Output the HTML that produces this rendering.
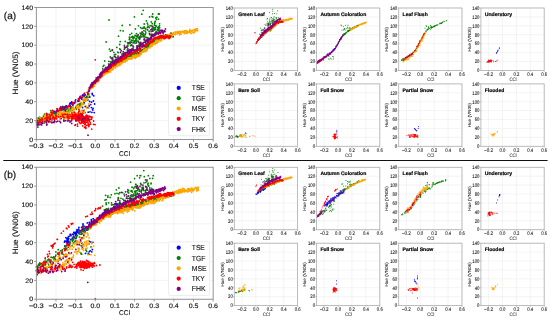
<!DOCTYPE html>
<html><head><meta charset="utf-8"><style>
html,body{margin:0;padding:0;background:#fff;width:550px;height:319px;overflow:hidden}
svg{display:block;font-family:"Liberation Sans",sans-serif;will-change:transform;text-rendering:geometricPrecision;filter:blur(0.3px)}
</style></head><body>
<svg width="550" height="319" viewBox="0 0 550 319">
<rect width="550" height="319" fill="#fff"/>
<path d="M36.35 7.45V139.45M55.99 7.45V139.45M75.64 7.45V139.45M95.28 7.45V139.45M114.93 7.45V139.45M134.57 7.45V139.45M154.22 7.45V139.45M173.86 7.45V139.45M193.51 7.45V139.45M213.15 7.45V139.45M36.35 139.45H213.15M36.35 120.59H213.15M36.35 101.74H213.15M36.35 82.88H213.15M36.35 64.02H213.15M36.35 45.16H213.15M36.35 26.31H213.15M36.35 7.45H213.15" stroke="#ebebeb" stroke-width="0.6" fill="none"/>
<path d="M55.1 112.7h0M82.7 94.9h0M69.3 105.8h0M80.5 96.5h0M90.5 87.1h0M73.2 104.5h0M71.8 107.0h0M54.9 111.3h0M62.6 108.2h0M71.7 102.0h0M78.8 99.3h0M83.6 95.9h0M67.0 106.7h0M54.7 112.0h0M63.4 107.2h0M87.8 94.0h0M60.4 108.1h0M69.8 105.1h0M88.7 91.6h0M53.0 113.6h0M75.7 99.8h0M89.4 90.7h0M61.1 110.5h0M73.6 103.2h0M87.8 93.6h0M57.3 112.3h0M72.6 104.6h0M81.5 98.1h0M78.4 101.3h0M70.4 107.2h0M60.1 108.9h0M71.3 103.6h0M66.7 109.5h0M70.8 102.8h0M66.4 106.2h0M85.0 94.7h0M82.3 95.8h0M64.4 106.9h0M74.6 102.9h0M62.9 107.6h0M69.9 103.4h0M65.9 107.0h0M77.9 101.0h0M66.6 106.0h0M70.1 105.5h0M86.9 96.3h0M92.6 109.7h0M87.8 99.9h0M89.9 97.1h0M91.5 102.2h0M92.7 109.8h0M91.9 112.3h0M82.6 107.5h0M87.7 97.1h0M88.2 112.2h0M83.2 112.9h0M89.2 105.9h0M90.0 111.8h0M92.8 110.1h0M94.2 112.6h0M84.1 102.7h0M85.4 99.3h0M90.7 104.6h0M84.2 110.4h0M85.3 106.5h0M89.6 101.4h0M84.6 94.4h0M92.2 93.4h0M93.1 108.3h0M82.9 112.8h0M89.1 96.6h0M92.4 94.7h0M94.6 104.0h0M85.9 97.8h0M84.6 95.9h0M93.4 101.0h0M93.8 95.8h0M85.0 112.6h0M88.0 107.7h0M91.4 107.6h0M97.0 81.0h0M93.0 83.3h0M101.3 73.3h0M91.9 85.4h0M92.1 83.2h0M103.4 72.5h0M100.3 76.8h0M97.1 78.9h0M100.7 75.9h0M98.2 80.1h0M95.5 80.6h0M93.1 83.0h0M96.9 79.8h0M102.1 72.5h0M93.0 84.6h0" stroke="#0000ff" stroke-width="1.80" stroke-linecap="round" fill="none"/>
<path d="M42.7 118.2h0M84.7 101.3h0M38.0 118.1h0M72.0 108.0h0M40.1 119.8h0M55.5 113.1h0M58.5 113.7h0M46.0 119.3h0M64.0 110.0h0M64.7 111.6h0M53.2 114.4h0M75.4 108.2h0M44.8 118.9h0M46.6 117.8h0M55.2 113.8h0M56.4 113.8h0M47.3 116.1h0M85.1 97.8h0M80.3 105.2h0M42.0 120.0h0M55.9 113.9h0M48.7 116.4h0M60.3 114.0h0M51.0 116.0h0M63.0 112.4h0M85.3 99.7h0M56.6 113.8h0M70.8 108.5h0M67.9 113.7h0M76.2 109.1h0M39.6 117.2h0M75.9 107.1h0M86.5 97.7h0M68.4 109.8h0M51.6 114.5h0M72.0 109.7h0M74.1 109.3h0M71.2 107.8h0M44.1 123.0h0M88.0 96.7h0M87.0 96.3h0M58.9 114.8h0M67.8 108.4h0M38.5 120.8h0M88.8 94.1h0M79.8 105.8h0M70.1 109.9h0M76.7 105.7h0M46.3 117.7h0M52.7 115.9h0M49.4 116.2h0M68.0 111.8h0M41.2 118.3h0M83.9 100.7h0M60.9 112.8h0M59.9 109.8h0M41.9 119.0h0M72.7 109.8h0M79.7 104.0h0M69.7 109.7h0M49.2 118.0h0M78.0 104.3h0M44.1 119.2h0M80.2 104.1h0M67.2 111.4h0M51.7 114.5h0M63.6 110.6h0M69.7 109.0h0M50.1 116.8h0M81.3 105.1h0M58.7 113.2h0M83.7 100.4h0M80.7 102.9h0M41.6 120.0h0M70.6 110.8h0M52.8 114.9h0M76.3 108.5h0M65.1 113.7h0M60.6 114.3h0M83.8 103.8h0M39.4 120.0h0M65.9 111.1h0M53.7 115.0h0M38.2 120.5h0M76.3 109.3h0M66.1 109.1h0M83.8 99.5h0M68.1 110.8h0M54.2 117.1h0M88.6 95.3h0M57.3 110.8h0M61.1 108.5h0M47.0 114.8h0M65.5 108.1h0M54.8 113.4h0M51.1 112.8h0M57.4 111.0h0M48.8 116.2h0M57.3 109.7h0M44.4 115.2h0M63.7 108.2h0M52.3 113.3h0M43.5 116.2h0M49.2 115.0h0M62.7 109.9h0M60.1 109.3h0M50.6 115.3h0M46.7 114.8h0M47.4 116.6h0M65.3 107.3h0M39.7 118.1h0M62.5 106.5h0M61.6 110.1h0M43.0 118.2h0M46.6 116.0h0M53.1 114.0h0M60.0 110.4h0M64.4 107.1h0M65.6 106.2h0M44.6 114.1h0M42.0 117.8h0M50.7 110.7h0M52.8 110.6h0M55.7 112.0h0M39.5 120.6h0M75.1 117.4h0M67.2 116.6h0M68.9 113.8h0M41.2 120.5h0M56.2 115.9h0M50.8 118.9h0M39.8 121.3h0M51.9 120.0h0M39.3 118.5h0M45.5 120.4h0M67.7 115.9h0M63.3 116.9h0M63.8 120.7h0M39.5 124.5h0M42.8 121.3h0M37.2 125.6h0M40.2 122.4h0M40.3 121.6h0M74.1 116.8h0M71.5 117.7h0M44.4 119.6h0M46.3 119.9h0M74.1 115.7h0M58.7 116.0h0M50.8 118.6h0M122.4 60.1h0M127.0 56.6h0M168.3 35.4h0M134.8 53.6h0M147.7 45.7h0M146.2 47.0h0M165.2 35.1h0M118.2 61.9h0M135.6 52.9h0M107.4 69.7h0M117.5 63.4h0M158.8 38.1h0M170.8 35.0h0M117.1 65.0h0M153.7 42.1h0M134.8 52.9h0M147.9 45.6h0M120.3 63.8h0M119.2 62.2h0M106.8 70.5h0M131.7 56.4h0M94.1 81.6h0M162.1 35.9h0M110.0 67.7h0M142.9 49.5h0M132.1 54.8h0M118.7 61.7h0M169.1 34.9h0M161.1 37.9h0M151.5 42.7h0M99.4 77.5h0M128.4 56.3h0M144.4 49.1h0M97.4 79.6h0M148.2 45.4h0M158.4 38.3h0M169.6 35.1h0M131.8 56.5h0M91.8 85.2h0M107.0 69.9h0M157.4 40.0h0M101.9 74.8h0M142.0 50.8h0M144.6 48.5h0M126.9 56.5h0M155.7 39.2h0M99.8 75.5h0M141.8 50.1h0M121.5 61.7h0M161.8 36.9h0M122.9 61.9h0M105.3 70.2h0M118.5 62.4h0M133.7 54.3h0M96.2 81.2h0M162.4 37.5h0M144.4 48.4h0M115.8 65.0h0M140.8 51.4h0M172.5 34.6h0M140.3 52.4h0M123.7 58.0h0M147.0 47.2h0M153.3 40.9h0M147.4 46.6h0M107.2 71.5h0M91.2 86.3h0M116.2 64.0h0M126.1 58.1h0M159.6 38.1h0M96.9 81.1h0M160.7 37.2h0M94.4 83.7h0M115.9 64.3h0M123.5 58.6h0M168.1 36.7h0M169.6 35.9h0M92.8 85.5h0M105.9 72.1h0M127.3 58.3h0M112.4 67.0h0M169.9 35.2h0M141.1 50.9h0M117.0 65.0h0M140.0 51.0h0M146.4 46.3h0M161.7 37.1h0M164.4 37.0h0M125.0 59.4h0M153.5 39.9h0M171.6 33.7h0M134.5 54.1h0M151.2 44.0h0M130.7 54.8h0M121.7 60.6h0M106.6 69.6h0M97.1 80.8h0M116.8 63.4h0M119.4 62.4h0M137.5 52.7h0M146.0 47.7h0M149.4 43.8h0M154.4 41.1h0M137.7 54.0h0M132.7 54.7h0M141.1 50.7h0M148.7 46.9h0M160.8 37.6h0M110.7 67.9h0M162.0 36.9h0M106.1 69.6h0M90.9 87.5h0M156.7 39.3h0M108.9 70.7h0M160.2 39.0h0M119.5 62.6h0M119.2 62.4h0M162.9 36.9h0M153.5 40.9h0M94.3 82.8h0M169.2 34.6h0M107.0 70.8h0M145.7 47.0h0M168.8 36.1h0M160.5 37.4h0M130.6 55.5h0M169.4 35.9h0M147.3 48.9h0M110.5 68.7h0M170.8 33.1h0M137.3 53.5h0M116.6 64.4h0M126.1 57.9h0M105.8 70.6h0M137.8 53.0h0M137.3 53.6h0M102.9 74.8h0M124.4 59.3h0M111.9 68.2h0M165.0 35.8h0M105.8 70.2h0M140.8 50.2h0M143.5 49.6h0M140.4 52.2h0M120.9 62.4h0M110.1 68.1h0M90.1 87.3h0M106.7 70.2h0M158.2 38.4h0M112.9 67.5h0M134.5 56.1h0M114.5 64.3h0M94.8 83.6h0M125.0 57.0h0M173.2 36.7h0M123.3 60.6h0M117.6 64.1h0M137.8 53.0h0M119.7 61.4h0M109.3 69.5h0M121.6 60.3h0M165.4 37.1h0M101.4 75.8h0M100.5 77.5h0M153.1 42.3h0M105.2 72.5h0M100.4 76.3h0M110.0 65.6h0M163.9 37.4h0M168.8 35.7h0M168.2 35.0h0M115.9 64.3h0M165.9 34.8h0M94.7 83.9h0M130.1 55.4h0M136.0 54.6h0M127.3 56.5h0M172.0 34.9h0M153.1 41.6h0M129.7 56.7h0M151.3 44.7h0M153.8 42.2h0M98.9 77.7h0M116.6 64.1h0M117.1 63.0h0M169.1 36.6h0M161.5 36.8h0M114.8 64.2h0M172.9 36.8h0M95.5 81.9h0M117.6 61.7h0M106.4 71.8h0M133.4 54.0h0M165.8 35.9h0M155.9 38.9h0M92.5 85.6h0M110.4 68.9h0M155.1 40.7h0M113.1 66.6h0M158.5 39.1h0M142.0 50.9h0M148.3 44.5h0M149.7 44.8h0M138.1 54.1h0M105.0 72.9h0M158.0 38.4h0M137.0 55.4h0M150.3 43.4h0M91.6 85.6h0M104.7 71.2h0M137.1 53.9h0M157.1 39.8h0M119.9 61.7h0M152.9 41.9h0M89.5 87.3h0M93.2 84.6h0M147.5 46.3h0M172.8 36.1h0M116.1 64.4h0M117.8 63.1h0M118.1 62.0h0M138.4 52.8h0M122.7 58.9h0M120.1 60.6h0M154.2 41.6h0M89.6 89.3h0M162.9 37.2h0M152.0 42.8h0M170.2 36.0h0M160.4 37.1h0M156.4 38.8h0M114.1 64.5h0M155.3 39.9h0M139.8 52.2h0M118.9 62.1h0M157.8 39.6h0M130.7 55.7h0M172.5 35.6h0M150.4 42.9h0M163.7 38.6h0M152.7 14.0h0M152.4 31.1h0M116.8 47.4h0M127.3 47.1h0M159.6 32.9h0M141.6 33.1h0M155.0 27.8h0M145.9 41.3h0M153.5 36.2h0M119.7 48.8h0M144.1 27.0h0M152.8 29.3h0M140.6 27.7h0M151.6 34.3h0M155.2 33.1h0M154.7 23.4h0M130.0 34.6h0M157.5 29.8h0M147.1 37.7h0M128.7 51.2h0M154.1 28.0h0M132.8 49.4h0M136.8 46.1h0M140.6 42.5h0M144.2 40.0h0M127.9 46.1h0M155.8 18.0h0M154.9 34.9h0M135.5 40.7h0M159.3 14.0h0M118.5 36.2h0M124.3 49.2h0M153.2 27.1h0M132.2 48.6h0M130.2 42.0h0M113.3 61.7h0M136.7 39.0h0M120.2 49.4h0M149.0 38.5h0M109.5 49.2h0M141.5 36.9h0M156.9 17.2h0M146.4 20.9h0M136.7 41.0h0M123.2 53.2h0M158.8 29.4h0M112.6 57.7h0M144.0 35.9h0M138.5 41.7h0M153.3 28.2h0M147.4 27.5h0M158.4 27.9h0M158.8 33.7h0M152.0 16.4h0M143.1 36.6h0M145.3 34.7h0M157.8 27.5h0M152.3 23.7h0M152.7 34.4h0M158.4 29.3h0M138.7 42.3h0M155.2 27.9h0M152.9 17.0h0M139.2 44.7h0M152.9 30.9h0M123.1 30.9h0M112.5 60.7h0M156.5 19.4h0M159.5 30.4h0M141.3 34.0h0M139.4 43.7h0M131.3 40.2h0M158.3 34.1h0M133.2 46.2h0M149.3 27.5h0M154.8 25.4h0M142.1 43.7h0M158.9 27.0h0M138.4 46.1h0M153.6 34.6h0M130.6 45.6h0M143.3 28.0h0M151.1 31.6h0M132.8 37.7h0M155.3 21.4h0M158.4 14.0h0M134.7 42.9h0M143.8 33.9h0M112.2 50.4h0M140.1 46.0h0M147.6 40.2h0M127.2 50.1h0M159.5 25.8h0M128.1 43.8h0M144.2 36.9h0M110.4 51.2h0M135.1 35.3h0M154.4 25.2h0M140.2 33.2h0M156.0 25.7h0M154.9 22.1h0M141.3 42.9h0M126.8 46.3h0M154.6 30.1h0M157.9 30.8h0M132.3 48.7h0M120.2 41.6h0M155.6 29.1h0M148.0 38.0h0M133.1 38.1h0M127.9 52.0h0M143.9 30.7h0M158.1 29.0h0M127.6 42.7h0M151.9 28.8h0M132.8 48.8h0M147.4 23.2h0M141.8 43.7h0M146.5 41.4h0M125.3 41.4h0M156.2 31.5h0M159.7 27.8h0M143.9 39.3h0M140.0 46.0h0M154.0 29.2h0M127.7 45.5h0M119.7 44.5h0M151.7 34.3h0M145.8 37.2h0M148.8 39.7h0M114.4 54.7h0M156.2 26.6h0M150.0 34.8h0M123.5 54.6h0M149.8 39.0h0M159.6 23.8h0M133.0 42.9h0M158.5 19.1h0M159.0 26.4h0M155.6 32.4h0M134.0 42.1h0M139.7 37.9h0M137.8 37.0h0M144.2 24.0h0M144.0 36.5h0M138.4 41.3h0M135.8 38.9h0M133.2 38.8h0M129.7 38.7h0M138.2 41.2h0M128.7 43.1h0M136.3 36.1h0M149.6 33.6h0M142.8 32.8h0M137.6 35.3h0M149.1 31.1h0M150.2 25.7h0M145.5 31.1h0M135.3 41.0h0M147.8 24.8h0M145.8 32.9h0M142.7 34.8h0M138.8 38.1h0M134.5 36.9h0M135.1 43.1h0M139.9 37.3h0M139.6 39.2h0M138.5 25.8h0M145.9 29.1h0M134.1 37.3h0M131.3 37.2h0M132.4 40.6h0M142.1 28.4h0M129.4 37.2h0M135.4 28.9h0M132.4 36.9h0M129.3 39.5h0M149.1 31.6h0M136.5 33.7h0M148.1 26.7h0M139.1 37.5h0M149.6 16.9h0M131.7 33.3h0M136.7 36.8h0M134.1 40.8h0M144.9 28.2h0M133.9 38.1h0M140.8 35.2h0M132.8 36.4h0M130.1 43.7h0M109.0 20.0h0M143.2 10.3h0M141.8 14.2h0M134.4 16.9h0M151.3 21.9h0M122.2 25.4h0M129.9 24.9h0M120.4 30.6h0M106.1 42.0h0M117.6 57.5h0M108.8 61.3h0M110.3 56.9h0M118.3 52.7h0M113.0 60.6h0M112.7 62.5h0M108.9 65.6h0M121.9 54.1h0M108.9 66.6h0M117.7 52.1h0M102.7 68.7h0M124.4 45.4h0M125.9 53.1h0M105.9 67.4h0M112.4 58.9h0M103.9 65.5h0M111.7 58.8h0M123.3 53.7h0M116.3 57.8h0M104.7 61.0h0M125.9 54.0h0M115.4 57.0h0M103.1 66.3h0M110.5 62.0h0M104.9 69.5h0M123.7 56.1h0M111.2 61.9h0M113.9 52.3h0M122.6 56.6h0M115.7 54.5h0" stroke="#008000" stroke-width="1.80" stroke-linecap="round" fill="none"/>
<path d="M53.5 116.2h0M36.9 120.4h0M88.4 96.0h0M87.8 98.3h0M64.8 112.8h0M69.1 109.0h0M71.8 107.7h0M85.5 99.0h0M61.1 113.7h0M67.3 110.5h0M48.4 116.9h0M49.2 115.5h0M64.0 111.5h0M48.5 117.4h0M38.0 119.8h0M55.9 115.8h0M76.1 105.8h0M51.0 113.9h0M82.1 104.5h0M73.6 108.2h0M71.0 111.1h0M83.7 99.9h0M40.3 117.9h0M45.8 117.8h0M84.6 98.9h0M84.5 101.2h0M40.5 120.2h0M77.4 107.0h0M37.2 120.5h0M43.5 118.7h0M42.2 118.4h0M51.9 116.3h0M56.9 112.6h0M84.7 98.7h0M59.5 113.7h0M42.9 120.5h0M50.8 114.6h0M36.7 118.8h0M37.8 120.3h0M59.2 115.0h0M63.5 111.4h0M49.6 113.8h0M56.5 116.7h0M41.8 118.0h0M71.3 110.0h0M57.2 114.9h0M44.9 117.0h0M62.7 114.0h0M47.4 116.4h0M51.8 113.4h0M42.9 118.1h0M77.8 107.2h0M51.2 118.3h0M87.0 99.1h0M57.9 116.2h0M44.6 115.4h0M73.8 109.1h0M75.3 109.2h0M83.1 104.0h0M43.3 119.9h0M78.2 106.0h0M82.0 104.8h0M52.5 112.6h0M60.5 113.8h0M69.2 111.3h0M49.4 115.8h0M82.6 100.2h0M73.4 106.9h0M81.8 103.7h0M60.2 112.4h0M63.9 111.5h0M46.7 116.3h0M53.0 114.6h0M75.0 109.2h0M87.2 98.9h0M44.4 117.6h0M39.0 121.5h0M39.9 117.3h0M59.4 112.9h0M78.4 107.0h0M48.3 117.1h0M61.7 113.1h0M63.7 111.9h0M80.8 102.3h0M45.1 119.8h0M48.6 118.3h0M88.9 108.1h0M69.3 115.1h0M59.1 116.3h0M82.2 113.7h0M52.1 118.1h0M60.1 119.2h0M86.7 106.4h0M56.5 118.0h0M77.8 114.1h0M49.7 117.5h0M69.2 116.2h0M74.6 114.2h0M55.2 119.5h0M60.3 118.0h0M70.0 118.0h0M71.7 116.0h0M52.8 117.0h0M63.9 116.4h0M89.4 104.2h0M60.1 118.8h0M80.1 114.6h0M54.9 118.7h0M66.1 115.6h0M68.6 115.6h0M71.9 115.7h0M77.2 113.3h0M80.6 113.3h0M76.4 114.5h0M81.1 111.0h0M84.5 111.9h0M60.3 116.9h0M81.9 110.2h0M68.6 115.9h0M57.4 116.5h0M53.7 119.2h0M79.2 110.6h0M73.7 118.8h0M49.2 121.1h0M71.6 117.3h0M48.1 117.2h0M63.1 116.3h0M70.9 116.2h0M74.3 117.1h0M53.0 117.9h0M48.1 119.5h0M71.1 116.8h0M81.6 115.0h0M80.6 114.7h0M61.7 116.7h0M71.1 115.3h0M77.2 114.1h0M83.9 111.9h0M67.4 118.9h0M84.0 111.5h0M59.9 118.8h0M55.6 117.8h0M58.9 116.7h0M77.7 115.1h0M84.4 112.6h0M66.5 114.9h0M76.2 114.0h0M52.2 119.6h0M68.1 120.7h0M65.0 116.6h0M64.8 115.6h0M54.3 116.5h0M73.1 116.5h0M75.2 115.9h0M73.7 116.1h0M78.3 112.6h0M66.0 118.2h0M83.0 112.4h0M70.9 117.2h0M84.3 110.8h0M63.9 119.1h0M76.4 113.9h0M54.7 118.8h0M49.8 119.6h0M86.4 108.0h0M62.2 115.2h0M48.1 122.2h0M72.9 114.0h0M86.5 107.9h0M79.4 113.9h0M88.8 104.0h0M86.6 108.4h0M65.9 114.5h0M56.3 118.6h0M49.0 120.8h0M74.2 111.1h0M72.7 109.0h0M82.0 103.0h0M78.7 109.2h0M60.0 116.2h0M66.9 112.4h0M81.1 105.1h0M69.2 112.3h0M60.5 114.0h0M87.0 99.5h0M68.8 113.5h0M63.6 112.8h0M71.1 110.4h0M63.3 113.7h0M62.2 113.0h0M76.8 107.7h0M81.7 106.4h0M67.3 112.9h0M58.1 113.1h0M69.8 113.2h0M67.1 110.7h0M68.3 112.8h0M61.0 113.1h0M80.8 106.8h0M59.6 113.6h0M53.5 114.6h0M78.2 108.8h0M79.8 107.7h0M61.0 114.0h0M58.5 112.0h0M73.7 112.2h0M86.4 100.7h0M61.5 112.7h0M72.2 111.9h0M61.9 113.3h0M183.9 32.5h0M126.4 60.3h0M154.0 43.5h0M122.0 63.0h0M112.9 67.9h0M93.1 85.2h0M115.1 67.5h0M116.6 65.8h0M170.9 35.7h0M145.7 50.3h0M173.7 34.3h0M120.6 62.7h0M112.6 68.3h0M152.4 43.6h0M119.0 63.2h0M171.6 35.0h0M131.0 58.7h0M120.0 64.6h0M171.5 34.7h0M110.0 69.6h0M168.4 34.7h0M131.9 59.0h0M98.7 79.0h0M157.8 40.1h0M155.8 40.0h0M100.3 77.9h0M139.5 54.5h0M139.8 55.5h0M167.4 37.1h0M110.8 70.6h0M150.4 47.0h0M197.6 30.7h0M91.1 88.7h0M167.5 36.5h0M127.5 59.2h0M142.3 51.7h0M120.1 63.9h0M139.6 53.5h0M143.4 50.6h0M189.7 32.6h0M184.6 32.4h0M190.8 32.2h0M194.9 31.2h0M132.4 57.5h0M174.5 34.1h0M186.4 30.6h0M102.1 74.3h0M168.6 35.7h0M152.3 44.9h0M111.1 69.7h0M158.2 40.7h0M164.4 37.1h0M160.7 40.1h0M90.1 87.9h0M190.2 31.4h0M127.7 58.5h0M176.8 32.4h0M106.2 71.4h0M155.0 42.8h0M95.7 84.1h0M150.1 47.8h0M160.0 40.1h0M131.6 59.1h0M167.7 37.7h0M141.1 53.5h0M95.5 84.0h0M93.6 84.4h0M94.9 82.1h0M126.4 60.3h0M190.6 30.9h0M125.2 62.1h0M178.3 33.2h0M159.7 40.6h0M166.0 37.9h0M160.9 40.9h0M111.4 67.9h0M184.5 33.6h0M135.0 57.7h0M191.3 31.0h0M91.1 87.2h0M101.9 76.0h0M104.0 74.2h0M168.7 36.7h0M101.1 76.5h0M136.4 56.0h0M145.4 51.2h0M145.4 48.6h0M121.5 63.3h0M185.5 31.2h0M138.7 56.3h0M108.5 72.3h0M150.2 46.8h0M101.7 77.1h0M162.4 37.7h0M108.3 72.8h0M186.5 31.7h0M97.9 81.4h0M123.2 61.6h0M112.9 68.1h0M151.5 45.8h0M133.6 55.3h0M138.7 55.1h0M138.2 54.5h0M156.1 43.0h0M118.0 65.2h0M124.5 61.2h0M117.6 65.2h0M105.2 73.8h0M157.4 41.8h0M191.2 33.6h0M188.4 32.0h0M194.6 31.2h0M101.4 77.0h0M167.5 35.7h0M97.5 79.1h0M178.3 32.8h0M181.4 31.9h0M141.6 52.3h0M197.0 29.4h0M139.9 53.6h0M148.4 47.9h0M126.3 60.5h0M178.6 32.9h0M150.9 44.3h0M144.0 50.4h0M135.7 55.0h0M171.5 36.0h0M97.3 81.0h0M158.3 40.3h0M97.3 80.7h0M113.1 69.3h0M93.0 87.1h0M146.0 51.3h0M192.3 31.1h0M112.6 66.4h0M101.7 76.2h0M146.8 49.9h0M91.7 86.5h0M127.6 59.6h0M137.9 55.4h0M97.8 81.0h0M186.1 33.0h0M131.3 58.5h0M153.4 43.2h0M101.7 76.2h0M195.0 29.3h0M109.2 71.6h0M140.2 53.0h0M99.0 79.3h0M106.5 72.4h0M104.2 73.1h0M131.4 58.0h0M99.0 79.1h0M140.3 53.3h0M151.0 45.1h0M110.2 69.4h0M173.1 33.2h0M97.7 80.3h0M152.1 45.2h0M177.7 31.3h0M156.3 41.7h0M89.9 88.2h0M97.6 81.5h0M94.4 86.0h0M103.5 75.3h0M146.8 48.8h0M194.0 30.0h0M129.6 58.6h0M175.4 33.1h0M118.9 63.7h0M195.4 29.4h0M131.1 58.0h0M110.7 69.6h0M110.3 70.2h0M101.8 77.0h0M98.3 78.9h0M190.4 32.1h0M168.2 36.1h0M105.3 73.2h0M155.0 44.4h0M140.0 53.4h0M97.3 81.5h0M197.1 29.7h0M115.2 66.9h0M151.9 46.2h0M128.7 58.7h0M142.6 52.0h0M197.4 29.0h0M172.8 34.0h0M115.4 68.0h0M166.1 35.9h0M140.0 53.3h0M115.4 65.9h0M150.3 45.8h0M114.9 67.4h0M177.9 32.8h0M121.5 63.2h0M100.1 75.6h0M183.5 32.5h0M107.9 72.6h0M166.6 36.9h0M184.1 31.0h0M168.7 36.4h0M192.9 32.7h0M118.9 63.2h0M130.1 58.1h0M158.7 40.8h0M102.2 75.2h0M197.1 30.7h0M161.3 40.0h0M163.5 37.1h0M153.0 44.5h0M144.4 50.2h0M110.6 69.8h0M100.9 76.5h0M117.1 65.4h0M92.5 87.8h0M157.4 40.5h0M109.1 71.2h0M189.8 30.4h0M101.3 76.7h0M124.3 60.1h0M183.1 32.7h0M157.1 43.0h0M134.5 57.0h0M169.1 35.3h0M133.1 57.6h0M106.5 73.0h0M196.2 28.8h0M184.5 32.3h0M169.8 34.6h0M120.0 63.7h0M144.7 51.7h0M99.0 80.1h0M93.6 85.2h0M192.5 30.4h0M135.0 57.3h0M113.2 69.2h0M175.4 34.6h0M146.7 49.3h0M161.5 39.7h0M101.2 77.4h0M138.0 53.9h0M133.9 56.8h0M121.5 63.6h0M108.8 71.0h0M184.6 30.8h0M170.3 34.7h0M150.8 45.8h0M119.2 65.5h0M158.5 41.9h0M134.2 57.2h0M89.6 88.9h0M157.3 42.5h0M162.0 39.8h0M194.3 30.4h0M179.5 34.9h0M98.0 81.9h0M123.9 61.6h0M94.2 83.9h0M96.8 81.4h0M140.1 53.1h0M112.2 67.4h0M96.0 81.8h0M157.8 41.1h0M189.9 29.4h0M179.4 31.6h0M95.2 82.6h0M121.8 63.4h0M93.5 84.7h0M135.2 58.3h0M191.4 31.2h0M110.4 72.0h0M169.0 36.1h0M143.4 50.5h0M146.0 49.4h0M180.2 31.5h0M123.3 61.9h0M124.8 60.9h0M169.8 35.7h0M104.7 73.3h0M101.1 77.1h0M134.1 55.9h0M132.3 56.2h0M122.4 62.1h0M117.1 66.5h0M185.4 31.5h0M134.1 55.8h0M123.1 61.4h0M175.2 33.5h0M181.6 31.8h0M165.8 35.8h0M194.5 32.6h0M102.8 73.9h0M138.2 54.7h0M177.8 32.9h0M195.6 30.6h0M111.0 69.3h0M170.5 34.7h0M112.4 69.8h0M132.7 56.8h0M171.3 34.9h0M173.4 32.9h0M95.6 82.3h0M117.2 65.6h0M194.4 30.3h0M151.4 44.8h0M152.4 44.4h0M117.2 65.0h0M138.5 55.7h0M119.0 65.5h0M104.4 74.5h0M120.4 64.8h0M150.2 46.9h0M146.5 48.7h0M146.6 50.4h0M126.9 60.8h0M136.9 55.3h0M184.6 32.5h0M189.7 31.2h0M187.2 32.7h0M115.0 67.6h0M158.6 40.7h0M173.1 32.9h0M125.1 60.4h0M141.4 54.3h0M182.7 32.0h0M166.1 36.0h0M168.6 35.3h0M98.1 81.3h0M95.1 83.5h0M164.6 35.6h0M151.8 45.8h0M108.0 71.2h0M89.9 89.1h0M115.1 67.8h0M157.3 41.5h0M128.9 57.9h0M160.3 38.6h0M106.1 73.6h0M160.1 40.1h0M101.6 77.3h0M187.0 33.4h0M117.3 64.9h0M89.9 87.2h0M176.7 32.2h0M124.4 61.6h0M134.0 55.8h0M105.1 72.5h0M111.6 69.4h0M132.9 57.4h0M121.1 63.4h0M144.5 50.3h0M118.5 63.1h0M137.0 56.6h0M92.6 86.9h0M144.3 50.0h0M154.9 42.6h0M187.3 33.2h0M167.4 37.2h0M98.0 81.1h0M129.2 59.2h0M172.2 34.3h0M167.7 35.4h0M95.2 83.5h0M92.5 85.9h0M143.4 52.0h0M138.2 54.5h0M104.4 72.8h0M118.3 65.0h0M127.5 60.0h0M175.2 32.0h0M117.7 64.4h0M177.2 34.1h0M181.0 34.2h0M116.3 66.2h0M182.4 31.5h0M98.2 80.6h0M131.1 58.2h0M100.2 78.4h0M124.6 60.5h0M120.3 62.4h0M172.4 35.6h0M180.1 33.1h0M125.8 60.5h0M126.4 60.5h0M194.6 31.3h0M107.1 71.4h0M141.0 53.1h0M153.9 42.7h0M161.1 37.8h0M106.1 73.1h0M124.0 61.0h0M105.6 73.5h0M171.9 34.8h0M168.7 35.6h0M179.0 33.2h0M136.2 57.4h0M91.5 85.7h0M187.5 31.4h0" stroke="#ffa500" stroke-width="1.80" stroke-linecap="round" fill="none"/>
<path d="M46.4 113.5h0M72.8 102.6h0M58.3 110.7h0M61.3 109.3h0M88.1 93.2h0M78.3 98.9h0M48.5 117.1h0M75.6 102.2h0M46.7 115.6h0M84.5 94.4h0M72.0 104.0h0M73.4 104.4h0M46.9 116.9h0M49.8 114.9h0M68.9 105.3h0M62.7 108.4h0M81.5 97.8h0M58.4 111.3h0M63.4 108.3h0M51.4 112.2h0M67.9 107.3h0M87.4 92.4h0M57.7 108.9h0M80.4 97.7h0M53.3 113.2h0M84.5 94.6h0M68.3 106.6h0M51.6 113.3h0M80.0 96.7h0M84.5 93.1h0M52.4 115.1h0M51.2 112.6h0M57.0 108.7h0M68.4 106.3h0M87.2 92.3h0M83.4 94.4h0M60.2 110.2h0M47.8 114.2h0M71.9 104.1h0M71.0 106.8h0M56.6 110.9h0M72.3 104.1h0M88.6 90.1h0M52.4 110.4h0M59.8 109.0h0M82.8 97.1h0M53.1 112.2h0M51.7 113.0h0M53.6 111.3h0M79.4 100.8h0M51.7 114.7h0M50.1 116.4h0M73.3 102.6h0M79.3 99.1h0M78.9 100.2h0M64.0 117.7h0M36.7 122.3h0M45.2 118.2h0M40.4 119.8h0M48.1 117.8h0M45.0 118.6h0M42.2 119.2h0M42.5 119.8h0M53.9 117.5h0M42.4 121.2h0M72.8 118.5h0M55.3 118.1h0M41.9 118.1h0M67.1 117.2h0M73.5 116.5h0M53.3 116.7h0M36.6 122.3h0M67.0 117.1h0M71.9 113.0h0M78.3 112.8h0M70.0 114.6h0M64.5 117.6h0M52.5 117.8h0M47.8 119.1h0M39.4 120.4h0M75.0 113.0h0M62.8 115.0h0M49.9 118.9h0M42.2 119.9h0M49.9 121.2h0M72.1 114.5h0M46.5 118.9h0M38.8 122.5h0M54.3 119.5h0M52.2 118.8h0M69.2 118.1h0M62.6 116.3h0M58.6 116.9h0M82.4 114.1h0M76.1 114.5h0M42.4 119.2h0M48.1 117.9h0M56.1 116.0h0M39.7 121.9h0M72.1 116.2h0M72.6 116.2h0M50.1 118.2h0M79.0 109.6h0M62.4 114.5h0M46.9 117.3h0M65.7 114.2h0M68.1 118.9h0M70.2 116.2h0M82.1 113.3h0M79.4 111.4h0M55.8 114.9h0M56.7 118.8h0M37.5 122.1h0M56.0 116.8h0M44.7 121.3h0M42.0 122.2h0M74.8 116.2h0M37.4 120.7h0M42.4 122.6h0M67.7 114.3h0M63.1 116.7h0M56.6 116.4h0M74.4 112.5h0M47.6 120.9h0M46.1 121.5h0M60.6 116.4h0M41.4 123.0h0M68.8 117.3h0M80.4 113.3h0M74.6 114.8h0M77.9 116.1h0M39.8 122.3h0M56.3 116.7h0M78.9 111.4h0M76.0 117.9h0M64.3 114.4h0M67.2 114.8h0M48.9 121.3h0M48.9 122.0h0M39.5 121.0h0M78.9 114.4h0M50.0 119.0h0M83.1 110.8h0M36.7 123.0h0M74.0 115.0h0M84.0 119.3h0M85.8 117.7h0M89.5 116.8h0M89.2 116.2h0M83.0 118.3h0M80.9 119.9h0M92.1 117.1h0M84.7 118.0h0M83.8 117.1h0M77.2 117.5h0M85.3 116.6h0M78.6 116.7h0M80.0 116.4h0M76.2 118.5h0M79.7 116.2h0M82.2 118.6h0M75.5 117.6h0M78.1 114.8h0M81.6 117.2h0M76.5 119.6h0M76.5 115.4h0M78.3 116.2h0M75.9 115.9h0M84.6 117.4h0M77.7 117.2h0M85.2 118.1h0M85.9 118.9h0M76.8 115.3h0M82.1 118.4h0M79.9 118.5h0M77.0 118.5h0M80.5 114.8h0M80.9 116.4h0M85.0 118.4h0M86.3 117.8h0M77.2 116.9h0M80.2 116.4h0M84.2 120.3h0M87.0 116.3h0M71.4 118.1h0M87.4 118.9h0M81.2 118.4h0M88.5 116.5h0M80.1 114.9h0M78.3 117.5h0M82.1 116.9h0M87.0 119.1h0M82.1 117.0h0M71.8 116.4h0M84.9 120.1h0M75.0 118.6h0M77.7 116.5h0M76.9 120.6h0M74.0 118.4h0M76.5 116.8h0M77.7 120.5h0M79.3 118.4h0M81.7 117.7h0M80.5 116.3h0M75.5 119.8h0M81.1 116.0h0M86.1 117.3h0M86.0 115.8h0M82.5 115.9h0M84.6 117.2h0M85.8 117.0h0M87.8 120.6h0M89.3 119.9h0M80.5 119.4h0M80.8 118.3h0M88.3 116.3h0M88.7 120.6h0M88.6 118.3h0M71.8 119.9h0M81.0 120.3h0M67.9 115.4h0M85.1 117.6h0M82.2 115.1h0M82.2 115.9h0M81.3 119.2h0M87.6 120.7h0M80.7 114.4h0M86.4 118.4h0M84.3 119.6h0M83.5 116.7h0M83.9 117.5h0M82.4 118.8h0M77.2 118.3h0M85.0 117.5h0M85.0 117.6h0M81.3 116.6h0M85.1 118.3h0M85.8 118.3h0M76.4 116.8h0M81.3 117.3h0M80.0 116.0h0M78.0 118.2h0M83.3 117.9h0M78.3 119.6h0M80.0 115.4h0M83.0 120.0h0M83.4 117.4h0M83.3 119.2h0M91.6 117.2h0M79.7 116.6h0M83.0 120.4h0M76.7 118.1h0M84.0 120.6h0M86.9 115.5h0M87.2 118.5h0M79.2 120.3h0M80.7 118.9h0M87.4 115.7h0M81.5 115.4h0M86.1 115.7h0M77.7 119.0h0M87.9 118.0h0M86.4 115.1h0M83.9 118.9h0M78.5 118.3h0M81.2 119.3h0M82.6 119.6h0M83.1 115.8h0M81.5 116.8h0M81.0 117.0h0M82.8 116.8h0M88.0 116.1h0M73.2 115.3h0M76.0 117.8h0M75.2 118.3h0M79.0 119.4h0M74.4 116.0h0M84.3 118.6h0M82.3 120.2h0M80.8 118.2h0M79.0 117.7h0M82.6 116.4h0M82.7 116.2h0M83.4 118.9h0M78.8 119.0h0M84.7 118.3h0M75.6 119.7h0M87.3 117.9h0M68.6 117.0h0M79.4 117.7h0M76.7 120.4h0M85.3 119.7h0M75.5 115.7h0M89.8 119.4h0M75.2 116.6h0M90.7 116.8h0M83.9 118.3h0M82.1 119.4h0M83.8 117.4h0M91.4 119.2h0M85.8 118.0h0M72.3 117.6h0M87.1 118.9h0M82.9 118.1h0M74.9 118.3h0M85.2 119.7h0M76.7 118.1h0M82.7 118.8h0M82.9 120.7h0M79.1 118.3h0M84.7 118.2h0M77.5 118.7h0M82.8 121.1h0M79.6 116.5h0M81.1 116.7h0M90.2 116.7h0M82.4 117.2h0M77.2 119.8h0M81.4 117.6h0M78.6 119.3h0M82.0 114.3h0M82.6 118.6h0M82.3 116.7h0M82.3 120.3h0M79.6 119.7h0M83.9 118.6h0M86.5 116.6h0M79.2 116.9h0M81.7 117.3h0M82.2 120.7h0M87.3 116.0h0M86.6 119.2h0M78.8 115.2h0M82.2 114.8h0M75.5 116.4h0M88.0 123.0h0M80.0 116.0h0M93.6 124.4h0M85.2 124.2h0M88.0 124.9h0M81.4 121.9h0M84.2 121.3h0M80.3 119.6h0M83.6 123.1h0M84.5 127.4h0M85.4 121.6h0M89.4 119.7h0M86.2 122.4h0M85.3 122.8h0M84.6 120.9h0M91.6 118.4h0M82.4 122.7h0M88.7 126.5h0M77.5 124.1h0M81.4 122.9h0M85.9 127.6h0M83.9 120.3h0M95.1 124.6h0M93.6 121.0h0M79.1 121.9h0M80.7 123.4h0M84.0 117.9h0M90.6 124.1h0M88.5 124.4h0M85.6 121.6h0M79.5 120.1h0M81.5 122.5h0M75.0 125.3h0M79.1 120.5h0M86.0 120.8h0M87.3 116.6h0M79.9 123.1h0M84.9 121.9h0M90.2 124.1h0M85.1 126.7h0M83.4 122.3h0M86.7 120.1h0M86.4 125.3h0M84.8 124.4h0M82.6 125.8h0M83.0 118.7h0M84.8 124.3h0M82.6 120.8h0M89.2 124.9h0M87.7 122.3h0M88.3 124.2h0M91.7 129.1h0M90.1 122.3h0M89.5 121.0h0M85.8 128.4h0M95.3 59.8h0M77.6 126.2h0M85.5 127.7h0M152.6 41.6h0M102.9 72.4h0M162.4 36.8h0M102.8 71.9h0M96.1 81.1h0M119.0 60.5h0M152.8 39.7h0M152.6 40.4h0M159.9 36.1h0M104.0 71.1h0M107.2 68.2h0M106.2 70.0h0M106.3 69.2h0M123.8 58.5h0M170.5 37.4h0M144.6 45.2h0M117.1 62.4h0M167.7 37.3h0M135.2 51.9h0M92.6 86.2h0M95.4 81.7h0M134.6 51.9h0M105.2 71.3h0M111.3 67.3h0M119.8 58.9h0M138.0 50.5h0M165.3 38.0h0M96.6 80.9h0M164.6 38.6h0M124.5 58.8h0M114.7 65.4h0M112.9 65.8h0M118.5 60.9h0M123.7 57.2h0M121.7 59.2h0M158.4 36.7h0M117.0 61.7h0M108.9 69.1h0M165.4 37.9h0M152.9 39.7h0M91.7 85.1h0M134.7 51.3h0M140.5 50.2h0M101.5 76.2h0M116.5 60.8h0M104.1 72.0h0M96.3 79.9h0M131.2 53.7h0M95.4 83.0h0M127.0 54.4h0M128.4 54.4h0M138.0 49.6h0M159.1 37.0h0M91.6 86.7h0M103.9 72.0h0M143.8 45.7h0M124.3 58.0h0M104.0 71.7h0M104.9 70.3h0M104.7 72.4h0M164.5 37.5h0M120.4 59.8h0M136.3 50.7h0M136.0 51.8h0M151.0 42.0h0M128.7 54.2h0M120.9 60.2h0M147.6 43.5h0M115.9 62.6h0M97.4 79.6h0M170.7 36.1h0M165.4 36.1h0M126.6 56.9h0M148.3 42.8h0M156.0 37.8h0M120.4 60.2h0M104.2 71.7h0M102.4 72.4h0M160.9 37.5h0M170.1 37.1h0M126.0 57.3h0M169.2 37.0h0M128.0 55.0h0M126.3 56.8h0M111.3 66.6h0M135.7 51.4h0M121.2 58.2h0M160.1 37.6h0M167.0 35.3h0M147.6 43.0h0M125.1 56.1h0M119.2 60.2h0M168.6 36.8h0M144.8 46.4h0M140.5 49.1h0M89.4 88.0h0M169.7 36.7h0M116.9 60.9h0M130.4 52.3h0M102.9 72.4h0M168.1 36.0h0M161.3 37.9h0M121.7 60.7h0M154.4 38.9h0M170.7 36.5h0M160.4 36.1h0M97.8 76.9h0M95.9 81.0h0M117.5 60.7h0M129.2 53.4h0M108.4 68.3h0M102.3 72.8h0M108.3 68.2h0M167.5 35.6h0M155.4 38.9h0M102.0 75.7h0M124.4 57.1h0M158.2 36.7h0M111.7 65.1h0M131.9 53.8h0M112.9 64.6h0M165.1 37.6h0M131.1 53.0h0M114.5 64.5h0M149.5 43.2h0M108.6 67.5h0M110.3 68.1h0M164.9 38.3h0M162.0 36.5h0M103.7 72.0h0M97.5 81.2h0M161.1 36.3h0M124.6 58.1h0M152.2 40.7h0M117.8 61.7h0M94.4 81.1h0M99.5 76.9h0M127.4 54.5h0M150.1 42.0h0M163.7 36.7h0M114.7 64.9h0M123.7 57.6h0M147.5 44.3h0M145.7 46.0h0M153.1 39.4h0M150.4 40.8h0M132.4 52.7h0M151.1 41.4h0M125.8 55.6h0M153.0 40.7h0M126.9 55.3h0M98.4 77.7h0M155.4 38.1h0M102.3 73.7h0M133.7 52.4h0M149.2 43.1h0M140.8 48.9h0M135.1 51.3h0M169.0 38.4h0M110.9 65.5h0M130.2 53.6h0M150.0 41.8h0M169.3 37.6h0M108.7 68.6h0M92.2 85.6h0M155.2 37.5h0M142.0 47.3h0M125.8 55.3h0M163.8 37.1h0M169.1 38.5h0M119.8 61.1h0M123.9 57.9h0M135.1 51.7h0M120.9 60.8h0M125.6 56.6h0M108.6 68.3h0M157.5 38.0h0M125.7 56.5h0M163.2 35.2h0M156.4 37.6h0M129.9 52.5h0M105.8 70.3h0M90.6 87.4h0M112.2 65.1h0M155.5 38.3h0M134.6 52.3h0M152.2 42.3h0M97.5 79.0h0M150.9 41.9h0M169.8 35.8h0M91.5 85.7h0M100.3 76.3h0M159.0 38.3h0M120.5 59.8h0M115.6 63.4h0M158.7 38.1h0M161.2 35.7h0M170.3 36.9h0M109.8 66.7h0M136.6 50.2h0M97.5 79.0h0M130.5 53.4h0M157.7 37.1h0M116.5 61.7h0M131.2 53.1h0M143.7 46.2h0M95.2 81.9h0M112.9 65.5h0M119.3 61.0h0M164.1 37.7h0M146.1 44.7h0M140.1 48.2h0M109.0 68.9h0M159.0 38.0h0M107.8 69.8h0M152.2 40.5h0M111.6 65.2h0M166.6 37.3h0M93.8 83.3h0M98.5 80.0h0M162.2 37.4h0M102.9 72.4h0M137.2 51.7h0M118.7 62.4h0M136.5 51.1h0M139.4 49.9h0M128.0 53.4h0M129.9 54.6h0M149.5 42.5h0M104.3 72.0h0M146.5 44.5h0M91.9 86.9h0M153.7 38.2h0M122.5 58.0h0M145.1 45.8h0M101.5 74.7h0M167.8 36.5h0M164.6 36.8h0M160.8 37.7h0M155.9 37.8h0M150.6 41.3h0M91.1 86.7h0M127.6 55.4h0M106.4 70.4h0M95.4 82.1h0M146.2 45.9h0M170.3 37.6h0M168.7 36.6h0M121.4 58.6h0M108.1 68.8h0M138.6 53.4h0M100.5 77.0h0M156.1 37.3h0M162.4 35.8h0M139.3 48.8h0M161.4 37.5h0M105.9 70.7h0M161.0 37.7h0M115.5 61.7h0M131.1 53.5h0M164.6 37.9h0M130.5 53.1h0M154.7 37.9h0M106.9 71.4h0M93.3 84.5h0M166.3 36.2h0M164.3 36.4h0M153.3 40.6h0M129.8 54.2h0M108.2 67.9h0M92.7 84.3h0M159.3 38.3h0M162.4 37.4h0M109.1 67.4h0M142.9 46.8h0M130.6 54.7h0M129.5 52.4h0M128.7 54.5h0M131.2 54.9h0M94.7 82.8h0M107.7 71.3h0M108.6 68.9h0M122.1 58.8h0M120.9 57.5h0M169.4 36.6h0M164.8 36.8h0M146.3 44.1h0M119.6 60.3h0M135.3 52.4h0M128.4 53.6h0M119.5 60.0h0M159.1 36.1h0M152.4 39.3h0M147.6 44.5h0M119.7 60.8h0M122.3 59.0h0M118.8 61.3h0M145.5 44.9h0M149.4 42.6h0M155.3 38.7h0" stroke="#ff0000" stroke-width="1.80" stroke-linecap="round" fill="none"/>
<path d="M82.8 118.9h0M81.8 115.3h0M79.3 118.4h0M82.5 119.9h0M75.9 120.9h0M84.5 118.3h0M88.2 119.0h0M78.5 117.2h0M74.3 102.9h0M65.7 107.5h0M65.9 106.7h0M56.3 112.1h0M81.5 97.6h0M63.9 108.9h0M63.3 109.2h0M66.6 106.5h0M61.4 108.6h0M65.2 110.2h0M64.3 107.4h0M84.7 95.3h0M81.8 99.2h0M64.3 108.8h0M80.7 98.0h0M57.1 110.4h0M72.7 105.1h0M81.4 97.8h0M62.4 107.2h0M60.7 107.3h0M79.4 97.9h0M75.2 101.0h0M84.7 94.5h0M60.7 107.0h0M60.4 107.9h0M41.0 124.2h0M46.3 122.7h0M64.0 121.0h0M67.8 120.9h0M59.8 121.3h0M38.1 123.8h0M65.7 120.7h0M70.6 121.3h0M52.6 122.4h0M50.2 119.1h0M48.8 121.5h0M57.8 121.1h0M42.4 123.2h0M41.1 124.7h0M71.4 120.5h0M54.1 122.5h0M54.6 121.0h0M47.0 124.2h0M37.9 127.1h0M38.6 124.8h0M38.4 123.3h0M61.2 118.6h0M63.9 120.1h0M70.0 122.1h0M71.0 121.1h0M41.7 124.9h0M36.9 124.5h0M60.6 122.7h0M46.7 125.1h0M69.0 120.4h0M53.6 122.1h0M51.8 122.7h0M51.2 122.2h0M47.2 120.6h0M56.3 121.8h0M88.0 135.2h0M71.7 123.4h0M75.6 124.8h0M137.1 48.2h0M137.8 48.3h0M98.0 77.8h0M130.0 51.8h0M103.4 70.3h0M108.0 67.7h0M108.4 67.1h0M110.1 65.5h0M155.9 34.7h0M151.0 37.8h0M101.2 73.8h0M141.9 46.2h0M107.0 69.5h0M90.6 85.2h0M94.4 82.6h0M147.0 40.9h0M141.3 46.0h0M130.0 49.9h0M99.3 76.3h0M150.7 39.4h0M128.4 51.5h0M133.5 50.8h0M152.1 36.2h0M112.5 63.3h0M113.3 61.4h0M97.3 78.4h0M115.0 61.5h0M151.7 35.6h0M137.2 45.8h0M109.7 66.1h0M110.4 64.0h0M139.2 46.7h0M154.3 34.4h0M120.7 58.3h0M89.5 88.4h0M161.9 30.1h0M157.0 33.0h0M137.7 48.6h0M92.6 82.6h0M123.8 53.8h0M111.9 63.1h0M95.9 81.6h0M120.5 57.3h0M128.3 50.6h0M128.4 53.8h0M110.9 66.1h0M108.3 67.5h0M151.8 36.0h0M97.8 78.0h0M129.9 50.9h0M132.0 50.3h0M103.0 71.2h0M91.1 84.7h0M127.9 48.8h0M130.7 50.5h0M101.3 72.3h0M89.7 87.6h0M129.3 50.1h0M90.8 86.1h0M121.3 56.5h0M148.4 40.0h0M154.1 35.7h0M134.0 50.1h0M135.7 49.8h0M100.1 76.4h0M128.0 50.4h0M107.8 66.8h0M152.6 35.3h0M118.9 57.9h0M137.3 49.6h0M147.5 40.3h0M122.9 56.4h0M160.9 32.5h0M129.9 51.4h0M110.3 64.9h0M155.2 34.0h0M140.6 45.7h0M90.4 86.8h0M109.2 66.0h0M147.4 39.2h0M140.1 44.3h0M126.1 52.3h0M162.2 31.5h0M115.5 60.4h0M142.9 43.1h0M116.3 59.3h0M110.0 64.2h0M105.6 67.9h0M96.3 79.8h0M99.1 76.7h0M102.9 72.8h0M112.3 62.4h0M162.8 30.6h0M101.4 74.2h0M123.3 55.3h0M104.2 70.5h0M121.9 56.7h0M91.7 83.5h0M110.3 65.4h0M108.7 64.1h0M130.2 51.3h0M90.3 87.4h0M127.1 52.5h0M96.2 78.0h0M156.0 33.6h0M122.0 55.8h0M147.9 42.1h0M153.2 35.2h0M113.6 63.6h0M151.1 37.5h0M131.2 49.5h0M151.8 37.1h0M150.7 37.1h0M101.5 73.5h0M139.6 47.0h0M120.7 56.9h0M91.6 84.3h0M107.3 67.5h0M105.6 69.1h0M131.7 51.5h0M116.7 61.5h0M103.0 71.2h0M149.8 38.7h0M101.9 72.5h0M146.3 40.3h0M143.9 42.5h0M102.7 72.5h0M142.8 43.9h0M142.3 44.3h0M141.0 45.8h0M163.1 33.2h0M160.7 32.6h0M123.6 55.2h0M113.4 61.8h0M98.1 78.1h0M114.5 62.9h0M139.2 45.8h0M153.3 35.7h0M100.6 74.8h0M129.2 51.1h0M101.4 72.8h0M156.4 33.4h0M159.3 32.9h0M95.9 81.2h0M95.5 80.4h0M153.4 35.7h0M122.9 55.2h0M117.1 61.5h0M164.7 31.0h0M158.8 32.9h0M107.8 67.6h0M109.4 67.7h0M160.2 32.5h0M160.7 30.4h0M123.2 55.1h0M121.5 57.1h0M149.4 39.5h0M99.3 77.4h0M113.2 62.4h0M95.5 82.0h0M101.4 73.8h0M100.0 74.5h0M114.5 60.7h0M147.1 40.1h0M160.6 33.5h0M104.3 70.7h0M103.0 70.2h0M131.3 51.9h0M140.6 44.8h0M148.6 39.5h0M130.8 50.1h0M158.0 33.2h0M102.1 73.7h0M125.1 55.1h0M99.6 74.4h0M164.6 30.9h0M165.0 31.6h0M137.3 47.5h0M151.4 38.6h0M133.0 50.2h0M162.7 30.9h0M148.5 39.2h0M129.3 51.2h0M125.1 54.2h0M143.0 46.3h0M100.8 73.9h0M121.5 56.6h0M95.8 81.0h0M120.3 57.0h0M159.3 31.7h0M128.0 51.9h0M145.4 40.6h0M96.3 78.2h0M92.8 83.8h0M105.7 69.3h0M150.6 39.1h0M106.1 68.1h0M100.5 76.3h0M145.7 40.3h0M133.1 49.1h0M101.9 73.3h0M128.3 51.4h0M107.3 68.5h0M118.5 59.7h0M129.6 50.8h0M163.9 31.8h0M118.7 58.3h0M100.9 74.2h0M140.7 44.4h0M154.3 34.6h0M152.4 34.9h0M108.9 65.4h0M158.3 33.4h0M99.7 76.8h0M99.7 77.7h0M147.7 40.2h0M144.1 45.7h0M129.3 52.4h0M142.9 46.3h0M111.2 64.9h0M161.5 31.0h0M120.2 58.4h0M148.5 40.1h0M157.3 33.5h0M128.5 51.7h0M89.6 88.8h0M148.5 39.5h0M162.3 31.5h0M106.6 69.2h0M164.8 31.5h0M93.6 82.1h0M145.3 41.5h0M159.5 31.9h0M162.7 32.0h0M92.1 85.1h0M160.4 33.2h0M146.0 43.2h0M154.7 35.0h0M134.2 50.2h0M106.7 69.3h0M139.6 47.9h0M145.1 42.0h0M110.6 65.3h0M129.7 53.0h0M151.4 35.3h0M148.8 40.9h0M117.6 59.2h0M143.2 44.8h0M156.9 32.6h0M154.9 34.3h0M95.3 80.5h0M113.4 62.6h0M109.4 66.6h0M124.8 53.0h0M104.2 70.3h0M102.1 72.7h0M147.4 40.6h0M123.0 56.3h0M108.5 66.4h0M100.7 72.8h0M115.6 59.3h0M151.2 37.2h0M136.7 48.0h0M152.2 35.9h0M150.3 38.7h0M165.4 29.0h0M92.1 84.6h0M143.5 45.4h0M104.7 69.3h0M107.3 68.6h0M150.8 29.8h0M139.5 38.7h0M142.1 31.9h0M114.3 56.5h0M126.2 47.3h0M138.2 35.0h0M131.8 45.0h0M124.5 47.0h0M151.3 29.7h0M121.3 50.7h0M140.3 42.7h0M131.4 42.2h0M152.8 30.8h0M111.1 57.9h0M139.9 36.6h0M147.6 29.8h0M144.6 38.8h0M112.4 49.8h0M124.9 48.1h0M131.9 45.4h0M129.1 42.7h0M120.5 52.4h0M112.8 59.1h0M136.5 42.8h0M152.3 26.8h0M133.4 46.9h0M123.3 51.7h0M118.1 56.1h0M151.9 26.0h0M149.5 34.0h0" stroke="#800080" stroke-width="1.80" stroke-linecap="round" fill="none"/>
<rect x="36.35" y="7.45" width="176.80" height="132.00" fill="none" stroke="#8c8c8c" stroke-width="0.90"/>
<path d="M36.35 139.45v2.20M55.99 139.45v2.20M75.64 139.45v2.20M95.28 139.45v2.20M114.93 139.45v2.20M134.57 139.45v2.20M154.22 139.45v2.20M173.86 139.45v2.20M193.51 139.45v2.20M213.15 139.45v2.20M36.35 139.45h-2.20M36.35 120.59h-2.20M36.35 101.74h-2.20M36.35 82.88h-2.20M36.35 64.02h-2.20M36.35 45.16h-2.20M36.35 26.31h-2.20M36.35 7.45h-2.20" stroke="#8c8c8c" stroke-width="0.90" fill="none"/>
<text x="36.35" y="147.75" font-size="6.41" text-anchor="middle" fill="#1a1a1a" font-weight="normal" stroke="#1a1a1a" stroke-width="0.15" textLength="14.81" lengthAdjust="spacingAndGlyphs" >−0.3</text>
<text x="55.99" y="147.75" font-size="6.41" text-anchor="middle" fill="#1a1a1a" font-weight="normal" stroke="#1a1a1a" stroke-width="0.15" textLength="14.81" lengthAdjust="spacingAndGlyphs" >−0.2</text>
<text x="75.64" y="147.75" font-size="6.41" text-anchor="middle" fill="#1a1a1a" font-weight="normal" stroke="#1a1a1a" stroke-width="0.15" textLength="14.81" lengthAdjust="spacingAndGlyphs" >−0.1</text>
<text x="95.28" y="147.75" font-size="6.41" text-anchor="middle" fill="#1a1a1a" font-weight="normal" stroke="#1a1a1a" stroke-width="0.15" textLength="9.70" lengthAdjust="spacingAndGlyphs" >0.0</text>
<text x="114.93" y="147.75" font-size="6.41" text-anchor="middle" fill="#1a1a1a" font-weight="normal" stroke="#1a1a1a" stroke-width="0.15" textLength="9.70" lengthAdjust="spacingAndGlyphs" >0.1</text>
<text x="134.57" y="147.75" font-size="6.41" text-anchor="middle" fill="#1a1a1a" font-weight="normal" stroke="#1a1a1a" stroke-width="0.15" textLength="9.70" lengthAdjust="spacingAndGlyphs" >0.2</text>
<text x="154.22" y="147.75" font-size="6.41" text-anchor="middle" fill="#1a1a1a" font-weight="normal" stroke="#1a1a1a" stroke-width="0.15" textLength="9.70" lengthAdjust="spacingAndGlyphs" >0.3</text>
<text x="173.86" y="147.75" font-size="6.41" text-anchor="middle" fill="#1a1a1a" font-weight="normal" stroke="#1a1a1a" stroke-width="0.15" textLength="9.70" lengthAdjust="spacingAndGlyphs" >0.4</text>
<text x="193.51" y="147.75" font-size="6.41" text-anchor="middle" fill="#1a1a1a" font-weight="normal" stroke="#1a1a1a" stroke-width="0.15" textLength="9.70" lengthAdjust="spacingAndGlyphs" >0.5</text>
<text x="213.15" y="147.75" font-size="6.41" text-anchor="middle" fill="#1a1a1a" font-weight="normal" stroke="#1a1a1a" stroke-width="0.15" textLength="9.70" lengthAdjust="spacingAndGlyphs" >0.6</text>
<text x="33.15" y="141.65" font-size="6.41" text-anchor="end" fill="#1a1a1a" font-weight="normal" stroke="#1a1a1a" stroke-width="0.15" textLength="3.88" lengthAdjust="spacingAndGlyphs" >0</text>
<text x="33.15" y="122.79" font-size="6.41" text-anchor="end" fill="#1a1a1a" font-weight="normal" stroke="#1a1a1a" stroke-width="0.15" textLength="7.76" lengthAdjust="spacingAndGlyphs" >20</text>
<text x="33.15" y="103.93" font-size="6.41" text-anchor="end" fill="#1a1a1a" font-weight="normal" stroke="#1a1a1a" stroke-width="0.15" textLength="7.76" lengthAdjust="spacingAndGlyphs" >40</text>
<text x="33.15" y="85.07" font-size="6.41" text-anchor="end" fill="#1a1a1a" font-weight="normal" stroke="#1a1a1a" stroke-width="0.15" textLength="7.76" lengthAdjust="spacingAndGlyphs" >60</text>
<text x="33.15" y="66.22" font-size="6.41" text-anchor="end" fill="#1a1a1a" font-weight="normal" stroke="#1a1a1a" stroke-width="0.15" textLength="7.76" lengthAdjust="spacingAndGlyphs" >80</text>
<text x="33.15" y="47.36" font-size="6.41" text-anchor="end" fill="#1a1a1a" font-weight="normal" stroke="#1a1a1a" stroke-width="0.15" textLength="11.64" lengthAdjust="spacingAndGlyphs" >100</text>
<text x="33.15" y="28.50" font-size="6.41" text-anchor="end" fill="#1a1a1a" font-weight="normal" stroke="#1a1a1a" stroke-width="0.15" textLength="11.64" lengthAdjust="spacingAndGlyphs" >120</text>
<text x="33.15" y="9.65" font-size="6.41" text-anchor="end" fill="#1a1a1a" font-weight="normal" stroke="#1a1a1a" stroke-width="0.15" textLength="11.64" lengthAdjust="spacingAndGlyphs" >140</text>
<text x="124.75" y="155.60" font-size="7.04" text-anchor="middle" fill="#1a1a1a" font-weight="normal" stroke="#1a1a1a" stroke-width="0.15" textLength="11.33" lengthAdjust="spacingAndGlyphs" >CCI</text>
<text x="18.30" y="73.00" font-size="7.77" text-anchor="middle" fill="#1a1a1a" font-weight="normal" stroke="#1a1a1a" stroke-width="0.15" textLength="42.95" lengthAdjust="spacingAndGlyphs" transform="rotate(-90 18.3 73.00)">Hue (VN05)</text>
<text x="3.8" y="19.30" font-size="10" fill="#1a1a1a" stroke="#1a1a1a" stroke-width="0.25">(a)</text>
<rect x="168.5" y="82.00" width="41" height="53.7" rx="1.5" fill="#fff" fill-opacity="0.85" stroke="#e6e6e6" stroke-width="0.7"/>
<circle cx="178.7" cy="87.90" r="2.1" fill="#0000ff"/>
<text x="191.80" y="90.40" font-size="7.30" text-anchor="start" fill="#1a1a1a" font-weight="normal" stroke="#1a1a1a" stroke-width="0.15" textLength="13.05" lengthAdjust="spacingAndGlyphs" >TSE</text>
<circle cx="178.7" cy="98.20" r="2.1" fill="#008000"/>
<text x="191.80" y="100.70" font-size="7.30" text-anchor="start" fill="#1a1a1a" font-weight="normal" stroke="#1a1a1a" stroke-width="0.15" textLength="13.63" lengthAdjust="spacingAndGlyphs" >TGF</text>
<circle cx="178.7" cy="108.50" r="2.1" fill="#ffa500"/>
<text x="191.80" y="111.00" font-size="7.30" text-anchor="start" fill="#1a1a1a" font-weight="normal" stroke="#1a1a1a" stroke-width="0.15" textLength="14.80" lengthAdjust="spacingAndGlyphs" >MSE</text>
<circle cx="178.7" cy="118.80" r="2.1" fill="#ff0000"/>
<text x="191.80" y="121.30" font-size="7.30" text-anchor="start" fill="#1a1a1a" font-weight="normal" stroke="#1a1a1a" stroke-width="0.15" textLength="12.80" lengthAdjust="spacingAndGlyphs" >TKY</text>
<circle cx="178.7" cy="129.10" r="2.1" fill="#800080"/>
<text x="191.80" y="131.60" font-size="7.30" text-anchor="start" fill="#1a1a1a" font-weight="normal" stroke="#1a1a1a" stroke-width="0.15" textLength="13.78" lengthAdjust="spacingAndGlyphs" >FHK</text>
<path d="M241.95 8.00V70.40M255.86 8.00V70.40M269.78 8.00V70.40M283.69 8.00V70.40M297.60 8.00V70.40M234.30 70.40H297.60M234.30 61.49H297.60M234.30 52.57H297.60M234.30 43.66H297.60M234.30 34.74H297.60M234.30 25.83H297.60M234.30 16.91H297.60M234.30 8.00H297.60" stroke="#ececec" stroke-width="0.6" fill="none"/>
<path d="M259.0 38.6h0M263.2 35.0h0M259.5 38.4h0M258.3 39.9h0M259.1 39.5h0M262.3 34.5h0M261.9 36.2h0M258.6 39.3h0M258.3 40.2h0M260.3 37.0h0M260.2 38.1h0M257.6 41.0h0M257.9 40.8h0M263.0 35.5h0M260.5 38.3h0M257.3 42.0h0M262.7 35.5h0M261.3 37.2h0M262.1 36.3h0M262.5 35.3h0M258.2 39.5h0M260.5 38.3h0M258.9 38.7h0M260.6 37.1h0M258.4 39.8h0M263.5 34.2h0M263.0 35.2h0M261.4 36.0h0M261.1 37.2h0M263.9 35.1h0M262.0 37.1h0M260.2 36.6h0M259.4 39.4h0M261.7 37.3h0M262.0 36.1h0M263.0 34.6h0M264.0 34.0h0M262.0 35.9h0M263.4 34.2h0M260.3 37.7h0" stroke="#0000ff" stroke-width="1.00" stroke-linecap="round" fill="none"/>
<path d="M278.7 21.5h0M281.2 21.6h0M273.0 27.5h0M282.1 21.1h0M281.7 21.6h0M266.4 32.4h0M263.3 34.9h0M276.4 24.2h0M268.7 30.3h0M280.6 22.4h0M258.9 38.7h0M263.2 34.7h0M262.2 35.1h0M260.4 37.7h0M259.3 38.7h0M258.7 39.1h0M260.8 37.4h0M259.4 38.8h0M269.1 30.9h0M271.3 29.7h0M266.1 32.9h0M271.1 29.8h0M261.0 37.3h0M283.2 21.4h0M265.3 33.7h0M277.9 22.5h0M266.1 32.3h0M283.2 21.0h0M264.0 34.7h0M259.4 38.2h0M266.9 31.9h0M260.1 37.9h0M283.7 20.9h0M283.3 21.1h0M265.0 33.0h0M260.0 38.3h0M279.0 22.6h0M282.0 21.2h0M282.4 21.3h0M280.4 21.3h0M271.4 28.8h0M263.1 34.4h0M269.8 29.8h0M262.7 35.4h0M276.8 23.8h0M275.0 25.8h0M270.1 29.5h0M278.4 22.7h0M275.5 25.4h0M262.8 35.6h0M268.5 30.5h0M276.1 24.9h0M270.4 31.1h0M278.9 22.0h0M282.9 20.9h0M283.2 20.7h0M271.2 28.9h0M269.0 30.4h0M272.8 27.6h0M275.3 25.2h0M283.3 21.4h0M274.8 26.8h0M278.5 23.5h0M283.0 20.9h0M274.4 25.9h0M279.6 21.9h0M269.9 30.5h0M270.3 29.7h0M268.1 31.0h0M262.5 35.4h0M264.7 33.8h0M282.8 21.6h0M266.0 33.0h0M264.7 33.5h0M276.7 23.2h0M274.1 25.7h0M268.7 30.8h0M267.2 31.3h0M262.9 35.2h0M260.6 37.2h0M260.0 37.7h0M265.9 32.2h0M271.4 29.7h0M270.9 28.8h0M276.0 24.6h0M280.6 21.9h0M271.9 27.6h0M266.4 32.6h0M282.6 21.2h0M263.1 35.3h0M274.5 25.5h0M263.6 35.7h0M273.1 27.3h0M283.2 21.7h0M261.9 35.3h0M280.7 20.6h0M262.4 35.2h0M277.8 23.3h0M268.3 30.4h0M271.4 28.2h0M268.6 30.7h0M281.7 21.5h0M271.3 28.7h0M273.6 27.6h0M272.1 28.6h0M269.7 30.3h0M264.5 33.7h0M266.8 31.3h0M279.4 22.1h0M270.9 30.1h0M267.7 21.7h0M276.8 13.9h0M269.6 26.0h0M265.0 24.4h0M263.0 30.1h0M273.1 23.6h0M260.8 34.8h0M261.8 30.5h0M270.6 26.3h0M259.6 34.2h0M261.8 29.9h0M276.4 21.1h0M271.5 26.2h0M261.2 32.8h0M274.5 13.4h0M276.4 17.7h0M261.9 32.1h0M269.3 20.1h0M268.3 24.5h0M267.5 18.5h0M271.4 17.5h0M271.9 23.6h0M262.0 34.0h0M266.8 29.7h0M271.0 17.7h0M273.3 19.8h0M271.1 21.2h0M270.3 27.0h0M270.5 24.7h0M277.5 10.9h0M270.3 22.0h0M260.7 28.2h0M272.9 24.8h0M264.9 27.7h0M276.1 19.4h0M260.6 34.9h0M273.8 20.3h0M268.0 27.5h0M275.7 21.7h0M263.5 31.3h0M273.8 20.9h0M264.3 30.8h0M273.3 24.1h0M265.9 25.4h0M265.0 30.1h0M269.9 23.5h0M269.8 19.0h0M262.9 29.7h0M272.4 13.8h0M268.6 28.5h0M267.0 19.2h0M261.2 30.6h0M278.1 17.6h0M274.1 20.8h0M262.1 32.4h0M276.5 18.3h0M278.0 20.2h0M268.9 27.2h0M268.5 23.6h0M273.3 23.5h0M269.2 22.5h0M272.9 20.6h0M266.9 23.8h0M271.2 22.2h0M267.3 25.2h0M273.7 19.4h0M268.7 24.9h0M272.9 20.7h0M272.6 20.2h0M268.6 23.8h0M269.5 21.3h0M274.4 19.7h0M270.3 24.6h0M267.2 25.1h0M273.6 18.1h0M272.3 21.1h0M272.5 22.8h0M267.6 23.3h0M270.5 23.6h0M268.7 23.2h0M272.3 23.1h0M268.1 26.3h0M274.2 21.5h0M268.2 25.3h0M271.6 20.1h0M270.3 25.3h0M274.1 16.8h0M272.2 18.7h0M270.1 23.6h0M269.8 24.3h0M272.8 9.3h0M272.3 11.2h0M269.7 12.5h0" stroke="#008000" stroke-width="1.00" stroke-linecap="round" fill="none"/>
<path d="M280.6 22.0h0M289.4 19.1h0M260.0 36.6h0M261.6 36.4h0M261.8 36.1h0M288.2 18.9h0M281.7 21.0h0M270.2 30.2h0M275.9 24.7h0M270.6 29.3h0M267.2 30.8h0M281.3 21.1h0M273.1 27.2h0M283.6 21.2h0M274.0 26.2h0M287.1 19.5h0M291.0 18.7h0M288.0 19.6h0M273.8 26.5h0M290.6 18.5h0M276.8 24.0h0M280.2 22.2h0M261.9 35.2h0M289.3 19.4h0M282.7 20.9h0M285.5 19.9h0M262.8 34.9h0M264.5 33.5h0M262.3 35.8h0M283.6 19.8h0M287.8 20.3h0M280.7 20.8h0M282.5 21.4h0M286.9 20.2h0M290.1 19.3h0M273.0 26.9h0M275.8 24.7h0M263.7 34.3h0M274.6 26.5h0M271.5 28.4h0M264.1 33.7h0M264.4 33.3h0M266.6 31.9h0M275.1 25.7h0M282.1 20.6h0M269.0 30.2h0M286.5 19.4h0M280.9 21.3h0M281.2 21.9h0M285.2 19.8h0M270.7 29.5h0M291.5 18.8h0M262.2 36.9h0M260.2 37.6h0M281.0 21.2h0M288.8 19.7h0M271.7 28.6h0M280.1 21.4h0M288.3 19.5h0M274.4 26.5h0M277.5 23.0h0M289.6 19.0h0M288.6 19.5h0M271.8 29.6h0M264.4 34.1h0M274.6 25.4h0M273.0 27.5h0M286.8 20.7h0M267.9 31.0h0M277.3 23.4h0M284.9 20.0h0M292.3 18.3h0M276.8 23.7h0M273.2 27.5h0M274.4 26.9h0M277.5 23.5h0M286.8 19.2h0M267.1 32.1h0M291.6 18.3h0M287.7 20.4h0M266.1 32.8h0M261.6 35.8h0M260.9 36.9h0M289.1 19.4h0M260.1 37.8h0M267.4 31.1h0M282.0 20.6h0M291.1 19.6h0M263.3 34.1h0M276.1 24.4h0M282.3 20.5h0M283.2 21.7h0M272.0 27.9h0M276.9 24.3h0M288.2 19.6h0M292.4 18.8h0M276.0 25.1h0M284.1 20.8h0M281.8 21.4h0M277.8 23.0h0M275.7 24.6h0M286.6 20.1h0M281.6 20.7h0M285.7 20.0h0M280.2 21.1h0M261.9 36.3h0M273.5 26.8h0M273.1 27.3h0M261.2 36.2h0M282.5 20.7h0M285.6 19.7h0M277.6 23.1h0M283.2 20.3h0M270.8 29.7h0M283.2 20.7h0M276.9 24.1h0M261.5 35.5h0M283.2 20.2h0M277.9 22.4h0M276.0 24.8h0M270.2 29.9h0M290.1 17.9h0M269.3 29.7h0M277.3 24.1h0M263.1 34.2h0M264.6 33.2h0M266.9 31.7h0M288.3 19.6h0M269.0 30.8h0M289.1 19.6h0M275.9 25.1h0M275.9 25.3h0M267.4 31.4h0M271.7 29.1h0M268.6 30.2h0M282.6 20.3h0M271.4 29.0h0M290.7 19.1h0M261.3 35.8h0M260.2 37.2h0M276.8 22.9h0M284.9 21.6h0M264.1 34.9h0M278.8 23.0h0M288.3 19.3h0M283.0 20.2h0M290.2 19.3h0M274.1 26.3h0M273.7 26.8h0M264.2 33.4h0M267.2 30.3h0M288.4 20.6h0M280.8 20.3h0M285.0 19.8h0M266.3 32.2h0M269.7 29.8h0M262.0 35.5h0M276.1 24.2h0M265.5 32.4h0M272.5 27.5h0M279.3 22.7h0M289.6 18.9h0M288.7 19.7h0M280.8 21.5h0M261.0 36.0h0M285.0 20.5h0M276.3 24.2h0M271.9 28.3h0M289.6 19.1h0M271.6 29.4h0M286.4 19.7h0M286.0 19.9h0M272.6 26.7h0M278.7 23.0h0M282.5 20.3h0M270.7 29.7h0M272.3 28.2h0M283.3 19.7h0M282.2 21.0h0M283.8 20.0h0M272.5 27.8h0M267.7 31.4h0M273.4 27.1h0M291.6 18.9h0M278.3 22.9h0M282.3 19.9h0M269.3 30.0h0M285.8 20.9h0M289.5 18.3h0M288.3 19.3h0M271.7 28.2h0M267.1 30.6h0M279.5 22.4h0M278.7 22.4h0M265.6 32.6h0M260.5 37.0h0M289.3 19.4h0M286.5 19.8h0M274.0 25.9h0M262.7 34.5h0M277.3 23.3h0M274.2 25.6h0M281.4 22.3h0M269.0 30.4h0M271.3 28.9h0M281.0 21.2h0M283.7 19.7h0M267.2 31.2h0M272.9 26.8h0M285.0 20.3h0" stroke="#ffa500" stroke-width="1.00" stroke-linecap="round" fill="none"/>
<path d="M254.8 32.5h0M255.2 33.0h0M255.9 43.7h0M256.2 43.0h0M258.0 39.7h0M259.1 38.6h0M258.1 39.6h0M256.5 42.4h0M258.1 39.9h0M256.9 41.6h0M258.6 39.2h0M257.7 40.1h0M259.1 38.6h0M258.4 39.2h0M258.1 40.1h0M256.4 43.3h0M259.3 37.9h0M256.5 41.9h0M258.6 39.1h0M262.9 33.4h0M280.6 22.4h0M269.7 29.7h0M262.8 35.2h0M278.8 21.4h0M274.6 24.9h0M264.0 33.3h0M273.4 25.6h0M262.8 34.5h0M277.4 21.9h0M268.7 29.0h0M278.2 22.1h0M260.2 36.8h0M265.4 32.1h0M269.5 29.2h0M280.2 21.4h0M260.5 36.6h0M282.9 21.7h0M258.6 39.6h0M262.8 34.9h0M271.0 28.8h0M271.7 27.8h0M270.3 28.7h0M261.5 35.8h0M275.3 24.3h0M276.8 22.6h0M274.8 24.6h0M280.7 21.6h0M267.6 31.1h0M267.6 29.9h0M264.8 31.9h0M278.2 21.7h0M260.9 36.7h0M281.2 22.3h0M281.7 21.9h0M271.2 27.7h0M268.9 29.5h0M268.9 30.5h0M278.5 23.6h0M282.1 21.8h0M262.8 33.4h0M278.0 22.9h0M278.9 22.4h0M268.1 30.1h0M268.4 29.8h0M258.3 38.9h0M264.7 33.5h0M271.5 27.9h0M271.8 28.0h0M275.9 23.3h0M278.1 22.0h0M267.0 30.4h0M265.1 33.0h0M263.2 34.7h0M269.0 29.9h0M262.1 35.5h0M274.2 25.7h0M260.4 37.5h0M274.6 25.2h0M260.2 37.9h0M278.1 21.8h0M279.0 22.4h0M273.2 26.9h0M282.2 21.8h0M266.8 31.7h0M269.0 29.5h0M263.3 34.3h0M272.3 26.5h0M268.8 29.5h0M282.5 22.2h0M272.6 26.6h0M258.1 39.5h0M262.6 34.4h0M275.1 25.9h0M279.2 22.3h0M273.0 26.7h0M282.1 21.3h0M279.3 22.6h0M276.9 22.6h0M275.1 24.6h0M267.0 31.4h0M258.7 39.0h0M271.7 27.5h0M275.2 24.5h0M279.7 22.2h0M272.9 26.7h0M268.9 29.6h0M260.3 37.0h0M268.9 29.7h0M282.3 22.5h0M272.4 27.3h0M276.9 22.6h0M281.4 21.2h0M264.0 34.0h0M264.6 32.3h0M276.8 23.0h0M258.7 38.0h0M266.1 32.5h0M278.0 22.4h0M278.5 23.2h0M262.5 35.5h0M258.0 40.1h0M282.0 21.7h0M270.6 29.1h0M270.5 28.7h0M274.7 25.3h0M277.4 21.6h0M266.8 31.3h0M271.4 27.3h0M277.5 21.5h0M267.3 31.0h0M272.0 27.3h0M266.5 31.5h0M281.5 21.3h0M259.1 38.1h0M276.3 22.5h0M270.9 28.7h0M274.1 25.6h0M263.4 34.3h0M281.9 21.9h0M270.0 28.9h0M275.8 23.8h0M260.2 37.1h0M265.3 32.0h0M280.6 22.1h0M258.4 39.5h0M266.9 31.4h0M263.0 34.7h0M266.3 31.6h0M273.6 25.6h0M279.5 21.7h0M271.4 28.5h0M280.7 21.8h0M275.7 24.4h0M281.4 21.6h0M262.1 36.0h0M279.8 21.7h0M276.8 22.9h0M281.6 21.8h0M259.0 38.5h0M260.4 37.5h0M258.1 39.5h0M258.0 39.7h0M264.1 33.1h0M272.3 27.0h0M268.2 29.5h0M261.3 35.8h0M277.0 23.1h0M261.5 35.5h0M282.7 22.4h0M265.7 32.3h0M259.2 38.2h0M262.4 35.3h0M258.7 38.9h0M263.7 33.3h0M274.6 25.2h0M267.0 31.2h0M258.2 40.0h0M266.3 30.1h0M266.5 31.5h0M264.7 32.8h0M276.5 23.1h0M261.4 35.5h0M271.7 28.1h0M258.6 39.2h0M269.5 29.5h0M277.3 22.7h0M266.3 32.0h0M260.5 37.7h0M271.9 27.6h0" stroke="#ff0000" stroke-width="1.00" stroke-linecap="round" fill="none"/>
<path d="M276.4 22.0h0M268.6 28.9h0M279.8 18.7h0M279.4 18.5h0M277.1 20.6h0M280.8 19.4h0M265.1 31.9h0M262.8 33.8h0M267.6 29.1h0M272.5 24.9h0M264.9 31.0h0M275.5 21.8h0M272.6 25.7h0M263.5 32.4h0M263.0 32.8h0M271.1 26.6h0M278.3 19.9h0M262.0 34.5h0M276.2 21.1h0M271.3 26.1h0M279.9 19.3h0M275.8 21.8h0M261.9 33.9h0M280.7 18.0h0M271.6 25.7h0M279.3 19.4h0M268.7 27.8h0M261.0 36.0h0M279.8 20.3h0M265.3 31.3h0M265.9 30.3h0M279.1 20.2h0M280.0 19.2h0M276.1 21.5h0M277.7 20.2h0M273.8 24.0h0M271.1 26.5h0M264.6 31.9h0M265.6 31.0h0M278.8 19.4h0M275.4 21.9h0M268.3 28.9h0M263.1 32.5h0M263.2 32.7h0M265.8 30.8h0M262.3 34.0h0M266.9 29.9h0M261.0 35.2h0M279.9 19.1h0M279.9 18.2h0M268.2 29.9h0M268.4 29.2h0M266.0 30.7h0M262.5 33.5h0M276.9 21.0h0M264.9 31.8h0M279.7 19.0h0M269.7 28.1h0M267.6 28.9h0M270.7 26.9h0M276.2 21.1h0M272.3 26.5h0M264.6 32.0h0M279.1 19.3h0M271.8 26.4h0M263.3 33.4h0M275.6 21.9h0M260.6 35.9h0M267.4 28.9h0M268.6 28.0h0M260.3 36.4h0M266.4 29.5h0M279.0 19.5h0M272.6 25.3h0M265.0 30.8h0M262.0 35.1h0M275.1 23.6h0M268.4 29.1h0M262.9 32.9h0M279.9 19.1h0M263.5 33.1h0M277.3 20.9h0M273.7 25.0h0M260.9 35.5h0M267.1 29.4h0M276.9 20.6h0M272.9 24.6h0M262.5 33.6h0M264.5 31.1h0M269.9 28.0h0M261.3 34.4h0M266.3 30.0h0M273.0 25.3h0M260.9 35.5h0M275.7 21.0h0M271.1 27.6h0M277.0 20.9h0M275.3 22.7h0M269.9 27.7h0M260.6 35.8h0M264.6 30.8h0M264.8 31.6h0M273.2 24.5h0M271.5 26.9h0M264.3 32.5h0M261.2 35.3h0M274.9 23.1h0M278.4 19.5h0M277.6 19.6h0M275.1 22.9h0M263.8 32.0h0M262.5 34.2h0M275.3 21.6h0M272.3 26.5h0M265.3 31.3h0M270.6 27.3h0M279.6 19.5h0M262.4 34.4h0M272.5 25.2h0M279.3 19.9h0M267.1 29.0h0M280.7 19.5h0M265.1 30.7h0M265.4 30.6h0M260.9 35.3h0M265.4 30.5h0M270.3 27.7h0M269.8 27.9h0M279.1 19.0h0M266.0 31.0h0M262.4 34.0h0M269.8 27.9h0M270.8 27.4h0M260.5 36.1h0M274.5 24.6h0M279.1 19.5h0M267.3 29.1h0M271.8 25.7h0M278.9 19.2h0M276.1 21.9h0M271.9 26.3h0M262.4 34.4h0M264.4 32.1h0M267.8 29.2h0M272.8 24.7h0M264.5 31.6h0M261.7 34.4h0M280.3 19.2h0M277.0 20.8h0M273.8 23.9h0M275.1 23.1h0M277.8 19.9h0M278.5 19.4h0M263.1 33.4h0M265.1 31.2h0M280.3 19.4h0M269.0 27.5h0M262.9 33.1h0M274.3 23.1h0M269.9 27.9h0M265.8 31.1h0M267.3 29.3h0M274.9 22.3h0M265.9 29.7h0M278.8 19.3h0M263.5 32.8h0M276.6 20.9h0M264.9 30.9h0M280.1 19.5h0M260.5 35.6h0M264.0 32.7h0M260.7 35.7h0M277.2 20.1h0M267.0 29.3h0M268.9 28.3h0M265.2 30.6h0M266.9 29.8h0M279.2 19.6h0M274.8 23.5h0M267.7 28.9h0M268.6 24.6h0M270.1 26.0h0M273.4 22.0h0M272.1 21.6h0M274.0 22.3h0M268.1 26.9h0M274.5 21.8h0M264.2 28.4h0M275.1 17.8h0M265.0 29.1h0M268.1 24.2h0M262.9 30.1h0M268.3 24.5h0M263.8 29.8h0M273.1 22.0h0M268.7 25.2h0M272.4 22.8h0M272.5 24.2h0M270.2 24.3h0M264.7 28.1h0" stroke="#800080" stroke-width="1.00" stroke-linecap="round" fill="none"/>
<rect x="234.30" y="8.00" width="63.30" height="62.40" fill="none" stroke="#b0b0b0" stroke-width="0.80"/>
<path d="M241.95 70.40v1.30M255.86 70.40v1.30M269.78 70.40v1.30M283.69 70.40v1.30M297.60 70.40v1.30M234.30 70.40h-1.30M234.30 61.49h-1.30M234.30 52.57h-1.30M234.30 43.66h-1.30M234.30 34.74h-1.30M234.30 25.83h-1.30M234.30 16.91h-1.30M234.30 8.00h-1.30" stroke="#b0b0b0" stroke-width="0.80" fill="none"/>
<text x="241.95" y="75.70" font-size="5.18" text-anchor="middle" fill="#1a1a1a" font-weight="normal" stroke="#1a1a1a" stroke-width="0.10" textLength="8.98" lengthAdjust="spacingAndGlyphs" >−0.2</text>
<text x="255.86" y="75.70" font-size="5.18" text-anchor="middle" fill="#1a1a1a" font-weight="normal" stroke="#1a1a1a" stroke-width="0.10" textLength="5.88" lengthAdjust="spacingAndGlyphs" >0.0</text>
<text x="269.78" y="75.70" font-size="5.18" text-anchor="middle" fill="#1a1a1a" font-weight="normal" stroke="#1a1a1a" stroke-width="0.10" textLength="5.88" lengthAdjust="spacingAndGlyphs" >0.2</text>
<text x="283.69" y="75.70" font-size="5.18" text-anchor="middle" fill="#1a1a1a" font-weight="normal" stroke="#1a1a1a" stroke-width="0.10" textLength="5.88" lengthAdjust="spacingAndGlyphs" >0.4</text>
<text x="297.60" y="75.70" font-size="5.18" text-anchor="middle" fill="#1a1a1a" font-weight="normal" stroke="#1a1a1a" stroke-width="0.10" textLength="5.88" lengthAdjust="spacingAndGlyphs" >0.6</text>
<text x="232.80" y="72.18" font-size="5.18" text-anchor="end" fill="#1a1a1a" font-weight="normal" stroke="#1a1a1a" stroke-width="0.10" textLength="2.35" lengthAdjust="spacingAndGlyphs" >0</text>
<text x="232.80" y="63.26" font-size="5.18" text-anchor="end" fill="#1a1a1a" font-weight="normal" stroke="#1a1a1a" stroke-width="0.10" textLength="4.71" lengthAdjust="spacingAndGlyphs" >20</text>
<text x="232.80" y="54.35" font-size="5.18" text-anchor="end" fill="#1a1a1a" font-weight="normal" stroke="#1a1a1a" stroke-width="0.10" textLength="4.71" lengthAdjust="spacingAndGlyphs" >40</text>
<text x="232.80" y="45.43" font-size="5.18" text-anchor="end" fill="#1a1a1a" font-weight="normal" stroke="#1a1a1a" stroke-width="0.10" textLength="4.71" lengthAdjust="spacingAndGlyphs" >60</text>
<text x="232.80" y="36.52" font-size="5.18" text-anchor="end" fill="#1a1a1a" font-weight="normal" stroke="#1a1a1a" stroke-width="0.10" textLength="4.71" lengthAdjust="spacingAndGlyphs" >80</text>
<text x="232.80" y="27.60" font-size="5.18" text-anchor="end" fill="#1a1a1a" font-weight="normal" stroke="#1a1a1a" stroke-width="0.10" textLength="7.06" lengthAdjust="spacingAndGlyphs" >100</text>
<text x="232.80" y="18.69" font-size="5.18" text-anchor="end" fill="#1a1a1a" font-weight="normal" stroke="#1a1a1a" stroke-width="0.10" textLength="7.06" lengthAdjust="spacingAndGlyphs" >120</text>
<text x="232.80" y="9.78" font-size="5.18" text-anchor="end" fill="#1a1a1a" font-weight="normal" stroke="#1a1a1a" stroke-width="0.10" textLength="7.06" lengthAdjust="spacingAndGlyphs" >140</text>
<text x="266.45" y="80.60" font-size="4.94" text-anchor="middle" fill="#1a1a1a" font-weight="normal" stroke="#1a1a1a" stroke-width="0.04" textLength="7.27" lengthAdjust="spacingAndGlyphs" >CCI</text>
<text x="224.00" y="39.20" font-size="4.41" text-anchor="middle" fill="#1a1a1a" font-weight="normal" stroke="#1a1a1a" stroke-width="0.04" textLength="24.38" lengthAdjust="spacingAndGlyphs" transform="rotate(-90 224.00 39.20)">Hue (VN05)</text>
<text x="238.20" y="15.80" font-size="5.10" text-anchor="start" fill="#000" font-weight="bold" stroke="#000" stroke-width="0.18" textLength="26.59" lengthAdjust="spacingAndGlyphs" >Green Leaf</text>
<path d="M324.15 8.00V70.40M338.06 8.00V70.40M351.98 8.00V70.40M365.89 8.00V70.40M379.80 8.00V70.40M316.50 70.40H379.80M316.50 61.49H379.80M316.50 52.57H379.80M316.50 43.66H379.80M316.50 34.74H379.80M316.50 25.83H379.80M316.50 16.91H379.80M316.50 8.00H379.80" stroke="#ececec" stroke-width="0.6" fill="none"/>
<path d="M327.3 54.1h0M333.1 49.9h0M325.5 56.6h0M327.6 55.7h0M337.4 44.4h0M341.9 36.6h0M331.5 52.8h0M343.1 35.0h0M334.0 49.0h0M332.8 50.9h0M338.1 43.8h0M344.3 33.6h0M339.4 40.2h0M338.5 42.5h0M341.3 37.7h0M329.8 53.1h0M336.2 46.4h0M330.4 53.4h0M335.3 48.3h0M331.4 52.2h0M335.2 48.4h0M332.0 51.2h0M334.0 50.0h0M340.1 39.6h0M340.3 39.5h0M338.2 43.8h0M334.2 49.1h0M334.0 49.5h0M326.9 56.2h0M334.7 49.6h0M336.1 46.3h0M334.4 48.5h0M335.9 47.1h0M338.3 42.9h0M340.1 39.4h0M328.0 55.1h0M330.9 52.9h0M343.9 33.8h0M324.4 57.8h0M340.0 39.4h0M333.0 50.4h0M336.0 46.5h0M333.3 51.0h0M339.6 39.9h0M334.0 49.6h0M341.2 37.8h0M328.0 55.2h0M329.0 54.6h0M342.5 35.5h0M340.5 38.9h0" stroke="#0000ff" stroke-width="1.00" stroke-linecap="round" fill="none"/>
<path d="M354.9 27.0h0M353.7 28.3h0M338.7 42.3h0M338.4 42.1h0M343.9 34.5h0M350.5 28.9h0M341.0 38.5h0M341.9 37.0h0M349.6 30.4h0M350.2 30.0h0M344.1 34.3h0M346.0 32.5h0M353.6 28.2h0M354.7 27.7h0M345.8 33.2h0M352.0 28.8h0M349.2 30.4h0M353.1 27.3h0M350.0 30.2h0M354.6 26.4h0M340.6 39.2h0M344.7 34.1h0M356.5 26.9h0M338.8 41.8h0M348.1 30.5h0M348.7 30.7h0M352.0 28.6h0M353.8 27.8h0M358.7 25.9h0M345.0 34.2h0M354.7 27.7h0M343.8 35.4h0M341.6 38.3h0M348.1 31.5h0M338.5 42.7h0M352.7 27.8h0M357.2 26.0h0M345.4 33.2h0M339.5 41.3h0M349.7 30.3h0M354.1 27.3h0M353.7 27.9h0M349.9 30.0h0M355.1 27.1h0M346.5 32.9h0M353.0 28.4h0M342.7 35.4h0M346.8 32.2h0M358.0 25.7h0M344.3 34.4h0M341.6 38.1h0M348.5 31.2h0M345.3 33.7h0M350.5 30.5h0M347.7 31.6h0M348.2 31.0h0M352.5 28.4h0M353.7 27.8h0M357.3 25.4h0M343.6 35.3h0M345.1 33.3h0M344.7 33.7h0M351.0 29.4h0M341.0 38.2h0M352.6 28.7h0M339.4 41.2h0M344.8 34.1h0M345.6 33.7h0M354.0 27.7h0M356.5 26.0h0M341.2 38.4h0M353.6 27.5h0M357.0 26.2h0M356.0 26.5h0M343.2 35.4h0M349.4 30.7h0M350.6 29.7h0M341.4 39.0h0M344.1 35.0h0M345.1 33.9h0M351.9 29.0h0M346.6 32.3h0M354.2 27.6h0M340.7 38.6h0M350.6 30.3h0M348.4 30.3h0M356.1 26.8h0M347.9 31.9h0M351.8 29.2h0M355.5 27.0h0M342.0 30.2h0M343.3 26.6h0M349.2 27.7h0M347.7 30.3h0M350.1 27.8h0M341.4 25.8h0M347.6 27.2h0M344.1 28.8h0M345.3 25.4h0M350.5 29.9h0M345.2 30.0h0M349.8 30.3h0M341.0 25.1h0M348.3 31.5h0M344.4 28.7h0M347.2 28.0h0M344.5 29.2h0M348.7 30.8h0M343.5 29.9h0M349.1 28.5h0M346.2 28.7h0M348.0 25.2h0M328.6 59.0h0M329.9 59.1h0M333.5 59.0h0M329.2 56.0h0M331.8 59.1h0M332.6 56.4h0M326.7 57.2h0M328.5 55.8h0M333.5 56.9h0M330.7 58.2h0" stroke="#008000" stroke-width="1.00" stroke-linecap="round" fill="none"/>
<path d="M352.7 28.9h0M366.0 22.7h0M353.1 28.3h0M361.3 24.4h0M363.7 24.0h0M366.4 22.2h0M355.4 27.8h0M353.1 28.5h0M353.5 27.8h0M355.2 27.7h0M350.6 30.4h0M360.5 24.5h0M361.3 23.6h0M356.0 26.8h0M361.6 24.2h0M351.2 29.5h0M356.0 27.4h0M355.6 27.6h0M351.0 29.4h0M363.7 22.9h0M361.3 23.9h0M354.0 27.7h0M354.5 27.3h0M364.6 23.6h0M361.8 24.4h0M351.2 29.7h0M356.0 26.3h0M352.2 28.8h0M354.0 27.8h0M361.7 24.5h0M355.2 27.1h0M365.3 22.5h0M351.1 29.4h0M365.2 22.8h0M350.3 29.3h0M360.1 25.1h0M362.8 23.2h0M362.7 24.1h0M351.8 29.7h0M365.3 22.4h0M354.6 27.6h0M359.1 25.5h0M364.6 22.9h0M358.2 24.6h0M355.7 27.1h0M356.5 26.6h0M364.7 22.4h0M355.0 27.5h0M359.0 24.3h0M353.2 28.8h0M355.3 27.2h0M350.8 29.4h0M365.7 22.6h0M352.8 28.7h0M352.4 29.3h0M350.3 30.2h0M352.4 28.4h0M363.7 23.4h0M358.7 25.8h0M350.8 29.2h0M359.8 24.5h0M362.8 23.3h0M353.1 28.4h0M361.1 24.6h0M354.1 27.3h0M356.4 26.5h0M365.4 22.8h0M365.4 22.7h0M366.2 22.2h0M354.7 27.0h0M362.6 23.7h0M362.2 24.0h0M364.8 23.3h0M361.4 24.2h0M364.7 23.0h0M365.4 22.5h0M353.3 28.2h0M352.8 28.8h0M355.8 26.9h0M363.5 23.1h0M361.5 24.1h0M360.1 24.7h0M355.5 27.1h0M354.7 27.5h0M360.0 24.6h0M361.5 23.8h0M365.6 22.7h0M351.1 29.7h0M360.2 24.5h0M360.0 24.4h0M361.4 23.6h0M357.6 26.4h0M360.8 24.0h0M361.8 24.1h0M351.5 29.1h0M362.2 23.4h0M350.5 29.2h0M364.2 23.3h0M354.7 27.0h0M356.3 27.5h0" stroke="#ffa500" stroke-width="1.00" stroke-linecap="round" fill="none"/>
<path d="M319.2 60.4h0M320.3 60.4h0M318.3 61.2h0M319.0 60.6h0M320.2 61.3h0M318.1 61.5h0M323.4 59.1h0M317.4 63.2h0M318.9 62.2h0M319.0 61.5h0M317.9 61.2h0M323.8 57.0h0M318.7 61.8h0M317.9 62.2h0M317.8 61.9h0M322.7 58.7h0M319.1 61.2h0M319.6 61.1h0M321.8 60.0h0M323.6 60.1h0M317.1 62.1h0M318.0 63.1h0M317.9 61.2h0M322.2 59.3h0M321.4 60.0h0M322.7 59.8h0M316.5 62.4h0M317.7 61.7h0M320.1 60.1h0M321.4 60.3h0M321.9 59.7h0M321.1 59.4h0M319.4 60.0h0M316.7 62.7h0M318.6 62.1h0M317.3 62.8h0M323.6 58.0h0M323.8 58.1h0M321.0 61.1h0M323.6 58.1h0M320.9 60.6h0M320.0 60.1h0M322.4 59.1h0M319.0 61.6h0M323.8 57.8h0" stroke="#ff0000" stroke-width="1.00" stroke-linecap="round" fill="none"/>
<path d="M325.6 57.8h0M334.3 49.5h0M339.2 41.1h0M327.9 55.4h0M331.6 52.3h0M342.7 35.5h0M331.7 51.8h0M323.2 58.4h0M332.2 51.6h0M325.3 57.0h0M319.5 60.6h0M324.6 56.8h0M319.0 60.9h0M321.2 59.8h0M327.8 55.3h0M327.7 54.1h0M336.9 45.8h0M319.3 60.2h0M324.2 57.2h0M321.3 60.0h0M323.4 58.0h0M336.7 46.3h0M329.9 54.5h0M332.5 51.2h0M337.6 44.2h0M321.9 59.0h0M323.9 58.2h0M330.9 52.3h0M325.7 56.9h0M324.7 57.2h0M341.6 38.3h0M324.5 57.2h0M340.8 38.9h0M336.2 45.9h0M326.4 56.5h0M319.0 61.1h0M323.2 57.9h0M332.8 51.3h0M341.0 38.2h0M331.8 51.5h0M337.2 45.2h0M330.2 53.7h0M336.1 47.3h0M320.0 60.2h0M333.5 50.2h0M326.4 56.5h0M339.0 41.8h0M318.9 60.4h0M322.0 58.9h0M340.1 40.2h0M322.9 58.7h0M334.4 49.1h0M341.8 37.2h0M333.8 49.7h0M329.8 54.0h0M328.9 53.4h0M339.5 40.6h0M319.1 61.4h0M341.0 37.3h0M334.5 49.0h0M339.8 40.3h0M335.7 48.2h0M329.6 53.5h0M336.3 46.5h0M338.2 43.1h0M318.7 61.0h0M327.1 54.4h0M338.7 42.1h0M336.9 45.1h0M334.1 49.7h0M340.5 39.3h0M321.4 59.6h0M342.9 34.6h0M337.5 44.5h0M340.6 39.0h0M342.0 36.7h0M320.7 59.8h0M330.0 53.1h0M323.7 57.0h0M334.3 49.4h0M333.6 49.8h0M323.5 58.9h0M342.9 36.0h0M320.8 60.2h0M333.8 50.3h0M326.0 56.8h0M337.2 45.0h0M325.9 56.1h0M327.2 55.7h0M332.0 52.5h0M329.4 53.9h0M329.1 53.9h0M330.8 54.2h0M323.5 57.9h0M341.1 38.7h0M326.1 56.0h0M328.6 54.8h0M325.3 56.8h0M338.1 42.9h0M337.0 45.3h0M323.5 58.5h0M328.4 55.4h0M335.7 47.9h0M319.6 60.7h0M323.4 58.2h0M321.2 59.3h0M330.2 52.8h0M333.2 50.0h0M340.3 39.5h0M341.1 38.7h0M341.8 37.7h0M320.6 60.0h0M332.1 51.6h0M329.3 54.1h0M337.6 44.7h0M342.4 36.4h0M339.3 41.6h0M335.2 48.5h0M335.0 49.7h0M329.2 54.0h0M322.3 58.1h0M342.4 35.7h0M321.3 59.5h0M328.6 55.8h0M342.9 35.9h0M322.0 59.7h0M332.6 51.5h0M341.8 37.3h0M326.4 55.1h0M324.6 56.9h0M318.9 62.3h0M319.6 61.7h0M318.0 62.6h0M319.1 61.8h0M318.6 62.4h0M316.6 63.2h0M316.8 63.0h0M317.1 63.3h0M319.5 61.2h0M319.2 61.4h0M320.6 61.3h0M316.5 62.9h0" stroke="#800080" stroke-width="1.00" stroke-linecap="round" fill="none"/>
<rect x="316.50" y="8.00" width="63.30" height="62.40" fill="none" stroke="#b0b0b0" stroke-width="0.80"/>
<path d="M324.15 70.40v1.30M338.06 70.40v1.30M351.98 70.40v1.30M365.89 70.40v1.30M379.80 70.40v1.30M316.50 70.40h-1.30M316.50 61.49h-1.30M316.50 52.57h-1.30M316.50 43.66h-1.30M316.50 34.74h-1.30M316.50 25.83h-1.30M316.50 16.91h-1.30M316.50 8.00h-1.30" stroke="#b0b0b0" stroke-width="0.80" fill="none"/>
<text x="324.15" y="75.70" font-size="5.18" text-anchor="middle" fill="#1a1a1a" font-weight="normal" stroke="#1a1a1a" stroke-width="0.10" textLength="8.98" lengthAdjust="spacingAndGlyphs" >−0.2</text>
<text x="338.06" y="75.70" font-size="5.18" text-anchor="middle" fill="#1a1a1a" font-weight="normal" stroke="#1a1a1a" stroke-width="0.10" textLength="5.88" lengthAdjust="spacingAndGlyphs" >0.0</text>
<text x="351.98" y="75.70" font-size="5.18" text-anchor="middle" fill="#1a1a1a" font-weight="normal" stroke="#1a1a1a" stroke-width="0.10" textLength="5.88" lengthAdjust="spacingAndGlyphs" >0.2</text>
<text x="365.89" y="75.70" font-size="5.18" text-anchor="middle" fill="#1a1a1a" font-weight="normal" stroke="#1a1a1a" stroke-width="0.10" textLength="5.88" lengthAdjust="spacingAndGlyphs" >0.4</text>
<text x="379.80" y="75.70" font-size="5.18" text-anchor="middle" fill="#1a1a1a" font-weight="normal" stroke="#1a1a1a" stroke-width="0.10" textLength="5.88" lengthAdjust="spacingAndGlyphs" >0.6</text>
<text x="315.00" y="72.18" font-size="5.18" text-anchor="end" fill="#1a1a1a" font-weight="normal" stroke="#1a1a1a" stroke-width="0.10" textLength="2.35" lengthAdjust="spacingAndGlyphs" >0</text>
<text x="315.00" y="63.26" font-size="5.18" text-anchor="end" fill="#1a1a1a" font-weight="normal" stroke="#1a1a1a" stroke-width="0.10" textLength="4.71" lengthAdjust="spacingAndGlyphs" >20</text>
<text x="315.00" y="54.35" font-size="5.18" text-anchor="end" fill="#1a1a1a" font-weight="normal" stroke="#1a1a1a" stroke-width="0.10" textLength="4.71" lengthAdjust="spacingAndGlyphs" >40</text>
<text x="315.00" y="45.43" font-size="5.18" text-anchor="end" fill="#1a1a1a" font-weight="normal" stroke="#1a1a1a" stroke-width="0.10" textLength="4.71" lengthAdjust="spacingAndGlyphs" >60</text>
<text x="315.00" y="36.52" font-size="5.18" text-anchor="end" fill="#1a1a1a" font-weight="normal" stroke="#1a1a1a" stroke-width="0.10" textLength="4.71" lengthAdjust="spacingAndGlyphs" >80</text>
<text x="315.00" y="27.60" font-size="5.18" text-anchor="end" fill="#1a1a1a" font-weight="normal" stroke="#1a1a1a" stroke-width="0.10" textLength="7.06" lengthAdjust="spacingAndGlyphs" >100</text>
<text x="315.00" y="18.69" font-size="5.18" text-anchor="end" fill="#1a1a1a" font-weight="normal" stroke="#1a1a1a" stroke-width="0.10" textLength="7.06" lengthAdjust="spacingAndGlyphs" >120</text>
<text x="315.00" y="9.78" font-size="5.18" text-anchor="end" fill="#1a1a1a" font-weight="normal" stroke="#1a1a1a" stroke-width="0.10" textLength="7.06" lengthAdjust="spacingAndGlyphs" >140</text>
<text x="348.65" y="80.60" font-size="4.94" text-anchor="middle" fill="#1a1a1a" font-weight="normal" stroke="#1a1a1a" stroke-width="0.04" textLength="7.27" lengthAdjust="spacingAndGlyphs" >CCI</text>
<text x="306.20" y="39.20" font-size="4.41" text-anchor="middle" fill="#1a1a1a" font-weight="normal" stroke="#1a1a1a" stroke-width="0.04" textLength="24.38" lengthAdjust="spacingAndGlyphs" transform="rotate(-90 306.20 39.20)">Hue (VN05)</text>
<text x="320.40" y="15.80" font-size="5.10" text-anchor="start" fill="#000" font-weight="bold" stroke="#000" stroke-width="0.18" textLength="45.86" lengthAdjust="spacingAndGlyphs" >Autumn Coloration</text>
<path d="M406.35 8.00V70.40M420.26 8.00V70.40M434.18 8.00V70.40M448.09 8.00V70.40M462.00 8.00V70.40M398.70 70.40H462.00M398.70 61.49H462.00M398.70 52.57H462.00M398.70 43.66H462.00M398.70 34.74H462.00M398.70 25.83H462.00M398.70 16.91H462.00M398.70 8.00H462.00" stroke="#ececec" stroke-width="0.6" fill="none"/>
<path d="M426.1 31.2h0M402.8 60.1h0M416.9 46.5h0M422.1 37.7h0M401.9 60.2h0M411.7 54.1h0M412.8 52.7h0M427.2 29.4h0M409.4 54.9h0M404.7 59.4h0M416.4 48.3h0M425.9 31.7h0M403.7 59.7h0M409.1 55.9h0M423.3 35.4h0M410.7 54.2h0M409.6 55.6h0M431.3 28.0h0M409.3 55.0h0M414.7 50.5h0M403.0 59.0h0M411.8 53.5h0M412.9 52.2h0M423.7 35.9h0M428.6 27.5h0M402.5 60.2h0M431.3 27.9h0M404.3 58.9h0M427.7 29.5h0M427.1 30.5h0M423.1 35.7h0M423.8 34.1h0M416.6 48.5h0M412.1 53.6h0M402.3 59.8h0M419.3 42.1h0M425.9 32.0h0M414.8 50.5h0M401.7 60.2h0M421.3 39.6h0M407.8 56.9h0M429.0 28.7h0M409.9 55.2h0M420.9 40.1h0M424.1 34.6h0M428.3 28.9h0M424.4 33.9h0M427.8 29.1h0M402.8 58.5h0M424.3 34.3h0M417.0 46.2h0M414.9 50.7h0M410.2 55.6h0M403.4 59.2h0M401.5 60.1h0M422.1 38.7h0M405.4 57.7h0M423.3 36.1h0M403.3 60.4h0M417.4 47.2h0M435.1 25.8h0M431.2 27.5h0M436.0 25.5h0M442.1 22.8h0M435.3 25.8h0M434.7 26.3h0M443.7 21.3h0M429.7 28.4h0M434.0 27.0h0M431.8 27.1h0M441.4 23.2h0M437.3 24.9h0M435.0 25.9h0M437.0 24.7h0M433.9 26.4h0M442.7 22.3h0M446.8 20.6h0M440.1 22.9h0M433.4 26.6h0M431.9 27.5h0M440.9 23.6h0M446.2 20.8h0M432.4 27.2h0M444.4 21.6h0M430.9 27.7h0M438.0 24.9h0M434.6 26.0h0M432.3 27.3h0M433.6 26.7h0M436.6 25.4h0M441.0 23.3h0M434.5 26.3h0M440.9 23.5h0M440.0 23.7h0M441.3 23.4h0M442.4 22.2h0M439.3 23.8h0M441.8 22.9h0M432.0 27.2h0M431.3 27.8h0M426.1 25.6h0M428.4 29.1h0M431.6 26.6h0M426.4 26.4h0M431.2 27.6h0M426.8 30.0h0M428.8 27.0h0M425.0 28.1h0M430.6 26.0h0M430.7 25.6h0M430.3 29.7h0M428.2 26.9h0" stroke="#008000" stroke-width="1.00" stroke-linecap="round" fill="none"/>
<path d="M423.6 37.2h0M404.6 60.5h0M410.6 54.5h0M423.5 36.6h0M424.0 37.8h0M403.0 62.2h0M403.7 60.3h0M424.8 34.1h0M423.1 37.2h0M423.0 37.7h0M418.0 45.2h0M404.9 58.7h0M424.6 34.2h0M419.0 45.1h0M416.6 50.9h0M413.3 54.6h0M419.6 42.7h0M415.0 52.2h0M415.5 51.7h0M422.7 40.1h0M421.2 39.6h0M407.7 57.7h0M421.8 40.9h0M415.4 50.5h0M404.1 57.8h0M412.8 56.2h0M414.2 52.4h0M403.8 61.3h0M419.1 44.0h0M410.2 57.7h0M415.8 50.1h0M406.9 59.3h0M422.2 38.9h0M421.4 40.2h0M408.7 58.7h0M408.3 58.7h0M409.3 56.0h0M421.0 40.6h0M423.2 37.8h0M407.8 57.6h0M408.3 59.8h0M418.5 46.4h0M405.5 58.9h0M424.0 35.7h0M425.4 30.6h0M422.5 38.4h0M418.7 44.0h0M403.1 59.4h0M404.8 59.3h0M405.0 60.2h0M413.3 52.6h0M416.1 50.7h0M414.8 51.8h0M411.9 53.5h0M418.3 43.6h0M412.9 55.1h0M424.1 34.1h0M406.3 59.5h0M405.4 59.0h0M403.8 60.0h0M410.4 55.4h0M405.4 57.5h0M406.7 58.3h0M404.5 60.0h0M422.2 38.6h0M409.4 57.7h0M411.7 54.3h0M406.4 59.4h0M424.7 34.8h0M424.5 34.4h0M407.3 59.0h0M406.8 56.6h0M424.9 33.9h0M406.6 60.1h0M417.8 47.5h0M422.6 37.7h0M403.2 60.4h0M408.4 56.1h0M405.9 58.7h0M403.7 60.8h0M417.0 49.6h0M403.9 60.1h0M410.9 56.1h0M423.2 35.2h0M420.7 41.9h0M416.6 51.2h0M420.1 45.3h0M421.4 39.8h0M407.6 58.8h0M410.0 57.1h0M421.8 40.8h0M422.3 38.5h0M423.6 36.9h0M411.3 55.6h0M413.6 54.5h0M415.1 51.5h0M420.8 40.3h0M411.3 56.5h0M417.1 47.9h0M404.3 59.8h0M403.9 61.2h0M420.1 43.8h0M404.1 59.2h0M425.5 32.2h0M407.7 56.8h0M414.8 51.8h0M411.4 56.3h0M416.6 50.5h0M405.0 58.5h0M420.6 42.2h0M408.8 57.1h0M408.2 58.3h0M424.4 35.6h0M409.7 56.2h0M404.2 60.2h0M407.8 59.9h0M422.3 41.4h0M423.0 37.4h0M422.1 39.1h0M420.9 39.8h0M403.4 58.9h0M421.6 38.9h0M412.3 56.2h0M425.3 32.6h0M411.7 55.1h0M417.1 48.9h0M424.7 32.7h0M418.4 47.5h0M415.5 50.3h0M410.2 56.1h0" stroke="#ffa500" stroke-width="1.00" stroke-linecap="round" fill="none"/>
<path d="M419.7 42.4h0M410.9 55.2h0M407.5 56.9h0M414.6 50.6h0M403.7 59.0h0M412.7 53.3h0M424.3 33.4h0M418.7 43.7h0M409.2 55.5h0M408.9 56.3h0M418.2 45.0h0M421.9 37.4h0M412.2 54.3h0M408.4 56.2h0M423.8 33.9h0M421.7 39.0h0M419.6 42.5h0M419.9 41.7h0M411.6 54.1h0M418.0 45.8h0M408.4 56.4h0M411.8 54.4h0M418.0 45.8h0M416.9 47.9h0M418.9 43.5h0M415.8 49.0h0M404.2 59.4h0M411.6 55.0h0M419.9 41.1h0M412.1 54.2h0M413.4 52.3h0M412.4 53.7h0M408.3 56.6h0M423.7 34.8h0M419.8 40.8h0M423.3 35.2h0M411.3 54.3h0M417.2 46.5h0M415.2 50.7h0M415.0 50.5h0M414.0 51.4h0M419.1 43.2h0M416.7 46.8h0M420.2 40.8h0M404.0 59.8h0M418.1 45.4h0M405.9 57.8h0M418.6 44.0h0M418.7 43.9h0M412.9 53.1h0M403.4 60.5h0M422.3 38.1h0M403.8 59.3h0M415.6 49.8h0M406.6 56.9h0M418.3 44.8h0M408.7 56.3h0M424.4 33.6h0M405.6 57.9h0M422.5 36.6h0" stroke="#ff0000" stroke-width="1.00" stroke-linecap="round" fill="none"/>
<path d="M411.2 53.7h0M407.0 57.1h0M405.1 59.0h0M409.4 55.6h0M407.9 55.9h0M410.1 54.6h0M404.9 58.1h0M408.8 56.2h0M405.6 58.0h0M410.0 55.8h0M407.5 57.2h0M406.0 57.4h0M405.7 57.4h0M408.2 56.2h0M406.6 58.0h0" stroke="#800080" stroke-width="1.00" stroke-linecap="round" fill="none"/>
<rect x="398.70" y="8.00" width="63.30" height="62.40" fill="none" stroke="#b0b0b0" stroke-width="0.80"/>
<path d="M406.35 70.40v1.30M420.26 70.40v1.30M434.18 70.40v1.30M448.09 70.40v1.30M462.00 70.40v1.30M398.70 70.40h-1.30M398.70 61.49h-1.30M398.70 52.57h-1.30M398.70 43.66h-1.30M398.70 34.74h-1.30M398.70 25.83h-1.30M398.70 16.91h-1.30M398.70 8.00h-1.30" stroke="#b0b0b0" stroke-width="0.80" fill="none"/>
<text x="406.35" y="75.70" font-size="5.18" text-anchor="middle" fill="#1a1a1a" font-weight="normal" stroke="#1a1a1a" stroke-width="0.10" textLength="8.98" lengthAdjust="spacingAndGlyphs" >−0.2</text>
<text x="420.26" y="75.70" font-size="5.18" text-anchor="middle" fill="#1a1a1a" font-weight="normal" stroke="#1a1a1a" stroke-width="0.10" textLength="5.88" lengthAdjust="spacingAndGlyphs" >0.0</text>
<text x="434.18" y="75.70" font-size="5.18" text-anchor="middle" fill="#1a1a1a" font-weight="normal" stroke="#1a1a1a" stroke-width="0.10" textLength="5.88" lengthAdjust="spacingAndGlyphs" >0.2</text>
<text x="448.09" y="75.70" font-size="5.18" text-anchor="middle" fill="#1a1a1a" font-weight="normal" stroke="#1a1a1a" stroke-width="0.10" textLength="5.88" lengthAdjust="spacingAndGlyphs" >0.4</text>
<text x="462.00" y="75.70" font-size="5.18" text-anchor="middle" fill="#1a1a1a" font-weight="normal" stroke="#1a1a1a" stroke-width="0.10" textLength="5.88" lengthAdjust="spacingAndGlyphs" >0.6</text>
<text x="397.20" y="72.18" font-size="5.18" text-anchor="end" fill="#1a1a1a" font-weight="normal" stroke="#1a1a1a" stroke-width="0.10" textLength="2.35" lengthAdjust="spacingAndGlyphs" >0</text>
<text x="397.20" y="63.26" font-size="5.18" text-anchor="end" fill="#1a1a1a" font-weight="normal" stroke="#1a1a1a" stroke-width="0.10" textLength="4.71" lengthAdjust="spacingAndGlyphs" >20</text>
<text x="397.20" y="54.35" font-size="5.18" text-anchor="end" fill="#1a1a1a" font-weight="normal" stroke="#1a1a1a" stroke-width="0.10" textLength="4.71" lengthAdjust="spacingAndGlyphs" >40</text>
<text x="397.20" y="45.43" font-size="5.18" text-anchor="end" fill="#1a1a1a" font-weight="normal" stroke="#1a1a1a" stroke-width="0.10" textLength="4.71" lengthAdjust="spacingAndGlyphs" >60</text>
<text x="397.20" y="36.52" font-size="5.18" text-anchor="end" fill="#1a1a1a" font-weight="normal" stroke="#1a1a1a" stroke-width="0.10" textLength="4.71" lengthAdjust="spacingAndGlyphs" >80</text>
<text x="397.20" y="27.60" font-size="5.18" text-anchor="end" fill="#1a1a1a" font-weight="normal" stroke="#1a1a1a" stroke-width="0.10" textLength="7.06" lengthAdjust="spacingAndGlyphs" >100</text>
<text x="397.20" y="18.69" font-size="5.18" text-anchor="end" fill="#1a1a1a" font-weight="normal" stroke="#1a1a1a" stroke-width="0.10" textLength="7.06" lengthAdjust="spacingAndGlyphs" >120</text>
<text x="397.20" y="9.78" font-size="5.18" text-anchor="end" fill="#1a1a1a" font-weight="normal" stroke="#1a1a1a" stroke-width="0.10" textLength="7.06" lengthAdjust="spacingAndGlyphs" >140</text>
<text x="430.85" y="80.60" font-size="4.94" text-anchor="middle" fill="#1a1a1a" font-weight="normal" stroke="#1a1a1a" stroke-width="0.04" textLength="7.27" lengthAdjust="spacingAndGlyphs" >CCI</text>
<text x="388.40" y="39.20" font-size="4.41" text-anchor="middle" fill="#1a1a1a" font-weight="normal" stroke="#1a1a1a" stroke-width="0.04" textLength="24.38" lengthAdjust="spacingAndGlyphs" transform="rotate(-90 388.40 39.20)">Hue (VN05)</text>
<text x="402.60" y="15.80" font-size="5.10" text-anchor="start" fill="#000" font-weight="bold" stroke="#000" stroke-width="0.18" textLength="25.14" lengthAdjust="spacingAndGlyphs" >Leaf Flush</text>
<path d="M488.55 8.00V70.40M502.46 8.00V70.40M516.38 8.00V70.40M530.29 8.00V70.40M544.20 8.00V70.40M480.90 70.40H544.20M480.90 61.49H544.20M480.90 52.57H544.20M480.90 43.66H544.20M480.90 34.74H544.20M480.90 25.83H544.20M480.90 16.91H544.20M480.90 8.00H544.20" stroke="#ececec" stroke-width="0.6" fill="none"/>
<path d="M497.2 51.9h0M496.7 52.5h0M499.3 48.3h0M498.0 50.0h0M499.5 47.9h0M497.5 51.3h0M496.3 53.6h0M498.0 50.7h0" stroke="#0000ff" stroke-width="1.00" stroke-linecap="round" fill="none"/>
<path d="M491.0 60.9h0M491.3 60.8h0M489.2 62.2h0M490.2 60.5h0M493.0 60.6h0M490.0 60.9h0M490.4 60.9h0M493.7 61.8h0M489.9 61.4h0M488.5 62.1h0M488.8 61.4h0M490.1 61.2h0M490.9 61.5h0M488.9 60.2h0M487.5 61.6h0M490.6 60.8h0M489.7 60.9h0M489.3 61.2h0M488.9 60.7h0M491.3 60.8h0M489.7 61.3h0M488.3 60.1h0M488.7 61.1h0M489.4 60.6h0M488.2 61.8h0M489.3 61.7h0M491.3 60.9h0M491.0 59.4h0M491.1 61.9h0M491.1 61.9h0M495.5 61.5h0M497.8 60.1h0M496.6 61.0h0" stroke="#ff0000" stroke-width="1.00" stroke-linecap="round" fill="none"/>
<path d="M487.0 62.4h0M487.9 61.9h0" stroke="#800080" stroke-width="1.00" stroke-linecap="round" fill="none"/>
<rect x="480.90" y="8.00" width="63.30" height="62.40" fill="none" stroke="#b0b0b0" stroke-width="0.80"/>
<path d="M488.55 70.40v1.30M502.46 70.40v1.30M516.38 70.40v1.30M530.29 70.40v1.30M544.20 70.40v1.30M480.90 70.40h-1.30M480.90 61.49h-1.30M480.90 52.57h-1.30M480.90 43.66h-1.30M480.90 34.74h-1.30M480.90 25.83h-1.30M480.90 16.91h-1.30M480.90 8.00h-1.30" stroke="#b0b0b0" stroke-width="0.80" fill="none"/>
<text x="488.55" y="75.70" font-size="5.18" text-anchor="middle" fill="#1a1a1a" font-weight="normal" stroke="#1a1a1a" stroke-width="0.10" textLength="8.98" lengthAdjust="spacingAndGlyphs" >−0.2</text>
<text x="502.46" y="75.70" font-size="5.18" text-anchor="middle" fill="#1a1a1a" font-weight="normal" stroke="#1a1a1a" stroke-width="0.10" textLength="5.88" lengthAdjust="spacingAndGlyphs" >0.0</text>
<text x="516.38" y="75.70" font-size="5.18" text-anchor="middle" fill="#1a1a1a" font-weight="normal" stroke="#1a1a1a" stroke-width="0.10" textLength="5.88" lengthAdjust="spacingAndGlyphs" >0.2</text>
<text x="530.29" y="75.70" font-size="5.18" text-anchor="middle" fill="#1a1a1a" font-weight="normal" stroke="#1a1a1a" stroke-width="0.10" textLength="5.88" lengthAdjust="spacingAndGlyphs" >0.4</text>
<text x="544.20" y="75.70" font-size="5.18" text-anchor="middle" fill="#1a1a1a" font-weight="normal" stroke="#1a1a1a" stroke-width="0.10" textLength="5.88" lengthAdjust="spacingAndGlyphs" >0.6</text>
<text x="479.40" y="72.18" font-size="5.18" text-anchor="end" fill="#1a1a1a" font-weight="normal" stroke="#1a1a1a" stroke-width="0.10" textLength="2.35" lengthAdjust="spacingAndGlyphs" >0</text>
<text x="479.40" y="63.26" font-size="5.18" text-anchor="end" fill="#1a1a1a" font-weight="normal" stroke="#1a1a1a" stroke-width="0.10" textLength="4.71" lengthAdjust="spacingAndGlyphs" >20</text>
<text x="479.40" y="54.35" font-size="5.18" text-anchor="end" fill="#1a1a1a" font-weight="normal" stroke="#1a1a1a" stroke-width="0.10" textLength="4.71" lengthAdjust="spacingAndGlyphs" >40</text>
<text x="479.40" y="45.43" font-size="5.18" text-anchor="end" fill="#1a1a1a" font-weight="normal" stroke="#1a1a1a" stroke-width="0.10" textLength="4.71" lengthAdjust="spacingAndGlyphs" >60</text>
<text x="479.40" y="36.52" font-size="5.18" text-anchor="end" fill="#1a1a1a" font-weight="normal" stroke="#1a1a1a" stroke-width="0.10" textLength="4.71" lengthAdjust="spacingAndGlyphs" >80</text>
<text x="479.40" y="27.60" font-size="5.18" text-anchor="end" fill="#1a1a1a" font-weight="normal" stroke="#1a1a1a" stroke-width="0.10" textLength="7.06" lengthAdjust="spacingAndGlyphs" >100</text>
<text x="479.40" y="18.69" font-size="5.18" text-anchor="end" fill="#1a1a1a" font-weight="normal" stroke="#1a1a1a" stroke-width="0.10" textLength="7.06" lengthAdjust="spacingAndGlyphs" >120</text>
<text x="479.40" y="9.78" font-size="5.18" text-anchor="end" fill="#1a1a1a" font-weight="normal" stroke="#1a1a1a" stroke-width="0.10" textLength="7.06" lengthAdjust="spacingAndGlyphs" >140</text>
<text x="513.05" y="80.60" font-size="4.94" text-anchor="middle" fill="#1a1a1a" font-weight="normal" stroke="#1a1a1a" stroke-width="0.04" textLength="7.27" lengthAdjust="spacingAndGlyphs" >CCI</text>
<text x="470.60" y="39.20" font-size="4.41" text-anchor="middle" fill="#1a1a1a" font-weight="normal" stroke="#1a1a1a" stroke-width="0.04" textLength="24.38" lengthAdjust="spacingAndGlyphs" transform="rotate(-90 470.60 39.20)">Hue (VN05)</text>
<text x="484.80" y="15.80" font-size="5.10" text-anchor="start" fill="#000" font-weight="bold" stroke="#000" stroke-width="0.18" textLength="27.29" lengthAdjust="spacingAndGlyphs" >Understory</text>
<path d="M241.95 83.90V146.30M255.86 83.90V146.30M269.78 83.90V146.30M283.69 83.90V146.30M297.60 83.90V146.30M234.30 146.30H297.60M234.30 137.39H297.60M234.30 128.47H297.60M234.30 119.56H297.60M234.30 110.64H297.60M234.30 101.73H297.60M234.30 92.81H297.60M234.30 83.90H297.60" stroke="#ececec" stroke-width="0.6" fill="none"/>
<path d="M245.4 132.9h0M246.1 133.4h0" stroke="#0000ff" stroke-width="1.00" stroke-linecap="round" fill="none"/>
<path d="M240.6 135.8h0M240.9 135.8h0M237.9 136.8h0M240.0 135.4h0M238.2 136.7h0M241.6 135.3h0M238.0 136.5h0M237.6 136.5h0M235.9 136.8h0M240.6 135.5h0M240.5 135.2h0M237.3 137.2h0M241.3 135.3h0M236.7 136.5h0M237.1 136.7h0M241.0 135.1h0M236.4 135.6h0M239.9 135.8h0M239.7 135.8h0M237.2 137.3h0M235.8 136.2h0M241.5 135.8h0M239.5 135.6h0M240.2 135.4h0M237.3 136.0h0M249.8 136.3h0M244.7 134.3h0" stroke="#008000" stroke-width="1.00" stroke-linecap="round" fill="none"/>
<path d="M245.9 137.3h0M240.3 135.9h0M242.1 137.0h0M245.9 137.6h0M239.6 135.5h0M242.9 136.5h0M244.3 135.9h0M245.1 134.9h0M243.4 135.6h0M240.4 136.8h0M240.1 135.0h0M242.8 136.7h0M243.9 134.8h0M240.0 136.5h0M240.9 136.4h0M240.8 136.2h0M243.0 136.9h0M244.5 134.5h0M242.8 134.7h0M241.1 136.6h0M245.7 135.7h0M241.0 135.7h0M241.3 136.3h0M245.6 135.6h0M245.8 136.1h0M242.2 136.9h0M241.9 135.7h0M241.8 135.1h0M239.6 135.2h0M239.9 136.1h0M252.7 135.6h0M253.8 136.0h0M255.0 136.3h0" stroke="#ffa500" stroke-width="1.00" stroke-linecap="round" fill="none"/>
<rect x="234.30" y="83.90" width="63.30" height="62.40" fill="none" stroke="#b0b0b0" stroke-width="0.80"/>
<path d="M241.95 146.30v1.30M255.86 146.30v1.30M269.78 146.30v1.30M283.69 146.30v1.30M297.60 146.30v1.30M234.30 146.30h-1.30M234.30 137.39h-1.30M234.30 128.47h-1.30M234.30 119.56h-1.30M234.30 110.64h-1.30M234.30 101.73h-1.30M234.30 92.81h-1.30M234.30 83.90h-1.30" stroke="#b0b0b0" stroke-width="0.80" fill="none"/>
<text x="241.95" y="151.60" font-size="5.18" text-anchor="middle" fill="#1a1a1a" font-weight="normal" stroke="#1a1a1a" stroke-width="0.10" textLength="8.98" lengthAdjust="spacingAndGlyphs" >−0.2</text>
<text x="255.86" y="151.60" font-size="5.18" text-anchor="middle" fill="#1a1a1a" font-weight="normal" stroke="#1a1a1a" stroke-width="0.10" textLength="5.88" lengthAdjust="spacingAndGlyphs" >0.0</text>
<text x="269.78" y="151.60" font-size="5.18" text-anchor="middle" fill="#1a1a1a" font-weight="normal" stroke="#1a1a1a" stroke-width="0.10" textLength="5.88" lengthAdjust="spacingAndGlyphs" >0.2</text>
<text x="283.69" y="151.60" font-size="5.18" text-anchor="middle" fill="#1a1a1a" font-weight="normal" stroke="#1a1a1a" stroke-width="0.10" textLength="5.88" lengthAdjust="spacingAndGlyphs" >0.4</text>
<text x="297.60" y="151.60" font-size="5.18" text-anchor="middle" fill="#1a1a1a" font-weight="normal" stroke="#1a1a1a" stroke-width="0.10" textLength="5.88" lengthAdjust="spacingAndGlyphs" >0.6</text>
<text x="232.80" y="148.08" font-size="5.18" text-anchor="end" fill="#1a1a1a" font-weight="normal" stroke="#1a1a1a" stroke-width="0.10" textLength="2.35" lengthAdjust="spacingAndGlyphs" >0</text>
<text x="232.80" y="139.16" font-size="5.18" text-anchor="end" fill="#1a1a1a" font-weight="normal" stroke="#1a1a1a" stroke-width="0.10" textLength="4.71" lengthAdjust="spacingAndGlyphs" >20</text>
<text x="232.80" y="130.25" font-size="5.18" text-anchor="end" fill="#1a1a1a" font-weight="normal" stroke="#1a1a1a" stroke-width="0.10" textLength="4.71" lengthAdjust="spacingAndGlyphs" >40</text>
<text x="232.80" y="121.33" font-size="5.18" text-anchor="end" fill="#1a1a1a" font-weight="normal" stroke="#1a1a1a" stroke-width="0.10" textLength="4.71" lengthAdjust="spacingAndGlyphs" >60</text>
<text x="232.80" y="112.42" font-size="5.18" text-anchor="end" fill="#1a1a1a" font-weight="normal" stroke="#1a1a1a" stroke-width="0.10" textLength="4.71" lengthAdjust="spacingAndGlyphs" >80</text>
<text x="232.80" y="103.50" font-size="5.18" text-anchor="end" fill="#1a1a1a" font-weight="normal" stroke="#1a1a1a" stroke-width="0.10" textLength="7.06" lengthAdjust="spacingAndGlyphs" >100</text>
<text x="232.80" y="94.59" font-size="5.18" text-anchor="end" fill="#1a1a1a" font-weight="normal" stroke="#1a1a1a" stroke-width="0.10" textLength="7.06" lengthAdjust="spacingAndGlyphs" >120</text>
<text x="232.80" y="85.68" font-size="5.18" text-anchor="end" fill="#1a1a1a" font-weight="normal" stroke="#1a1a1a" stroke-width="0.10" textLength="7.06" lengthAdjust="spacingAndGlyphs" >140</text>
<text x="266.45" y="156.50" font-size="4.94" text-anchor="middle" fill="#1a1a1a" font-weight="normal" stroke="#1a1a1a" stroke-width="0.04" textLength="7.27" lengthAdjust="spacingAndGlyphs" >CCI</text>
<text x="224.00" y="115.10" font-size="4.41" text-anchor="middle" fill="#1a1a1a" font-weight="normal" stroke="#1a1a1a" stroke-width="0.04" textLength="24.38" lengthAdjust="spacingAndGlyphs" transform="rotate(-90 224.00 115.10)">Hue (VN05)</text>
<text x="238.20" y="91.70" font-size="5.10" text-anchor="start" fill="#000" font-weight="bold" stroke="#000" stroke-width="0.18" textLength="21.81" lengthAdjust="spacingAndGlyphs" >Bare Soil</text>
<path d="M324.15 83.90V146.30M338.06 83.90V146.30M351.98 83.90V146.30M365.89 83.90V146.30M379.80 83.90V146.30M316.50 146.30H379.80M316.50 137.39H379.80M316.50 128.47H379.80M316.50 119.56H379.80M316.50 110.64H379.80M316.50 101.73H379.80M316.50 92.81H379.80M316.50 83.90H379.80" stroke="#ececec" stroke-width="0.6" fill="none"/>
<path d="M336.8 132.9h0M336.8 131.6h0M336.8 130.3h0" stroke="#0000ff" stroke-width="1.00" stroke-linecap="round" fill="none"/>
<path d="M334.6 135.9h0M334.8 135.0h0M334.8 135.1h0M334.6 137.0h0M335.8 136.8h0M334.1 136.5h0M335.2 134.6h0M335.1 136.2h0M335.9 134.9h0M335.1 137.3h0M335.0 137.7h0M335.6 136.7h0M334.8 138.4h0M335.2 138.0h0M334.1 134.7h0M336.5 137.5h0M334.6 135.0h0M334.2 136.0h0M334.6 138.1h0M335.9 137.4h0M334.2 134.9h0M337.3 138.0h0M334.7 138.6h0M334.6 136.3h0M334.2 138.1h0M335.2 136.5h0M337.3 136.3h0M334.9 135.3h0M335.1 138.3h0M334.1 137.3h0M335.0 133.6h0M335.4 134.5h0M333.5 136.9h0M335.8 134.5h0M333.9 136.5h0M335.3 138.6h0M332.8 136.4h0M334.0 134.6h0M335.1 138.0h0M334.3 139.0h0M336.1 134.2h0M334.5 136.4h0M334.3 138.1h0M334.9 135.7h0M334.7 137.1h0" stroke="#ff0000" stroke-width="1.00" stroke-linecap="round" fill="none"/>
<rect x="316.50" y="83.90" width="63.30" height="62.40" fill="none" stroke="#b0b0b0" stroke-width="0.80"/>
<path d="M324.15 146.30v1.30M338.06 146.30v1.30M351.98 146.30v1.30M365.89 146.30v1.30M379.80 146.30v1.30M316.50 146.30h-1.30M316.50 137.39h-1.30M316.50 128.47h-1.30M316.50 119.56h-1.30M316.50 110.64h-1.30M316.50 101.73h-1.30M316.50 92.81h-1.30M316.50 83.90h-1.30" stroke="#b0b0b0" stroke-width="0.80" fill="none"/>
<text x="324.15" y="151.60" font-size="5.18" text-anchor="middle" fill="#1a1a1a" font-weight="normal" stroke="#1a1a1a" stroke-width="0.10" textLength="8.98" lengthAdjust="spacingAndGlyphs" >−0.2</text>
<text x="338.06" y="151.60" font-size="5.18" text-anchor="middle" fill="#1a1a1a" font-weight="normal" stroke="#1a1a1a" stroke-width="0.10" textLength="5.88" lengthAdjust="spacingAndGlyphs" >0.0</text>
<text x="351.98" y="151.60" font-size="5.18" text-anchor="middle" fill="#1a1a1a" font-weight="normal" stroke="#1a1a1a" stroke-width="0.10" textLength="5.88" lengthAdjust="spacingAndGlyphs" >0.2</text>
<text x="365.89" y="151.60" font-size="5.18" text-anchor="middle" fill="#1a1a1a" font-weight="normal" stroke="#1a1a1a" stroke-width="0.10" textLength="5.88" lengthAdjust="spacingAndGlyphs" >0.4</text>
<text x="379.80" y="151.60" font-size="5.18" text-anchor="middle" fill="#1a1a1a" font-weight="normal" stroke="#1a1a1a" stroke-width="0.10" textLength="5.88" lengthAdjust="spacingAndGlyphs" >0.6</text>
<text x="315.00" y="148.08" font-size="5.18" text-anchor="end" fill="#1a1a1a" font-weight="normal" stroke="#1a1a1a" stroke-width="0.10" textLength="2.35" lengthAdjust="spacingAndGlyphs" >0</text>
<text x="315.00" y="139.16" font-size="5.18" text-anchor="end" fill="#1a1a1a" font-weight="normal" stroke="#1a1a1a" stroke-width="0.10" textLength="4.71" lengthAdjust="spacingAndGlyphs" >20</text>
<text x="315.00" y="130.25" font-size="5.18" text-anchor="end" fill="#1a1a1a" font-weight="normal" stroke="#1a1a1a" stroke-width="0.10" textLength="4.71" lengthAdjust="spacingAndGlyphs" >40</text>
<text x="315.00" y="121.33" font-size="5.18" text-anchor="end" fill="#1a1a1a" font-weight="normal" stroke="#1a1a1a" stroke-width="0.10" textLength="4.71" lengthAdjust="spacingAndGlyphs" >60</text>
<text x="315.00" y="112.42" font-size="5.18" text-anchor="end" fill="#1a1a1a" font-weight="normal" stroke="#1a1a1a" stroke-width="0.10" textLength="4.71" lengthAdjust="spacingAndGlyphs" >80</text>
<text x="315.00" y="103.50" font-size="5.18" text-anchor="end" fill="#1a1a1a" font-weight="normal" stroke="#1a1a1a" stroke-width="0.10" textLength="7.06" lengthAdjust="spacingAndGlyphs" >100</text>
<text x="315.00" y="94.59" font-size="5.18" text-anchor="end" fill="#1a1a1a" font-weight="normal" stroke="#1a1a1a" stroke-width="0.10" textLength="7.06" lengthAdjust="spacingAndGlyphs" >120</text>
<text x="315.00" y="85.68" font-size="5.18" text-anchor="end" fill="#1a1a1a" font-weight="normal" stroke="#1a1a1a" stroke-width="0.10" textLength="7.06" lengthAdjust="spacingAndGlyphs" >140</text>
<text x="348.65" y="156.50" font-size="4.94" text-anchor="middle" fill="#1a1a1a" font-weight="normal" stroke="#1a1a1a" stroke-width="0.04" textLength="7.27" lengthAdjust="spacingAndGlyphs" >CCI</text>
<text x="306.20" y="115.10" font-size="4.41" text-anchor="middle" fill="#1a1a1a" font-weight="normal" stroke="#1a1a1a" stroke-width="0.04" textLength="24.38" lengthAdjust="spacingAndGlyphs" transform="rotate(-90 306.20 115.10)">Hue (VN05)</text>
<text x="320.40" y="91.70" font-size="5.10" text-anchor="start" fill="#000" font-weight="bold" stroke="#000" stroke-width="0.18" textLength="23.42" lengthAdjust="spacingAndGlyphs" >Full Snow</text>
<path d="M406.35 83.90V146.30M420.26 83.90V146.30M434.18 83.90V146.30M448.09 83.90V146.30M462.00 83.90V146.30M398.70 146.30H462.00M398.70 137.39H462.00M398.70 128.47H462.00M398.70 119.56H462.00M398.70 110.64H462.00M398.70 101.73H462.00M398.70 92.81H462.00M398.70 83.90H462.00" stroke="#ececec" stroke-width="0.6" fill="none"/>
<path d="M414.3 128.6h0M415.5 129.3h0M416.7 131.0h0M415.7 129.4h0M414.5 128.9h0M415.9 130.3h0M416.7 130.5h0M418.2 128.5h0M418.5 126.7h0" stroke="#0000ff" stroke-width="1.00" stroke-linecap="round" fill="none"/>
<path d="M418.2 136.9h0" stroke="#008000" stroke-width="1.00" stroke-linecap="round" fill="none"/>
<path d="M418.9 135.6h0" stroke="#ffa500" stroke-width="1.00" stroke-linecap="round" fill="none"/>
<path d="M409.8 135.4h0M416.9 136.7h0M410.5 137.0h0M411.4 134.8h0M409.5 137.3h0M411.8 135.9h0M414.5 135.5h0M417.4 135.1h0M412.6 136.6h0M416.6 136.2h0M409.0 135.1h0M415.7 136.4h0M406.9 135.6h0M409.9 136.1h0M410.7 136.8h0M412.0 136.1h0M413.8 135.1h0M416.5 136.3h0M415.5 135.4h0M414.1 137.0h0M409.3 136.8h0M408.6 135.1h0M410.4 134.9h0M409.4 137.1h0M411.0 135.3h0M415.8 134.6h0M414.2 136.5h0M415.4 136.0h0M412.7 136.0h0M414.2 134.5h0M417.1 136.3h0M415.7 134.9h0M415.9 134.9h0M415.5 134.6h0M414.7 135.5h0M417.4 137.0h0M414.8 137.2h0M414.6 134.5h0M414.1 134.5h0M415.9 136.2h0M414.0 137.0h0M414.8 135.0h0M413.6 136.2h0M414.6 136.7h0M412.7 134.3h0M417.2 135.8h0M414.1 137.1h0M417.2 137.5h0M413.8 134.6h0M415.2 136.1h0" stroke="#ff0000" stroke-width="1.00" stroke-linecap="round" fill="none"/>
<path d="M418.0 144.1h0" stroke="#800080" stroke-width="1.00" stroke-linecap="round" fill="none"/>
<rect x="398.70" y="83.90" width="63.30" height="62.40" fill="none" stroke="#b0b0b0" stroke-width="0.80"/>
<path d="M406.35 146.30v1.30M420.26 146.30v1.30M434.18 146.30v1.30M448.09 146.30v1.30M462.00 146.30v1.30M398.70 146.30h-1.30M398.70 137.39h-1.30M398.70 128.47h-1.30M398.70 119.56h-1.30M398.70 110.64h-1.30M398.70 101.73h-1.30M398.70 92.81h-1.30M398.70 83.90h-1.30" stroke="#b0b0b0" stroke-width="0.80" fill="none"/>
<text x="406.35" y="151.60" font-size="5.18" text-anchor="middle" fill="#1a1a1a" font-weight="normal" stroke="#1a1a1a" stroke-width="0.10" textLength="8.98" lengthAdjust="spacingAndGlyphs" >−0.2</text>
<text x="420.26" y="151.60" font-size="5.18" text-anchor="middle" fill="#1a1a1a" font-weight="normal" stroke="#1a1a1a" stroke-width="0.10" textLength="5.88" lengthAdjust="spacingAndGlyphs" >0.0</text>
<text x="434.18" y="151.60" font-size="5.18" text-anchor="middle" fill="#1a1a1a" font-weight="normal" stroke="#1a1a1a" stroke-width="0.10" textLength="5.88" lengthAdjust="spacingAndGlyphs" >0.2</text>
<text x="448.09" y="151.60" font-size="5.18" text-anchor="middle" fill="#1a1a1a" font-weight="normal" stroke="#1a1a1a" stroke-width="0.10" textLength="5.88" lengthAdjust="spacingAndGlyphs" >0.4</text>
<text x="462.00" y="151.60" font-size="5.18" text-anchor="middle" fill="#1a1a1a" font-weight="normal" stroke="#1a1a1a" stroke-width="0.10" textLength="5.88" lengthAdjust="spacingAndGlyphs" >0.6</text>
<text x="397.20" y="148.08" font-size="5.18" text-anchor="end" fill="#1a1a1a" font-weight="normal" stroke="#1a1a1a" stroke-width="0.10" textLength="2.35" lengthAdjust="spacingAndGlyphs" >0</text>
<text x="397.20" y="139.16" font-size="5.18" text-anchor="end" fill="#1a1a1a" font-weight="normal" stroke="#1a1a1a" stroke-width="0.10" textLength="4.71" lengthAdjust="spacingAndGlyphs" >20</text>
<text x="397.20" y="130.25" font-size="5.18" text-anchor="end" fill="#1a1a1a" font-weight="normal" stroke="#1a1a1a" stroke-width="0.10" textLength="4.71" lengthAdjust="spacingAndGlyphs" >40</text>
<text x="397.20" y="121.33" font-size="5.18" text-anchor="end" fill="#1a1a1a" font-weight="normal" stroke="#1a1a1a" stroke-width="0.10" textLength="4.71" lengthAdjust="spacingAndGlyphs" >60</text>
<text x="397.20" y="112.42" font-size="5.18" text-anchor="end" fill="#1a1a1a" font-weight="normal" stroke="#1a1a1a" stroke-width="0.10" textLength="4.71" lengthAdjust="spacingAndGlyphs" >80</text>
<text x="397.20" y="103.50" font-size="5.18" text-anchor="end" fill="#1a1a1a" font-weight="normal" stroke="#1a1a1a" stroke-width="0.10" textLength="7.06" lengthAdjust="spacingAndGlyphs" >100</text>
<text x="397.20" y="94.59" font-size="5.18" text-anchor="end" fill="#1a1a1a" font-weight="normal" stroke="#1a1a1a" stroke-width="0.10" textLength="7.06" lengthAdjust="spacingAndGlyphs" >120</text>
<text x="397.20" y="85.68" font-size="5.18" text-anchor="end" fill="#1a1a1a" font-weight="normal" stroke="#1a1a1a" stroke-width="0.10" textLength="7.06" lengthAdjust="spacingAndGlyphs" >140</text>
<text x="430.85" y="156.50" font-size="4.94" text-anchor="middle" fill="#1a1a1a" font-weight="normal" stroke="#1a1a1a" stroke-width="0.04" textLength="7.27" lengthAdjust="spacingAndGlyphs" >CCI</text>
<text x="388.40" y="115.10" font-size="4.41" text-anchor="middle" fill="#1a1a1a" font-weight="normal" stroke="#1a1a1a" stroke-width="0.04" textLength="24.38" lengthAdjust="spacingAndGlyphs" transform="rotate(-90 388.40 115.10)">Hue (VN05)</text>
<text x="402.60" y="91.70" font-size="5.10" text-anchor="start" fill="#000" font-weight="bold" stroke="#000" stroke-width="0.18" textLength="30.69" lengthAdjust="spacingAndGlyphs" >Partial Snow</text>
<path d="M488.55 83.90V146.30M502.46 83.90V146.30M516.38 83.90V146.30M530.29 83.90V146.30M544.20 83.90V146.30M480.90 146.30H544.20M480.90 137.39H544.20M480.90 128.47H544.20M480.90 119.56H544.20M480.90 110.64H544.20M480.90 101.73H544.20M480.90 92.81H544.20M480.90 83.90H544.20" stroke="#ececec" stroke-width="0.6" fill="none"/>
<path d="M493.0 134.1h0M491.8 134.8h0M492.5 136.0h0M493.8 135.8h0M493.8 134.3h0M492.1 134.9h0M494.1 135.1h0M493.8 134.6h0M492.6 135.4h0M492.3 135.3h0M492.6 134.5h0M493.5 134.2h0M494.7 133.9h0M490.9 133.9h0M494.6 134.4h0M497.5 131.3h0M495.1 133.5h0M497.6 131.7h0M494.8 133.6h0M497.1 132.2h0" stroke="#ffa500" stroke-width="1.00" stroke-linecap="round" fill="none"/>
<rect x="480.90" y="83.90" width="63.30" height="62.40" fill="none" stroke="#b0b0b0" stroke-width="0.80"/>
<path d="M488.55 146.30v1.30M502.46 146.30v1.30M516.38 146.30v1.30M530.29 146.30v1.30M544.20 146.30v1.30M480.90 146.30h-1.30M480.90 137.39h-1.30M480.90 128.47h-1.30M480.90 119.56h-1.30M480.90 110.64h-1.30M480.90 101.73h-1.30M480.90 92.81h-1.30M480.90 83.90h-1.30" stroke="#b0b0b0" stroke-width="0.80" fill="none"/>
<text x="488.55" y="151.60" font-size="5.18" text-anchor="middle" fill="#1a1a1a" font-weight="normal" stroke="#1a1a1a" stroke-width="0.10" textLength="8.98" lengthAdjust="spacingAndGlyphs" >−0.2</text>
<text x="502.46" y="151.60" font-size="5.18" text-anchor="middle" fill="#1a1a1a" font-weight="normal" stroke="#1a1a1a" stroke-width="0.10" textLength="5.88" lengthAdjust="spacingAndGlyphs" >0.0</text>
<text x="516.38" y="151.60" font-size="5.18" text-anchor="middle" fill="#1a1a1a" font-weight="normal" stroke="#1a1a1a" stroke-width="0.10" textLength="5.88" lengthAdjust="spacingAndGlyphs" >0.2</text>
<text x="530.29" y="151.60" font-size="5.18" text-anchor="middle" fill="#1a1a1a" font-weight="normal" stroke="#1a1a1a" stroke-width="0.10" textLength="5.88" lengthAdjust="spacingAndGlyphs" >0.4</text>
<text x="544.20" y="151.60" font-size="5.18" text-anchor="middle" fill="#1a1a1a" font-weight="normal" stroke="#1a1a1a" stroke-width="0.10" textLength="5.88" lengthAdjust="spacingAndGlyphs" >0.6</text>
<text x="479.40" y="148.08" font-size="5.18" text-anchor="end" fill="#1a1a1a" font-weight="normal" stroke="#1a1a1a" stroke-width="0.10" textLength="2.35" lengthAdjust="spacingAndGlyphs" >0</text>
<text x="479.40" y="139.16" font-size="5.18" text-anchor="end" fill="#1a1a1a" font-weight="normal" stroke="#1a1a1a" stroke-width="0.10" textLength="4.71" lengthAdjust="spacingAndGlyphs" >20</text>
<text x="479.40" y="130.25" font-size="5.18" text-anchor="end" fill="#1a1a1a" font-weight="normal" stroke="#1a1a1a" stroke-width="0.10" textLength="4.71" lengthAdjust="spacingAndGlyphs" >40</text>
<text x="479.40" y="121.33" font-size="5.18" text-anchor="end" fill="#1a1a1a" font-weight="normal" stroke="#1a1a1a" stroke-width="0.10" textLength="4.71" lengthAdjust="spacingAndGlyphs" >60</text>
<text x="479.40" y="112.42" font-size="5.18" text-anchor="end" fill="#1a1a1a" font-weight="normal" stroke="#1a1a1a" stroke-width="0.10" textLength="4.71" lengthAdjust="spacingAndGlyphs" >80</text>
<text x="479.40" y="103.50" font-size="5.18" text-anchor="end" fill="#1a1a1a" font-weight="normal" stroke="#1a1a1a" stroke-width="0.10" textLength="7.06" lengthAdjust="spacingAndGlyphs" >100</text>
<text x="479.40" y="94.59" font-size="5.18" text-anchor="end" fill="#1a1a1a" font-weight="normal" stroke="#1a1a1a" stroke-width="0.10" textLength="7.06" lengthAdjust="spacingAndGlyphs" >120</text>
<text x="479.40" y="85.68" font-size="5.18" text-anchor="end" fill="#1a1a1a" font-weight="normal" stroke="#1a1a1a" stroke-width="0.10" textLength="7.06" lengthAdjust="spacingAndGlyphs" >140</text>
<text x="513.05" y="156.50" font-size="4.94" text-anchor="middle" fill="#1a1a1a" font-weight="normal" stroke="#1a1a1a" stroke-width="0.04" textLength="7.27" lengthAdjust="spacingAndGlyphs" >CCI</text>
<text x="470.60" y="115.10" font-size="4.41" text-anchor="middle" fill="#1a1a1a" font-weight="normal" stroke="#1a1a1a" stroke-width="0.04" textLength="24.38" lengthAdjust="spacingAndGlyphs" transform="rotate(-90 470.60 115.10)">Hue (VN05)</text>
<text x="484.80" y="91.70" font-size="5.10" text-anchor="start" fill="#000" font-weight="bold" stroke="#000" stroke-width="0.18" textLength="19.48" lengthAdjust="spacingAndGlyphs" >Flooded</text>
<path d="M36.35 167.25V299.25M55.99 167.25V299.25M75.64 167.25V299.25M95.28 167.25V299.25M114.93 167.25V299.25M134.57 167.25V299.25M154.22 167.25V299.25M173.86 167.25V299.25M193.51 167.25V299.25M213.15 167.25V299.25M36.35 299.25H213.15M36.35 280.39H213.15M36.35 261.54H213.15M36.35 242.68H213.15M36.35 223.82H213.15M36.35 204.96H213.15M36.35 186.11H213.15M36.35 167.25H213.15" stroke="#ebebeb" stroke-width="0.6" fill="none"/>
<path d="M75.6 235.5h0M88.9 226.8h0M81.8 230.6h0M78.9 227.5h0M76.8 232.8h0M65.0 240.9h0M94.5 222.8h0M71.0 235.7h0M68.7 241.8h0M82.7 227.0h0M70.1 234.3h0M92.5 222.1h0M91.5 225.7h0M84.6 230.3h0M77.1 231.0h0M68.6 238.8h0M70.7 239.7h0M67.3 242.6h0M68.1 241.2h0M87.0 229.1h0M69.3 236.1h0M68.1 239.7h0M83.0 229.4h0M79.4 230.6h0M78.1 232.4h0M79.0 233.4h0M66.6 238.6h0M83.0 223.9h0M67.5 243.6h0M81.6 227.4h0M68.8 238.6h0M91.6 224.4h0M76.0 233.3h0M89.5 224.8h0M64.5 242.2h0M93.2 218.7h0M75.4 233.8h0M95.2 220.8h0M90.9 227.5h0M70.8 234.4h0M67.3 240.2h0M71.8 239.4h0M75.3 234.2h0M73.8 232.4h0M94.1 220.4h0M81.8 231.7h0M87.6 230.1h0M81.6 230.2h0M81.5 230.8h0M68.0 237.5h0M82.3 227.0h0M91.3 219.7h0M76.7 231.1h0M91.3 222.1h0M78.8 229.3h0M83.0 225.1h0M64.8 246.1h0M86.2 227.6h0M88.9 227.3h0M88.6 228.4h0M91.6 224.5h0M77.5 232.1h0M93.9 224.9h0M73.9 236.4h0M89.3 226.0h0M83.1 227.6h0M95.1 221.2h0M79.7 231.1h0M81.2 230.5h0M73.4 236.7h0M76.4 234.5h0M94.8 223.4h0M87.3 222.9h0M84.2 228.6h0M94.7 220.2h0M84.5 233.0h0M68.3 239.0h0M65.9 237.6h0M64.6 242.0h0M92.7 222.9h0M91.7 224.3h0M92.5 223.9h0M67.3 240.9h0M89.3 222.4h0M75.5 232.4h0M68.6 236.6h0M75.9 238.6h0M67.3 244.5h0M72.4 238.1h0M68.6 242.7h0M77.6 229.9h0M73.2 234.6h0M79.1 231.6h0M67.8 240.2h0M89.8 223.4h0M90.2 225.0h0M66.7 241.8h0M92.1 225.2h0M66.3 241.3h0M66.7 242.0h0M77.0 229.7h0M94.3 220.2h0M74.4 233.1h0M82.4 229.1h0M74.5 237.7h0M93.5 221.4h0M74.8 232.5h0M75.8 232.8h0M84.2 226.5h0M72.8 234.2h0M90.9 242.1h0M88.3 253.5h0M89.3 251.6h0M92.4 249.6h0M82.7 244.5h0M82.4 246.7h0M92.9 242.3h0M90.3 250.8h0M85.5 253.4h0M89.0 243.8h0M89.5 241.3h0M82.0 243.2h0M91.8 251.8h0M82.4 248.1h0M114.5 207.0h0M97.3 219.5h0M94.5 219.8h0M104.7 214.0h0M95.3 221.8h0M91.9 223.0h0M92.6 222.4h0M103.4 213.2h0M91.4 221.2h0M112.9 208.5h0M103.0 214.2h0M108.4 210.1h0M121.1 204.6h0M115.7 204.5h0M115.9 203.7h0M99.9 216.4h0M102.4 216.6h0M102.9 214.1h0M102.4 216.1h0M114.9 210.3h0M112.9 208.1h0M103.4 213.1h0M111.3 208.9h0M117.8 205.0h0M107.1 211.0h0M92.0 223.4h0M101.4 217.4h0M105.9 209.5h0M113.8 207.4h0M96.5 221.1h0M96.9 220.3h0M94.4 221.2h0M96.7 219.7h0M118.2 208.6h0M113.2 208.2h0M102.4 213.7h0M117.7 209.0h0M103.1 213.3h0M113.0 207.8h0M115.0 211.0h0M110.8 210.6h0M111.1 210.0h0M117.1 204.0h0M104.9 210.5h0M92.0 223.6h0M98.6 218.4h0M98.0 218.3h0M113.9 207.6h0M101.2 216.2h0M117.5 205.7h0" stroke="#0000ff" stroke-width="1.80" stroke-linecap="round" fill="none"/>
<path d="M38.5 264.3h0M82.4 231.2h0M52.3 257.7h0M52.0 262.0h0M67.6 244.9h0M44.1 265.1h0M73.4 239.5h0M40.9 263.9h0M41.1 267.1h0M49.3 261.0h0M39.4 264.0h0M65.6 246.1h0M65.8 246.4h0M43.8 263.0h0M43.9 265.1h0M65.5 248.1h0M72.9 240.6h0M58.2 249.7h0M69.2 244.4h0M55.4 256.5h0M76.3 237.0h0M61.6 253.5h0M58.3 261.0h0M72.2 245.3h0M47.8 259.8h0M76.4 237.7h0M58.0 260.1h0M54.1 258.9h0M55.0 259.0h0M66.7 248.5h0M68.7 245.1h0M47.8 263.1h0M62.2 252.6h0M64.8 245.8h0M62.3 250.0h0M43.7 264.6h0M45.3 258.8h0M71.4 239.5h0M44.2 264.9h0M46.9 268.6h0M60.6 250.8h0M74.9 241.5h0M51.1 260.1h0M65.3 250.3h0M43.7 264.5h0M39.9 267.9h0M81.2 234.3h0M70.4 242.9h0M73.7 238.9h0M64.2 248.5h0M51.1 257.2h0M55.1 256.8h0M57.7 253.2h0M36.6 270.3h0M65.1 248.4h0M48.7 266.9h0M63.3 254.3h0M83.9 232.2h0M73.2 237.5h0M77.1 235.3h0M57.9 254.1h0M55.6 259.6h0M82.9 227.2h0M85.2 231.7h0M46.6 261.5h0M62.1 253.6h0M80.6 232.1h0M73.3 239.4h0M69.7 244.7h0M69.1 243.9h0M55.9 255.1h0M69.9 241.3h0M38.2 265.8h0M39.7 265.1h0M37.0 265.9h0M40.6 268.9h0M73.4 238.0h0M77.4 235.7h0M46.7 261.3h0M73.6 242.9h0M44.0 261.4h0M48.5 259.2h0M76.3 236.7h0M79.5 237.2h0M48.6 264.8h0M38.2 270.2h0M79.9 234.0h0M83.2 230.6h0M59.3 254.4h0M37.6 267.5h0M55.9 251.9h0M39.8 262.9h0M45.2 264.8h0M79.4 231.4h0M46.1 262.2h0M79.2 232.7h0M36.4 266.9h0M84.4 229.3h0M50.3 260.9h0M41.0 266.7h0M40.8 270.3h0M53.8 257.8h0M65.7 250.1h0M46.9 262.0h0M43.7 265.4h0M50.8 262.6h0M44.1 264.4h0M72.5 241.2h0M37.3 274.7h0M82.1 233.5h0M81.7 254.2h0M85.9 250.0h0M81.2 253.9h0M86.7 251.4h0M81.1 245.7h0M91.0 246.9h0M89.0 254.2h0M80.8 253.0h0M171.1 195.0h0M167.7 196.0h0M98.3 219.7h0M118.4 208.9h0M90.9 226.0h0M140.6 202.3h0M96.7 220.4h0M170.5 193.5h0M126.5 206.7h0M103.0 216.2h0M143.1 201.9h0M135.3 205.8h0M172.3 194.0h0M143.0 201.2h0M138.3 204.7h0M116.8 210.6h0M127.3 205.5h0M94.7 221.7h0M102.7 216.4h0M142.0 202.7h0M99.5 219.3h0M166.2 196.3h0M116.3 211.9h0M170.4 193.4h0M98.3 221.2h0M135.5 203.6h0M101.8 218.3h0M98.1 221.6h0M100.3 219.0h0M112.7 213.8h0M156.0 198.7h0M161.6 197.8h0M112.1 213.8h0M90.3 225.6h0M154.1 199.3h0M138.2 205.7h0M110.4 215.2h0M120.7 208.7h0M126.8 207.4h0M139.7 205.4h0M138.3 203.1h0M96.6 221.1h0M131.9 207.2h0M173.0 193.8h0M101.1 219.2h0M132.5 206.3h0M111.5 212.8h0M120.2 209.0h0M138.8 204.3h0M153.5 198.9h0M128.3 206.4h0M118.8 209.5h0M165.6 197.3h0M173.9 192.9h0M153.5 200.8h0M124.4 208.3h0M137.6 203.8h0M130.6 206.9h0M173.9 193.6h0M158.5 196.8h0M143.3 202.9h0M172.7 194.9h0M89.4 225.3h0M120.9 207.9h0M107.1 213.4h0M135.4 205.1h0M128.7 207.2h0M94.1 222.9h0M104.2 217.4h0M136.7 205.4h0M128.0 207.5h0M124.4 210.0h0M141.1 205.5h0M149.6 199.8h0M101.6 217.9h0M95.1 223.1h0M159.6 196.0h0M167.6 197.1h0M148.8 201.1h0M115.4 211.3h0M123.8 209.0h0M95.8 221.5h0M134.1 205.4h0M130.2 207.2h0M137.0 205.1h0M164.7 195.6h0M151.8 198.7h0M107.9 213.4h0M89.4 227.1h0M141.7 202.4h0M92.2 224.0h0M129.8 205.1h0M97.8 221.9h0M132.6 204.6h0M171.1 194.0h0M130.7 205.9h0M124.7 209.1h0M152.5 198.6h0M111.3 212.5h0M121.6 208.6h0M173.0 192.5h0M99.9 219.6h0M151.9 200.1h0M86.4 229.7h0M167.3 195.2h0M87.4 227.3h0M136.1 203.5h0M87.9 228.4h0M148.2 200.7h0M170.4 194.0h0M166.3 195.4h0M157.4 197.7h0M146.7 201.7h0M113.2 211.2h0M98.5 221.4h0M143.9 200.6h0M123.4 209.3h0M126.5 207.4h0M92.0 224.6h0M95.7 222.4h0M121.4 207.4h0M112.5 213.7h0M165.7 197.3h0M112.4 212.0h0M149.7 199.8h0M141.0 204.0h0M131.5 206.2h0M129.8 206.8h0M165.2 196.9h0M110.5 213.9h0M144.6 203.0h0M153.8 200.4h0M161.1 196.6h0M172.1 195.6h0M142.7 202.3h0M156.7 197.1h0M155.9 198.3h0M108.1 215.8h0M157.1 197.8h0M101.3 217.5h0M115.6 211.0h0M87.5 229.7h0M153.0 200.6h0M163.6 196.4h0M96.6 221.5h0M112.4 212.3h0M134.6 204.7h0M92.9 224.5h0M125.2 206.8h0M114.1 211.2h0M87.1 228.4h0M141.4 202.8h0M130.7 206.0h0M156.8 197.8h0M116.6 210.3h0M117.7 210.2h0M144.6 202.6h0M166.4 196.8h0M107.0 214.5h0M113.6 211.6h0M98.3 219.0h0M156.4 200.1h0M95.5 221.4h0M156.3 197.4h0M117.5 210.4h0M88.7 228.8h0M94.9 222.6h0M124.9 206.9h0M170.0 193.1h0M109.5 213.7h0M133.3 206.0h0M102.4 217.0h0M168.5 194.0h0M119.1 211.1h0M117.9 209.6h0M154.1 197.7h0M133.0 204.6h0M102.2 215.7h0M118.1 209.6h0M157.7 196.4h0M89.7 226.4h0M137.2 203.3h0M95.5 221.3h0M116.4 211.0h0M110.2 211.1h0M158.7 197.1h0M171.0 196.2h0M153.3 198.0h0M142.5 203.1h0M118.7 208.7h0M172.3 194.5h0M164.2 197.6h0M110.2 213.9h0M130.0 206.0h0M124.6 206.8h0M92.9 223.9h0M151.0 198.6h0M160.0 199.1h0M102.1 219.0h0M102.8 216.7h0M172.3 195.7h0M161.7 197.1h0M91.3 224.4h0M159.4 197.9h0M106.5 214.8h0M171.4 193.0h0M112.6 212.3h0M145.7 201.2h0M97.2 220.1h0M108.9 212.8h0M147.7 200.8h0M141.7 201.9h0M160.5 196.7h0M157.3 198.3h0M135.4 205.8h0M98.6 220.8h0M144.9 200.4h0M154.8 198.7h0M143.6 203.6h0M105.0 215.0h0M95.4 221.3h0M97.4 220.8h0M87.2 229.3h0M96.7 222.0h0M168.0 195.8h0M93.8 222.9h0M109.8 214.0h0M151.9 201.2h0M105.9 214.7h0M113.3 212.6h0M137.7 196.9h0M149.7 189.7h0M152.6 178.4h0M147.7 194.3h0M134.7 191.5h0M148.7 186.0h0M116.4 189.8h0M151.4 190.0h0M134.8 186.8h0M126.5 204.6h0M149.8 188.0h0M137.2 175.7h0M136.0 190.8h0M124.1 194.1h0M106.1 202.9h0M117.0 193.3h0M127.6 191.4h0M106.2 199.6h0M110.1 197.4h0M139.6 189.7h0M119.4 206.3h0M131.0 191.0h0M151.7 188.4h0M147.9 183.8h0M132.3 192.1h0M136.3 198.5h0M121.0 198.3h0M114.6 204.4h0M107.9 212.5h0M133.7 201.0h0M108.7 202.8h0M125.6 204.8h0M105.6 195.4h0M140.1 198.2h0M118.1 204.0h0M120.0 203.0h0M140.7 175.7h0M111.3 194.8h0M105.0 200.1h0M120.0 202.6h0M119.7 192.7h0M149.8 178.4h0M111.5 202.9h0M114.9 204.3h0M135.1 192.8h0M125.2 200.5h0M106.2 204.5h0M128.1 192.6h0M143.4 189.3h0M149.0 191.1h0M118.2 198.8h0M122.5 192.6h0M119.7 204.1h0M139.6 177.8h0M138.2 196.7h0M141.6 190.6h0M147.0 189.0h0M151.9 189.9h0M143.9 193.8h0M111.6 204.9h0M107.8 197.2h0M108.0 195.8h0M104.3 209.9h0M151.1 183.2h0M142.0 187.7h0M108.5 208.4h0M148.1 183.1h0M122.9 199.1h0M136.2 196.3h0M126.9 196.5h0M145.6 186.5h0M132.2 198.9h0M115.0 193.7h0M137.4 186.5h0M108.2 211.2h0M134.5 198.4h0M128.7 192.9h0M118.8 193.9h0M125.0 202.4h0M147.0 181.1h0M140.1 175.7h0M106.1 210.3h0M120.5 203.4h0M145.8 182.4h0M140.6 183.3h0M146.9 188.1h0M118.2 197.6h0M151.0 183.8h0M153.9 190.9h0M106.8 208.8h0M144.0 182.8h0M119.6 202.7h0M113.0 204.6h0M141.9 189.4h0M135.3 199.1h0M126.3 204.4h0M146.8 193.2h0M148.3 175.7h0M145.5 179.9h0M143.1 187.1h0M102.6 206.1h0M106.0 212.3h0M123.8 200.4h0M118.5 198.7h0M107.6 209.6h0M139.2 191.2h0M137.1 194.0h0M150.5 193.2h0M153.2 175.7h0M147.8 184.8h0M135.7 191.7h0M136.3 186.1h0M132.5 196.5h0M133.6 188.1h0M130.1 197.2h0M134.9 195.5h0M129.1 198.5h0M133.7 194.2h0M141.3 184.5h0M143.3 189.0h0M135.7 194.7h0M142.8 188.8h0M141.0 184.8h0M127.3 198.6h0M135.3 193.0h0M130.6 182.2h0M129.5 198.6h0M135.0 195.5h0M135.7 184.3h0M142.5 188.5h0M127.5 198.5h0M141.0 191.1h0M128.6 190.7h0M142.6 189.6h0M133.7 194.4h0M137.2 190.6h0M143.3 188.1h0M144.3 176.7h0M131.8 196.5h0M133.2 196.0h0M127.9 189.6h0M131.9 190.7h0M130.5 195.3h0M132.0 187.2h0M143.9 190.6h0M137.2 193.2h0M145.7 190.5h0M145.6 191.8h0M139.3 193.6h0M136.0 184.5h0M133.6 188.5h0M141.9 193.7h0M137.7 188.7h0M138.2 189.3h0M136.9 187.9h0M143.8 170.6h0M134.6 178.6h0M118.9 188.0h0" stroke="#008000" stroke-width="1.80" stroke-linecap="round" fill="none"/>
<path d="M82.1 237.9h0M64.1 255.8h0M65.5 254.8h0M66.8 255.9h0M76.8 244.8h0M38.9 270.2h0M48.5 266.3h0M44.3 268.8h0M70.8 246.7h0M69.9 248.9h0M37.7 272.2h0M47.0 267.5h0M40.4 270.7h0M88.0 235.6h0M43.1 271.9h0M50.3 267.2h0M81.1 237.8h0M87.1 233.0h0M47.6 263.0h0M75.9 242.7h0M53.7 261.0h0M41.0 273.4h0M43.9 267.3h0M54.4 260.8h0M37.6 269.3h0M83.5 237.1h0M80.6 241.9h0M79.7 242.4h0M42.3 264.4h0M83.8 233.1h0M65.5 254.3h0M39.1 273.0h0M67.7 254.9h0M56.7 261.7h0M62.9 257.3h0M39.3 272.4h0M81.1 242.2h0M83.9 238.4h0M79.6 244.6h0M43.7 264.3h0M39.8 270.0h0M72.5 243.3h0M79.6 242.5h0M59.6 256.9h0M81.2 238.9h0M66.6 254.6h0M68.8 252.4h0M58.7 260.5h0M58.7 259.2h0M87.9 233.9h0M39.9 268.6h0M46.8 268.0h0M66.0 255.1h0M42.7 265.1h0M46.1 267.0h0M77.4 241.3h0M59.9 256.1h0M79.3 242.9h0M77.5 240.9h0M65.8 253.6h0M63.1 257.4h0M55.9 261.7h0M76.5 242.1h0M45.9 264.3h0M76.1 243.3h0M51.6 262.8h0M39.1 269.2h0M57.1 260.4h0M58.6 258.7h0M70.0 254.0h0M47.2 269.5h0M63.7 256.0h0M59.3 260.1h0M60.2 258.2h0M55.8 261.4h0M80.4 237.7h0M50.3 265.4h0M43.1 265.4h0M62.9 257.5h0M41.4 268.1h0M86.3 236.9h0M52.2 265.0h0M36.5 270.1h0M72.2 249.2h0M40.8 270.7h0M67.6 250.3h0M81.8 239.2h0M79.3 242.0h0M41.7 270.1h0M38.9 271.8h0M52.8 262.6h0M57.2 259.9h0M73.7 247.1h0M77.7 242.3h0M43.5 270.7h0M56.0 261.8h0M68.0 249.7h0M74.4 244.5h0M72.6 246.4h0M52.2 264.1h0M64.3 255.0h0M58.2 256.7h0M40.1 267.9h0M45.6 265.1h0M66.8 256.4h0M84.6 233.7h0M55.2 264.1h0M51.2 263.9h0M41.9 271.4h0M84.1 235.9h0M59.4 266.2h0M83.1 248.6h0M72.1 257.6h0M65.2 263.3h0M75.7 251.9h0M86.2 246.1h0M83.3 245.7h0M60.2 266.8h0M86.9 245.0h0M68.8 259.1h0M63.0 263.0h0M78.1 248.1h0M77.0 253.9h0M86.6 241.2h0M65.6 260.3h0M59.4 265.5h0M57.3 268.2h0M69.1 258.4h0M73.0 257.6h0M78.5 250.2h0M77.2 251.9h0M59.7 267.4h0M60.0 268.0h0M71.2 260.5h0M69.0 259.3h0M60.9 265.5h0M60.9 265.8h0M79.3 248.8h0M78.6 251.6h0M83.6 250.3h0M64.3 264.6h0M66.4 264.0h0M59.3 266.1h0M86.5 242.9h0M78.9 248.4h0M78.5 249.9h0M70.9 258.4h0M56.2 265.9h0M86.8 245.0h0M74.4 252.1h0M89.1 237.9h0M64.7 265.7h0M83.0 246.5h0M69.0 260.6h0M73.2 257.0h0M71.1 260.8h0M65.0 261.4h0M66.3 260.5h0M88.2 240.6h0M84.9 242.6h0M88.1 243.1h0M63.4 265.5h0M60.4 269.8h0M82.2 249.2h0M62.6 264.7h0M68.7 263.2h0M82.7 244.0h0M77.0 251.9h0M84.1 245.9h0M67.1 259.3h0M67.7 262.1h0M85.0 244.1h0M73.5 255.1h0M68.4 260.4h0M70.8 258.6h0M79.8 252.3h0M78.7 250.0h0M62.3 265.2h0M88.4 244.0h0M84.6 241.9h0M93.6 246.1h0M89.1 243.8h0M91.7 242.7h0M88.0 254.7h0M87.1 248.1h0M91.0 254.7h0M91.7 247.9h0M91.6 243.7h0M85.6 248.5h0M94.7 255.3h0M189.7 191.2h0M181.1 189.9h0M145.6 202.7h0M115.4 211.9h0M91.3 224.9h0M186.5 190.2h0M124.0 210.9h0M163.9 196.1h0M187.7 191.8h0M184.7 189.6h0M157.6 199.7h0M131.5 207.7h0M163.8 198.3h0M127.3 212.0h0M176.1 191.3h0M159.1 200.4h0M100.8 218.4h0M117.1 211.7h0M148.5 203.9h0M138.8 208.1h0M168.5 197.3h0M167.3 197.3h0M181.4 192.7h0M155.7 201.5h0M190.3 190.4h0M164.3 195.9h0M191.7 188.5h0M180.3 192.0h0M136.4 207.1h0M192.4 188.5h0M174.1 192.6h0M188.4 189.4h0M168.9 195.6h0M96.2 220.8h0M196.9 189.4h0M107.8 214.6h0M112.4 213.1h0M109.9 214.1h0M150.8 200.8h0M138.3 207.1h0M173.3 193.8h0M165.3 197.0h0M197.1 188.8h0M98.8 218.4h0M118.8 212.6h0M190.1 189.6h0M160.8 197.2h0M118.7 210.7h0M178.6 192.1h0M141.9 204.6h0M102.0 219.8h0M99.3 219.4h0M178.3 191.4h0M95.0 223.7h0M140.8 206.1h0M127.2 208.2h0M167.0 196.5h0M172.2 193.6h0M121.6 210.7h0M125.2 210.2h0M94.4 225.2h0M116.1 212.4h0M125.4 208.5h0M100.6 219.7h0M98.9 219.6h0M120.5 210.0h0M134.3 206.5h0M162.5 198.2h0M185.4 190.4h0M143.6 205.8h0M165.2 198.2h0M179.4 191.4h0M127.7 208.0h0M179.9 192.2h0M128.1 209.8h0M192.1 189.6h0M172.6 194.4h0M120.1 211.6h0M138.0 207.9h0M108.9 217.0h0M104.6 216.7h0M116.5 212.2h0M183.7 191.2h0M180.1 191.2h0M181.5 190.0h0M95.0 224.0h0M179.0 190.2h0M116.1 212.8h0M122.5 210.6h0M119.8 210.3h0M133.3 207.9h0M191.6 192.4h0M152.6 202.3h0M99.5 221.9h0M123.3 213.4h0M162.1 197.2h0M113.3 212.9h0M89.6 225.3h0M166.0 197.8h0M131.9 207.6h0M150.1 202.3h0M150.3 202.3h0M152.3 200.6h0M146.2 203.9h0M92.6 225.9h0M191.2 188.2h0M165.0 195.7h0M184.2 188.9h0M113.2 213.5h0M154.6 203.2h0M146.8 203.3h0M94.2 223.4h0M140.8 204.8h0M144.1 202.6h0M186.0 191.2h0M90.2 228.8h0M163.1 197.3h0M173.7 193.0h0M188.8 190.9h0M180.1 191.0h0M90.4 227.7h0M103.9 219.1h0M112.2 213.8h0M104.8 216.6h0M120.0 212.0h0M166.3 197.0h0M139.0 205.7h0M96.4 221.9h0M141.7 206.0h0M167.9 197.1h0M125.0 210.9h0M159.5 199.4h0M96.5 222.9h0M136.1 208.1h0M137.4 205.8h0M116.2 211.3h0M148.5 202.5h0M187.0 191.5h0M155.7 201.2h0M93.7 225.0h0M102.1 217.6h0M121.2 212.5h0M106.2 217.1h0M104.3 217.3h0M119.4 210.6h0M106.7 216.1h0M109.9 214.6h0M158.3 197.4h0M92.0 223.7h0M176.5 191.6h0M180.0 192.8h0M96.7 221.9h0M147.8 203.6h0M181.3 191.7h0M167.3 196.9h0M196.8 190.9h0M171.7 194.1h0M95.4 224.5h0M164.2 196.7h0M139.7 206.8h0M148.0 203.8h0M161.2 197.5h0M189.8 189.7h0M155.0 200.7h0M153.0 201.4h0M118.0 212.2h0M183.4 189.2h0M110.7 213.9h0M161.2 198.2h0M96.5 223.2h0M150.8 201.8h0M119.3 212.3h0M151.2 203.4h0M174.3 192.7h0M100.9 217.9h0M99.3 219.3h0M115.6 213.0h0M130.0 209.2h0M98.2 220.8h0M133.1 208.5h0M172.4 193.4h0M125.3 210.7h0M120.5 211.0h0M183.6 191.2h0M93.9 224.8h0M184.3 191.9h0M120.7 212.3h0M188.3 189.4h0M130.3 207.8h0M128.7 207.5h0M168.9 196.3h0M104.9 216.2h0M179.5 191.9h0M168.9 195.6h0M172.1 194.6h0M106.5 215.7h0M157.7 200.5h0M132.6 206.8h0M92.0 226.1h0M94.1 224.0h0M138.6 206.1h0M188.0 189.7h0M169.9 193.9h0M101.3 221.0h0M162.4 198.5h0M174.4 194.4h0M92.1 225.7h0M106.9 215.1h0M131.7 209.3h0M172.9 195.2h0M110.4 214.1h0M119.4 212.3h0M93.9 223.3h0M110.1 214.5h0M102.2 218.7h0M125.9 209.7h0M178.4 190.3h0M110.4 216.9h0M144.3 205.2h0M192.0 190.9h0M95.5 225.2h0M135.8 207.0h0M187.8 188.6h0M172.5 193.8h0M173.3 193.2h0M194.5 188.8h0M140.8 207.1h0M132.9 209.4h0M114.0 213.0h0M152.7 200.8h0M126.9 209.0h0M172.7 194.5h0M156.2 201.4h0M198.1 189.0h0M166.7 195.3h0M159.2 200.5h0M157.1 198.4h0M111.1 215.4h0M140.0 204.2h0M162.6 199.0h0M140.5 204.3h0M176.7 192.8h0M159.7 200.9h0M197.7 188.8h0M177.7 191.8h0M170.3 193.6h0M178.2 193.4h0M104.9 216.3h0M133.3 207.7h0M117.7 213.6h0M170.8 194.2h0M152.6 199.3h0M168.8 196.7h0M147.2 204.3h0M192.5 189.7h0M133.0 207.8h0M122.6 212.1h0M119.8 209.9h0M163.0 198.1h0M162.1 200.3h0M129.7 208.0h0M143.3 204.6h0M123.8 208.8h0M164.5 197.5h0M147.9 201.1h0M159.4 198.7h0M180.0 191.1h0M140.1 207.8h0M117.4 210.9h0M148.6 203.8h0M116.9 212.8h0M160.5 198.1h0M121.8 210.4h0M115.4 212.4h0M180.3 189.4h0M168.5 195.1h0M189.0 188.7h0M158.0 199.6h0M196.3 187.9h0M150.0 201.2h0M191.0 189.4h0M182.6 188.5h0M110.6 214.0h0M173.9 194.5h0M127.9 208.8h0M127.6 208.3h0M150.7 200.8h0M124.9 210.7h0M93.9 224.0h0M96.5 223.0h0M110.9 215.3h0M194.9 188.3h0M139.7 206.6h0M118.2 212.6h0M192.4 190.6h0M159.4 198.9h0M157.8 199.6h0M152.1 201.5h0M126.7 210.0h0M153.2 203.6h0M127.8 209.5h0M182.1 190.4h0M98.6 221.7h0M93.9 224.2h0M96.6 224.5h0M105.4 216.7h0M167.1 195.7h0M109.0 214.6h0M109.0 215.8h0M93.9 225.0h0M198.2 188.7h0M129.7 207.0h0M176.3 190.9h0M181.1 191.9h0M110.0 215.3h0M135.5 207.3h0M168.8 194.6h0M100.1 220.8h0M162.3 198.2h0M120.9 210.2h0M164.9 195.9h0M180.2 190.7h0M178.6 191.8h0M180.5 191.2h0M132.5 210.0h0M144.3 205.2h0M167.3 196.1h0M171.2 194.3h0M188.6 189.2h0M162.7 199.7h0M170.9 194.6h0M122.9 210.5h0M194.0 189.9h0M128.9 211.2h0M99.0 220.8h0M174.5 191.7h0M91.4 226.5h0M171.5 194.5h0M144.5 204.1h0M129.4 209.3h0M150.0 201.7h0M193.6 190.0h0M178.7 189.8h0M177.0 191.4h0M130.6 208.8h0M127.7 210.0h0M154.5 201.8h0M173.8 192.9h0M142.2 205.5h0M120.8 211.1h0M103.1 219.0h0M101.4 220.0h0M148.5 202.7h0M151.5 201.5h0M184.2 191.5h0M97.6 221.0h0M158.8 200.5h0M192.8 190.9h0M103.0 219.0h0M131.8 209.1h0M182.7 191.7h0M134.7 210.8h0M98.0 219.1h0M130.6 208.5h0M113.0 212.0h0M198.4 190.3h0M153.8 202.2h0M139.6 205.3h0M156.5 201.3h0M144.9 204.4h0M98.7 221.1h0M198.3 187.5h0M162.7 200.6h0M188.8 189.9h0M95.7 222.8h0M184.2 190.1h0M175.1 192.2h0M116.3 212.3h0M148.1 203.9h0M127.9 209.2h0M140.6 206.4h0M195.5 187.4h0M115.8 213.1h0M167.5 196.5h0M183.9 190.0h0M120.7 212.1h0M156.4 201.7h0M197.3 187.6h0M172.3 193.7h0M172.0 195.0h0M93.1 225.3h0M144.6 204.3h0M123.4 208.5h0M120.3 209.3h0M124.1 210.5h0M120.8 210.0h0M131.5 208.5h0M148.3 203.2h0M120.8 211.4h0M99.6 223.0h0" stroke="#ffa500" stroke-width="1.80" stroke-linecap="round" fill="none"/>
<path d="M70.5 266.9h0M82.3 265.5h0M78.6 263.5h0M82.7 264.7h0M41.1 270.7h0M80.5 264.9h0M55.2 269.0h0M46.5 272.0h0M55.7 267.9h0M40.4 270.9h0M50.7 269.3h0M64.2 268.4h0M36.8 270.3h0M44.2 270.6h0M44.6 270.4h0M70.8 265.5h0M76.3 266.2h0M62.7 269.1h0M80.3 263.3h0M42.1 271.5h0M81.2 266.4h0M76.2 265.1h0M43.5 270.7h0M54.1 271.1h0M52.2 267.9h0M51.3 268.6h0M78.0 263.7h0M46.6 271.1h0M52.2 269.8h0M45.3 270.5h0M66.8 266.9h0M63.7 269.4h0M77.7 263.2h0M75.6 266.7h0M81.5 264.0h0M57.8 267.4h0M50.3 271.6h0M69.3 265.4h0M45.1 268.2h0M45.9 271.3h0M76.6 264.5h0M72.6 266.3h0M43.2 268.8h0M42.6 271.7h0M82.4 263.6h0M82.4 265.1h0M81.0 264.4h0M74.1 264.3h0M54.5 268.9h0M70.4 266.4h0M41.7 271.3h0M62.6 267.0h0M51.8 269.8h0M68.9 267.3h0M40.5 270.2h0M42.4 270.7h0M43.1 269.3h0M37.9 272.4h0M69.6 267.1h0M85.4 264.9h0M79.4 264.3h0M57.7 269.0h0M78.9 265.3h0M59.7 265.4h0M59.4 267.1h0M40.9 271.3h0M62.2 267.8h0M69.8 265.2h0M50.2 267.4h0M37.0 272.1h0M36.4 270.7h0M83.7 263.3h0M49.2 271.3h0M80.0 264.8h0M55.3 266.0h0M52.2 267.6h0M78.4 265.4h0M43.9 267.8h0M62.1 266.6h0M55.4 266.6h0M84.0 267.3h0M66.5 268.1h0M71.7 267.4h0M40.5 269.0h0M54.8 268.3h0M55.7 269.0h0M37.4 271.6h0M74.9 267.3h0M82.5 265.2h0M75.2 267.1h0M66.8 245.5h0M65.8 249.4h0M45.8 262.6h0M49.2 259.7h0M67.6 244.4h0M64.6 249.4h0M42.6 265.8h0M50.5 260.7h0M52.1 264.3h0M64.8 250.6h0M43.4 264.9h0M62.1 251.4h0M59.0 254.7h0M75.8 240.8h0M81.2 231.8h0M66.9 243.4h0M68.6 244.6h0M40.9 270.9h0M53.7 256.9h0M45.4 264.0h0M37.6 269.4h0M45.3 264.5h0M67.4 244.9h0M82.8 227.8h0M81.8 231.2h0M58.6 253.2h0M68.3 247.2h0M69.6 242.4h0M74.0 237.8h0M49.6 259.6h0M41.2 263.4h0M62.0 253.1h0M40.6 267.1h0M81.7 234.2h0M44.4 262.7h0M59.3 252.5h0M83.7 226.5h0M59.5 252.7h0M37.3 270.7h0M69.4 245.6h0M82.7 265.3h0M78.0 263.7h0M82.8 265.1h0M92.6 263.7h0M83.1 265.9h0M84.2 263.5h0M83.8 267.0h0M85.2 264.5h0M81.7 265.5h0M91.0 263.6h0M78.7 263.8h0M85.8 263.1h0M86.8 264.2h0M85.7 266.7h0M89.9 264.6h0M81.1 267.5h0M89.5 264.3h0M81.5 264.7h0M86.4 263.7h0M84.3 264.1h0M85.1 263.2h0M88.2 263.0h0M84.7 262.7h0M85.3 265.6h0M85.4 262.9h0M83.2 264.2h0M86.1 266.2h0M81.8 264.2h0M80.5 264.6h0M80.8 266.4h0M92.5 267.2h0M80.4 265.7h0M83.2 267.4h0M81.0 267.3h0M85.5 266.4h0M81.2 264.1h0M87.2 263.6h0M93.0 265.5h0M78.6 264.7h0M91.1 264.1h0M84.9 267.8h0M87.8 263.8h0M85.0 265.7h0M91.1 263.6h0M80.5 262.9h0M84.8 266.9h0M81.1 263.6h0M77.7 264.2h0M72.7 262.3h0M80.6 261.2h0M84.3 261.6h0M82.1 265.2h0M87.4 266.2h0M84.5 264.7h0M88.0 265.0h0M83.7 265.1h0M79.9 262.4h0M80.7 264.0h0M86.4 263.1h0M81.0 269.8h0M91.3 264.4h0M84.6 264.4h0M78.4 262.7h0M86.3 264.9h0M88.0 266.6h0M84.6 265.1h0M82.9 264.1h0M87.7 263.2h0M88.7 266.1h0M87.7 264.3h0M80.0 263.5h0M79.4 266.9h0M89.9 264.2h0M86.5 265.8h0M87.3 267.2h0M83.2 265.9h0M91.4 265.3h0M88.1 266.5h0M90.6 265.6h0M86.0 263.2h0M79.2 265.1h0M85.4 264.5h0M85.4 262.1h0M83.2 270.3h0M82.8 265.7h0M84.1 263.4h0M83.9 265.0h0M86.9 264.0h0M80.5 266.8h0M88.5 264.3h0M81.5 266.2h0M79.6 263.7h0M84.4 263.5h0M89.2 267.5h0M86.6 260.4h0M83.4 266.4h0M83.0 266.0h0M87.8 266.6h0M83.4 267.7h0M90.1 264.8h0M86.7 264.9h0M87.6 265.7h0M82.0 262.5h0M80.8 267.7h0M85.9 264.4h0M88.9 264.5h0M99.9 265.0h0M80.4 263.4h0M85.9 264.0h0M96.5 265.5h0M84.7 265.0h0M82.0 264.5h0M85.0 265.9h0M80.1 264.0h0M85.8 264.0h0M83.6 262.4h0M84.9 265.4h0M91.9 263.3h0M85.0 263.9h0M89.0 265.5h0M94.7 263.4h0M76.9 268.1h0M85.8 266.1h0M81.8 264.6h0M82.9 264.9h0M80.6 267.0h0M83.1 264.9h0M87.1 261.0h0M88.7 264.6h0M83.9 265.7h0M85.1 264.4h0M94.3 266.0h0M84.8 265.6h0M87.5 264.8h0M82.5 263.7h0M83.1 264.1h0M78.8 262.4h0M88.6 265.7h0M84.7 268.4h0M89.3 265.4h0M82.7 261.5h0M89.3 265.8h0M83.7 263.9h0M82.2 265.3h0M93.4 264.1h0M85.8 264.7h0M88.8 266.9h0M84.5 264.4h0M83.7 265.1h0M86.4 264.2h0M81.8 264.7h0M88.5 261.3h0M86.8 268.2h0M89.0 263.8h0M91.6 264.6h0M94.1 263.4h0M85.4 265.7h0M94.2 262.6h0M92.8 264.8h0M86.6 267.1h0M81.7 267.0h0M90.9 264.1h0M85.1 264.8h0M91.1 266.3h0M83.4 263.9h0M87.4 264.8h0M89.9 262.3h0M87.8 264.5h0M89.3 266.2h0M77.1 266.3h0M57.4 239.4h0M71.5 224.4h0M52.6 247.9h0M51.5 246.2h0M72.8 223.4h0M40.1 267.0h0M47.5 254.3h0M52.9 244.8h0M43.1 266.5h0M52.4 246.2h0M51.3 245.7h0M68.3 225.8h0M49.2 251.3h0M48.2 256.2h0M47.7 256.8h0M43.1 262.7h0M55.0 243.2h0M67.1 228.8h0M42.4 264.5h0M45.2 257.8h0M71.2 223.6h0M45.2 261.1h0M49.6 253.7h0M71.8 224.1h0M69.0 227.0h0M54.1 244.0h0M63.4 231.1h0M57.1 239.3h0M66.4 228.2h0M53.2 246.2h0M61.4 233.2h0M41.3 266.1h0M92.0 214.2h0M91.9 212.1h0M98.6 208.0h0M100.5 207.4h0M95.7 208.6h0M90.5 214.3h0M94.8 210.8h0M94.8 210.7h0M92.4 213.7h0M95.5 210.1h0M97.9 208.9h0M85.7 216.7h0M87.4 216.2h0M100.0 208.4h0M95.3 298.8h0M94.6 222.1h0M134.2 202.0h0M104.6 213.9h0M91.3 223.7h0M153.0 196.4h0M121.3 207.9h0M97.2 221.5h0M136.9 200.7h0M137.2 203.0h0M153.8 197.5h0M119.7 206.9h0M118.3 208.0h0M98.6 217.9h0M146.0 199.5h0M148.8 197.2h0M127.6 202.3h0M169.1 194.5h0M100.1 218.1h0M136.4 202.6h0M136.8 202.1h0M99.8 218.7h0M172.7 192.7h0M151.3 196.5h0M165.2 194.3h0M115.6 208.6h0M116.2 210.0h0M157.0 195.4h0M89.6 226.4h0M164.2 193.7h0M102.5 215.9h0M165.6 196.2h0M155.9 196.0h0M149.7 199.1h0M152.5 197.3h0M159.7 194.4h0M153.4 194.8h0M157.3 195.3h0M137.2 201.4h0M141.8 199.9h0M126.3 205.6h0M109.2 214.2h0M142.5 199.4h0M96.7 220.2h0M168.0 194.1h0M150.2 197.4h0M135.0 202.1h0M157.2 195.6h0M106.4 212.8h0M103.1 215.8h0M168.8 192.9h0M155.5 196.4h0M131.2 204.1h0M97.2 221.0h0M148.1 199.1h0M169.9 196.1h0M91.0 225.9h0M158.4 195.8h0M157.2 194.9h0M166.8 195.1h0M171.1 193.9h0M93.9 222.7h0M143.0 200.0h0M131.7 205.4h0M105.1 214.9h0M122.8 204.6h0M114.6 208.9h0M162.3 195.6h0M134.9 202.4h0M117.3 207.6h0M139.4 201.3h0M121.2 206.5h0M136.8 201.8h0M151.5 198.1h0M167.9 194.0h0M106.6 214.7h0M94.5 222.1h0M139.3 200.9h0M164.5 195.1h0M118.4 207.6h0M157.4 195.5h0M165.7 194.4h0M128.8 205.0h0M104.8 215.3h0M105.6 214.0h0M107.7 213.0h0M133.4 202.1h0M96.5 222.3h0M166.1 194.1h0M99.3 218.9h0M125.3 206.1h0M166.4 195.5h0M96.5 218.5h0M141.9 199.7h0M143.5 199.8h0M141.7 200.0h0M135.0 204.0h0M99.8 218.3h0M156.6 195.6h0M89.5 225.9h0M170.0 195.0h0M158.3 195.9h0M160.6 193.6h0M166.2 193.4h0M111.5 210.9h0M116.4 208.4h0M112.6 208.3h0M103.6 214.9h0M139.2 201.7h0M145.8 200.6h0M91.5 224.3h0M142.5 200.2h0M158.1 197.3h0M169.9 194.2h0M169.2 194.0h0M156.9 196.1h0M119.4 209.7h0M151.5 198.5h0M135.0 203.7h0M94.0 221.3h0M119.4 207.8h0M156.2 196.9h0M89.7 225.2h0M103.5 217.2h0M145.5 199.7h0M142.7 199.7h0M159.9 196.3h0M92.5 224.6h0M157.6 197.3h0M94.5 222.9h0M172.4 192.7h0M131.6 203.4h0M128.3 203.9h0M110.3 212.5h0M93.1 220.9h0M166.3 196.0h0M156.2 196.9h0M103.0 218.1h0M137.2 201.5h0M101.6 216.7h0M104.4 213.0h0M98.2 219.9h0M163.7 195.2h0M141.0 203.9h0M90.4 227.4h0M94.7 222.0h0M99.7 219.1h0M133.9 202.5h0M115.9 210.3h0M93.8 222.4h0M129.9 204.1h0M138.2 203.2h0M91.6 223.8h0M143.2 199.0h0M158.7 195.5h0M97.4 219.3h0M96.0 220.4h0M98.5 219.5h0M108.4 212.2h0M159.9 193.7h0M117.7 209.4h0M101.1 217.0h0M154.8 196.7h0M143.2 200.0h0M150.8 198.0h0M169.7 194.3h0M160.4 195.2h0M150.3 198.3h0M104.2 214.8h0M166.8 196.3h0M150.7 196.9h0M118.2 208.8h0M164.9 195.2h0M104.3 214.0h0M119.2 207.0h0M125.6 205.1h0M172.3 192.9h0M105.9 213.8h0M171.6 194.5h0M132.4 202.9h0M111.2 211.2h0M148.9 197.6h0M167.7 194.3h0M96.3 221.0h0M172.6 194.1h0M158.9 194.2h0M95.1 222.3h0M165.7 194.0h0M120.3 207.8h0M109.8 213.3h0M123.7 206.5h0M121.9 208.2h0M142.2 200.6h0M149.7 198.0h0M134.9 203.5h0M157.4 196.1h0M122.7 206.5h0M99.4 218.5h0M105.6 215.3h0M138.4 201.4h0M115.0 210.4h0M158.2 196.5h0M112.1 211.3h0M138.8 201.7h0M97.0 219.5h0M157.5 195.6h0M135.3 203.0h0M111.4 209.5h0M147.5 197.5h0M129.2 206.5h0M164.7 196.0h0M151.9 198.2h0M170.0 192.7h0M168.2 195.2h0M97.5 220.0h0M111.8 211.5h0M100.9 216.4h0M116.5 209.4h0M141.4 200.1h0M103.5 215.7h0M119.7 206.3h0M97.2 219.6h0M90.9 224.2h0M158.4 195.9h0M93.2 223.2h0M90.9 223.9h0M140.2 199.1h0M169.5 194.0h0M152.4 196.6h0M104.9 215.5h0M167.8 192.7h0M89.9 226.6h0M163.9 194.3h0M125.9 205.1h0M101.8 217.5h0M103.4 216.7h0M168.9 194.1h0M95.5 220.4h0M112.6 212.1h0M161.3 195.5h0M134.6 205.2h0M164.2 194.9h0M104.2 216.2h0M173.8 193.7h0M133.4 203.1h0M125.1 206.4h0M89.6 225.1h0M119.3 206.6h0M167.3 193.1h0M95.7 221.3h0M118.5 208.4h0M107.0 212.8h0M109.2 211.5h0M121.1 207.6h0M132.4 203.5h0M144.1 199.9h0M94.1 221.7h0M101.5 217.5h0M173.6 195.4h0M172.4 192.9h0M148.0 197.6h0M162.3 194.8h0M96.5 219.8h0M148.0 198.5h0M143.0 201.2h0M123.2 206.1h0M112.8 211.2h0M92.8 224.6h0M160.4 194.2h0M112.3 211.0h0M130.0 206.9h0M136.3 201.6h0M95.2 221.5h0M114.5 210.4h0M128.9 205.0h0M99.3 218.1h0M164.9 194.0h0M107.1 212.8h0M149.3 196.9h0M111.2 212.1h0M131.4 202.2h0" stroke="#ff0000" stroke-width="1.80" stroke-linecap="round" fill="none"/>
<path d="M63.2 258.4h0M37.9 267.7h0M65.3 256.8h0M41.6 272.1h0M38.8 270.5h0M57.1 268.0h0M50.5 271.3h0M77.4 244.4h0M67.7 262.0h0M45.7 269.2h0M59.9 258.4h0M75.9 249.5h0M82.0 237.8h0M39.4 272.3h0M59.8 264.3h0M53.2 263.0h0M68.8 252.9h0M56.0 265.4h0M80.4 239.8h0M69.3 258.3h0M37.5 269.4h0M43.8 271.1h0M79.2 244.7h0M42.9 270.0h0M71.4 252.9h0M61.2 259.7h0M83.8 235.2h0M42.8 266.3h0M58.1 263.4h0M51.9 266.6h0M58.3 266.2h0M50.3 262.7h0M80.7 240.7h0M55.3 267.2h0M66.5 256.6h0M48.3 273.2h0M57.7 270.4h0M52.8 271.4h0M65.3 269.8h0M61.7 271.5h0M65.0 271.2h0M57.6 270.4h0M38.2 272.9h0M53.1 271.4h0M47.3 270.5h0M56.3 271.0h0M38.1 271.6h0M53.0 272.4h0M50.0 272.4h0M46.0 271.5h0M87.8 282.3h0M71.7 259.6h0M126.1 201.4h0M132.5 200.9h0M95.8 221.9h0M163.7 188.2h0M152.2 190.7h0M149.5 193.3h0M113.0 208.9h0M138.5 196.7h0M113.9 208.7h0M150.8 193.8h0M87.4 228.2h0M145.6 192.9h0M105.1 213.6h0M163.1 188.4h0M163.7 190.6h0M130.8 199.4h0M85.8 226.9h0M133.8 198.9h0M117.0 205.4h0M160.6 189.4h0M150.8 190.1h0M136.0 197.8h0M151.0 192.8h0M131.1 200.9h0M110.4 210.2h0M124.0 202.3h0M109.7 211.2h0M89.0 224.4h0M93.2 223.1h0M165.4 188.3h0M104.1 212.3h0M125.0 203.2h0M117.9 205.7h0M103.1 214.8h0M95.8 221.3h0M159.4 189.5h0M86.2 230.1h0M123.3 204.4h0M136.1 197.7h0M150.7 192.3h0M96.4 220.9h0M151.4 193.7h0M130.3 198.5h0M104.7 212.7h0M153.2 191.2h0M99.2 217.6h0M125.5 201.2h0M143.2 194.7h0M121.9 205.3h0M138.7 196.5h0M101.4 214.9h0M111.3 211.2h0M112.3 209.6h0M126.5 201.8h0M159.3 190.1h0M143.8 195.5h0M165.3 188.4h0M108.6 210.6h0M99.6 215.5h0M157.9 191.2h0M101.6 215.9h0M92.5 224.2h0M139.7 195.1h0M157.1 190.2h0M146.7 193.3h0M149.0 192.7h0M164.8 186.9h0M131.8 199.9h0M162.5 189.0h0M108.2 210.7h0M111.6 210.5h0M91.2 225.7h0M115.1 206.6h0M138.9 196.3h0M140.5 195.1h0M146.6 194.0h0M117.5 206.4h0M117.9 206.2h0M144.3 194.5h0M94.9 221.6h0M155.1 191.6h0M108.2 209.9h0M101.0 215.2h0M121.9 204.0h0M153.7 190.0h0M143.3 195.5h0M99.0 216.9h0M97.6 218.0h0M136.1 197.8h0M107.1 210.1h0M126.6 203.0h0M146.3 194.1h0M115.0 208.0h0M114.8 206.1h0M99.7 217.0h0M123.9 203.9h0M102.8 215.0h0M114.5 208.5h0M158.8 189.1h0M151.9 193.0h0M97.9 219.6h0M128.0 200.8h0M158.3 190.8h0M152.1 191.9h0M141.8 195.4h0M135.5 198.4h0M116.3 208.3h0M134.5 200.4h0M133.9 198.5h0M151.3 192.8h0M147.9 193.0h0M152.3 191.9h0M93.5 222.4h0M164.6 189.2h0M143.9 194.0h0M154.3 194.7h0M114.6 209.5h0M163.9 188.5h0M149.4 193.2h0M112.1 210.0h0M88.4 226.8h0M114.9 206.8h0M140.9 195.4h0M153.4 191.7h0M120.2 206.6h0M86.0 227.1h0M119.6 205.8h0M115.5 206.7h0M146.6 193.5h0M93.8 223.8h0M100.3 218.3h0M133.1 200.5h0M138.4 197.7h0M90.5 224.0h0M105.8 211.4h0M147.1 193.6h0M107.9 211.6h0M113.7 209.0h0M162.5 187.8h0M111.4 209.5h0M116.9 207.4h0M156.1 190.9h0M127.4 201.0h0M158.6 190.7h0M99.2 218.3h0M129.9 202.0h0M123.2 203.0h0M145.3 195.2h0M138.1 196.1h0M148.4 193.3h0M91.7 223.6h0M160.6 190.5h0M94.3 221.3h0M108.9 212.1h0M104.9 213.0h0M150.4 191.2h0M105.3 210.6h0M105.5 213.9h0M149.2 192.7h0M89.1 225.7h0M106.5 212.6h0M103.0 213.9h0M156.4 192.1h0M158.3 189.8h0M126.5 202.9h0M150.3 191.4h0M135.8 197.4h0M152.9 189.4h0M90.1 223.7h0M111.0 209.5h0M132.7 200.5h0M96.9 222.1h0M85.7 228.1h0M130.3 200.6h0M161.8 188.5h0M114.9 208.5h0M103.3 214.3h0M115.8 207.8h0M110.4 209.7h0M120.2 204.5h0M148.0 195.0h0M128.4 201.1h0M152.7 190.9h0M111.1 209.3h0M164.8 187.5h0M111.3 210.4h0M123.6 205.0h0M141.2 196.6h0M153.3 193.0h0M145.5 192.7h0M130.6 200.0h0M146.4 193.1h0M105.0 211.4h0M100.5 216.5h0M119.0 207.5h0M94.9 223.6h0M148.5 192.7h0M150.6 191.8h0M150.4 193.9h0M101.1 215.8h0M156.8 190.1h0M88.6 226.0h0M124.7 204.1h0M106.3 211.1h0M160.2 190.9h0M101.8 215.2h0M123.0 205.0h0M152.4 193.0h0M150.8 191.8h0M116.8 207.6h0M158.1 192.0h0M150.3 192.9h0M126.8 202.0h0M151.8 193.5h0M156.0 190.6h0M164.3 188.3h0M129.8 200.3h0M113.9 206.5h0M119.6 205.7h0M138.8 195.2h0M92.9 223.0h0M96.6 221.3h0M122.6 205.1h0M134.1 200.2h0M154.3 193.6h0M95.4 220.6h0M141.5 197.4h0M143.2 195.5h0M105.8 212.6h0M147.9 193.9h0M86.4 227.0h0M147.9 194.9h0M107.6 212.6h0M136.5 196.4h0M99.2 216.9h0M156.0 191.1h0M96.2 221.4h0M127.9 202.2h0M110.5 209.3h0M119.5 203.4h0M128.3 201.9h0M143.4 195.3h0M140.4 197.1h0M93.4 221.5h0M147.0 193.9h0M125.8 201.9h0M161.8 190.3h0M89.1 224.6h0M149.8 192.5h0M114.4 206.9h0M124.0 203.5h0M101.4 216.7h0M87.1 227.0h0M86.3 227.7h0M111.2 208.4h0M160.2 188.7h0M131.4 201.1h0M156.3 192.8h0M103.2 213.4h0M98.6 218.8h0M126.0 202.7h0M151.5 191.8h0M104.7 213.2h0M121.6 204.2h0M114.8 207.2h0M109.1 211.2h0M148.7 193.5h0M138.1 197.3h0M137.7 196.6h0M121.9 204.7h0M149.3 191.7h0M157.4 190.2h0M93.5 222.5h0M136.2 196.6h0M160.6 189.5h0M147.8 192.8h0M94.8 220.8h0M159.8 191.3h0M131.3 198.6h0M156.1 189.9h0M136.3 187.7h0M132.0 195.0h0M138.3 188.0h0M125.5 191.8h0M128.4 196.0h0M115.8 201.7h0M118.0 200.2h0M147.5 190.2h0M141.2 192.0h0M140.0 186.5h0M143.3 189.0h0M146.9 179.9h0M146.9 187.1h0M115.0 203.7h0M124.5 195.8h0M137.5 186.0h0M146.4 189.7h0M118.1 200.2h0M126.4 198.2h0M142.9 185.2h0M145.9 186.8h0M121.3 192.4h0M137.8 193.8h0M126.3 194.6h0M119.8 200.9h0" stroke="#800080" stroke-width="1.80" stroke-linecap="round" fill="none"/>
<rect x="36.35" y="167.25" width="176.80" height="132.00" fill="none" stroke="#8c8c8c" stroke-width="0.90"/>
<path d="M36.35 299.25v2.20M55.99 299.25v2.20M75.64 299.25v2.20M95.28 299.25v2.20M114.93 299.25v2.20M134.57 299.25v2.20M154.22 299.25v2.20M173.86 299.25v2.20M193.51 299.25v2.20M213.15 299.25v2.20M36.35 299.25h-2.20M36.35 280.39h-2.20M36.35 261.54h-2.20M36.35 242.68h-2.20M36.35 223.82h-2.20M36.35 204.96h-2.20M36.35 186.11h-2.20M36.35 167.25h-2.20" stroke="#8c8c8c" stroke-width="0.90" fill="none"/>
<text x="36.35" y="307.55" font-size="6.41" text-anchor="middle" fill="#1a1a1a" font-weight="normal" stroke="#1a1a1a" stroke-width="0.15" textLength="14.81" lengthAdjust="spacingAndGlyphs" >−0.3</text>
<text x="55.99" y="307.55" font-size="6.41" text-anchor="middle" fill="#1a1a1a" font-weight="normal" stroke="#1a1a1a" stroke-width="0.15" textLength="14.81" lengthAdjust="spacingAndGlyphs" >−0.2</text>
<text x="75.64" y="307.55" font-size="6.41" text-anchor="middle" fill="#1a1a1a" font-weight="normal" stroke="#1a1a1a" stroke-width="0.15" textLength="14.81" lengthAdjust="spacingAndGlyphs" >−0.1</text>
<text x="95.28" y="307.55" font-size="6.41" text-anchor="middle" fill="#1a1a1a" font-weight="normal" stroke="#1a1a1a" stroke-width="0.15" textLength="9.70" lengthAdjust="spacingAndGlyphs" >0.0</text>
<text x="114.93" y="307.55" font-size="6.41" text-anchor="middle" fill="#1a1a1a" font-weight="normal" stroke="#1a1a1a" stroke-width="0.15" textLength="9.70" lengthAdjust="spacingAndGlyphs" >0.1</text>
<text x="134.57" y="307.55" font-size="6.41" text-anchor="middle" fill="#1a1a1a" font-weight="normal" stroke="#1a1a1a" stroke-width="0.15" textLength="9.70" lengthAdjust="spacingAndGlyphs" >0.2</text>
<text x="154.22" y="307.55" font-size="6.41" text-anchor="middle" fill="#1a1a1a" font-weight="normal" stroke="#1a1a1a" stroke-width="0.15" textLength="9.70" lengthAdjust="spacingAndGlyphs" >0.3</text>
<text x="173.86" y="307.55" font-size="6.41" text-anchor="middle" fill="#1a1a1a" font-weight="normal" stroke="#1a1a1a" stroke-width="0.15" textLength="9.70" lengthAdjust="spacingAndGlyphs" >0.4</text>
<text x="193.51" y="307.55" font-size="6.41" text-anchor="middle" fill="#1a1a1a" font-weight="normal" stroke="#1a1a1a" stroke-width="0.15" textLength="9.70" lengthAdjust="spacingAndGlyphs" >0.5</text>
<text x="213.15" y="307.55" font-size="6.41" text-anchor="middle" fill="#1a1a1a" font-weight="normal" stroke="#1a1a1a" stroke-width="0.15" textLength="9.70" lengthAdjust="spacingAndGlyphs" >0.6</text>
<text x="33.15" y="301.45" font-size="6.41" text-anchor="end" fill="#1a1a1a" font-weight="normal" stroke="#1a1a1a" stroke-width="0.15" textLength="3.88" lengthAdjust="spacingAndGlyphs" >0</text>
<text x="33.15" y="282.59" font-size="6.41" text-anchor="end" fill="#1a1a1a" font-weight="normal" stroke="#1a1a1a" stroke-width="0.15" textLength="7.76" lengthAdjust="spacingAndGlyphs" >20</text>
<text x="33.15" y="263.73" font-size="6.41" text-anchor="end" fill="#1a1a1a" font-weight="normal" stroke="#1a1a1a" stroke-width="0.15" textLength="7.76" lengthAdjust="spacingAndGlyphs" >40</text>
<text x="33.15" y="244.87" font-size="6.41" text-anchor="end" fill="#1a1a1a" font-weight="normal" stroke="#1a1a1a" stroke-width="0.15" textLength="7.76" lengthAdjust="spacingAndGlyphs" >60</text>
<text x="33.15" y="226.02" font-size="6.41" text-anchor="end" fill="#1a1a1a" font-weight="normal" stroke="#1a1a1a" stroke-width="0.15" textLength="7.76" lengthAdjust="spacingAndGlyphs" >80</text>
<text x="33.15" y="207.16" font-size="6.41" text-anchor="end" fill="#1a1a1a" font-weight="normal" stroke="#1a1a1a" stroke-width="0.15" textLength="11.64" lengthAdjust="spacingAndGlyphs" >100</text>
<text x="33.15" y="188.30" font-size="6.41" text-anchor="end" fill="#1a1a1a" font-weight="normal" stroke="#1a1a1a" stroke-width="0.15" textLength="11.64" lengthAdjust="spacingAndGlyphs" >120</text>
<text x="33.15" y="169.45" font-size="6.41" text-anchor="end" fill="#1a1a1a" font-weight="normal" stroke="#1a1a1a" stroke-width="0.15" textLength="11.64" lengthAdjust="spacingAndGlyphs" >140</text>
<text x="124.75" y="315.40" font-size="7.04" text-anchor="middle" fill="#1a1a1a" font-weight="normal" stroke="#1a1a1a" stroke-width="0.15" textLength="11.33" lengthAdjust="spacingAndGlyphs" >CCI</text>
<text x="18.30" y="232.80" font-size="7.77" text-anchor="middle" fill="#1a1a1a" font-weight="normal" stroke="#1a1a1a" stroke-width="0.15" textLength="42.95" lengthAdjust="spacingAndGlyphs" transform="rotate(-90 18.3 232.80)">Hue (VN06)</text>
<text x="3.8" y="177.60" font-size="10" fill="#1a1a1a" stroke="#1a1a1a" stroke-width="0.25">(b)</text>
<rect x="168.5" y="241.80" width="41" height="53.7" rx="1.5" fill="#fff" fill-opacity="0.85" stroke="#e6e6e6" stroke-width="0.7"/>
<circle cx="178.7" cy="247.70" r="2.1" fill="#0000ff"/>
<text x="191.80" y="250.20" font-size="7.30" text-anchor="start" fill="#1a1a1a" font-weight="normal" stroke="#1a1a1a" stroke-width="0.15" textLength="13.05" lengthAdjust="spacingAndGlyphs" >TSE</text>
<circle cx="178.7" cy="258.00" r="2.1" fill="#008000"/>
<text x="191.80" y="260.50" font-size="7.30" text-anchor="start" fill="#1a1a1a" font-weight="normal" stroke="#1a1a1a" stroke-width="0.15" textLength="13.63" lengthAdjust="spacingAndGlyphs" >TGF</text>
<circle cx="178.7" cy="268.30" r="2.1" fill="#ffa500"/>
<text x="191.80" y="270.80" font-size="7.30" text-anchor="start" fill="#1a1a1a" font-weight="normal" stroke="#1a1a1a" stroke-width="0.15" textLength="14.80" lengthAdjust="spacingAndGlyphs" >MSE</text>
<circle cx="178.7" cy="278.60" r="2.1" fill="#ff0000"/>
<text x="191.80" y="281.10" font-size="7.30" text-anchor="start" fill="#1a1a1a" font-weight="normal" stroke="#1a1a1a" stroke-width="0.15" textLength="12.80" lengthAdjust="spacingAndGlyphs" >TKY</text>
<circle cx="178.7" cy="288.90" r="2.1" fill="#800080"/>
<text x="191.80" y="291.40" font-size="7.30" text-anchor="start" fill="#1a1a1a" font-weight="normal" stroke="#1a1a1a" stroke-width="0.15" textLength="13.78" lengthAdjust="spacingAndGlyphs" >FHK</text>
<path d="M241.95 167.30V229.70M255.86 167.30V229.70M269.78 167.30V229.70M283.69 167.30V229.70M297.60 167.30V229.70M234.30 229.70H297.60M234.30 220.79H297.60M234.30 211.87H297.60M234.30 202.96H297.60M234.30 194.04H297.60M234.30 185.13H297.60M234.30 176.21H297.60M234.30 167.30H297.60" stroke="#ececec" stroke-width="0.6" fill="none"/>
<path d="M262.9 189.5h0M257.2 193.4h0M260.1 189.7h0M265.3 188.5h0M259.9 190.9h0M262.9 188.5h0M259.1 192.1h0M260.4 191.1h0M262.3 189.9h0M258.4 192.1h0M263.1 190.0h0M262.6 189.6h0M258.2 192.7h0M258.2 192.8h0M262.6 188.8h0M263.1 190.4h0M261.8 189.5h0M258.4 192.4h0M259.9 191.3h0M264.2 189.2h0M261.8 190.1h0M265.2 187.7h0M260.8 191.5h0M262.9 189.2h0M256.8 194.6h0M263.8 189.6h0M257.1 193.9h0M260.5 191.1h0M265.0 187.8h0M258.0 193.0h0M260.5 190.7h0M260.2 191.2h0M258.9 191.0h0M264.8 189.6h0M263.5 190.3h0M256.1 193.9h0M260.4 192.3h0M265.4 187.9h0M257.6 192.6h0M256.0 194.4h0M261.0 191.2h0M257.3 192.8h0M258.3 192.0h0M265.4 188.2h0M263.5 188.8h0M265.0 188.7h0M260.0 191.1h0M258.3 191.5h0M260.3 190.4h0M258.4 192.9h0M258.4 192.8h0M264.6 189.1h0M261.1 190.5h0M260.6 190.6h0M260.1 192.0h0" stroke="#0000ff" stroke-width="1.00" stroke-linecap="round" fill="none"/>
<path d="M281.0 181.1h0M260.9 188.9h0M263.1 188.5h0M275.0 183.0h0M277.6 182.5h0M282.7 179.9h0M265.2 187.2h0M264.0 187.5h0M282.8 180.2h0M269.2 185.8h0M261.3 189.2h0M274.3 183.7h0M262.1 189.6h0M271.2 184.5h0M263.9 187.2h0M267.5 185.6h0M280.6 181.0h0M263.8 187.2h0M270.0 185.5h0M274.6 183.3h0M275.9 183.5h0M281.5 181.0h0M261.2 188.8h0M266.5 187.2h0M272.3 184.2h0M262.2 187.5h0M270.2 184.6h0M260.0 189.6h0M266.3 186.0h0M273.9 183.1h0M268.2 186.0h0M277.1 180.8h0M277.1 181.7h0M280.5 180.6h0M282.2 180.0h0M266.9 186.7h0M277.6 182.0h0M260.2 189.2h0M271.5 184.6h0M279.3 181.4h0M274.5 183.4h0M273.0 184.1h0M260.7 188.7h0M272.6 184.2h0M279.1 180.8h0M262.7 187.9h0M267.5 186.7h0M273.0 184.2h0M260.3 189.8h0M267.9 185.3h0M268.8 185.7h0M275.5 182.4h0M272.7 183.4h0M282.6 180.2h0M275.6 183.1h0M273.4 183.6h0M263.3 187.5h0M269.5 185.3h0M268.0 185.5h0M277.4 182.3h0M282.0 181.1h0M273.6 183.8h0M268.8 185.4h0M265.0 187.7h0M283.3 180.0h0M264.3 187.6h0M283.3 180.8h0M264.0 187.3h0M260.6 188.7h0M274.9 183.7h0M269.0 184.4h0M274.1 183.3h0M265.5 187.2h0M279.1 181.3h0M260.3 190.4h0M272.2 184.1h0M279.2 181.4h0M274.6 184.3h0M268.9 186.4h0M282.6 180.9h0M271.5 184.7h0M267.7 185.9h0M272.8 184.1h0M267.9 186.4h0M267.8 185.8h0M269.2 185.3h0M259.5 190.0h0M282.1 180.8h0M271.1 185.2h0M264.6 187.4h0M271.7 183.8h0M260.8 189.1h0M274.7 182.7h0M264.8 187.8h0M271.4 184.5h0M278.4 182.3h0M266.4 186.3h0M267.5 186.0h0M277.4 181.9h0M266.1 186.1h0M278.8 181.8h0M260.6 188.9h0M265.8 186.7h0M268.9 185.8h0M271.9 184.5h0M272.3 183.8h0M268.2 186.1h0M277.1 181.8h0M264.3 187.2h0M276.5 182.7h0M275.2 178.9h0M278.0 172.5h0M274.3 180.2h0M272.4 179.7h0M265.2 181.8h0M268.2 181.8h0M276.3 175.7h0M269.1 182.2h0M262.4 187.8h0M267.4 183.6h0M271.2 178.9h0M268.5 180.5h0M275.9 175.4h0M272.3 177.5h0M271.3 174.2h0M261.0 189.0h0M272.1 178.8h0M262.7 185.4h0M267.0 179.1h0M266.9 181.3h0M268.1 179.6h0M272.0 179.9h0M265.3 181.4h0M274.9 178.3h0M264.6 180.6h0M272.5 177.8h0M272.2 181.2h0M265.6 178.7h0M276.7 176.2h0M274.7 170.0h0M266.3 183.3h0M269.5 182.4h0M269.5 182.8h0M261.0 184.9h0M269.3 178.8h0M273.3 176.4h0M262.5 187.1h0M269.2 178.9h0M271.4 180.0h0M272.5 177.3h0M269.4 179.3h0M265.0 182.8h0M268.7 181.7h0M267.5 180.1h0M270.9 180.4h0M261.4 179.3h0M275.2 179.8h0M276.1 177.6h0M270.2 181.9h0M264.0 187.0h0M267.2 179.4h0M262.9 187.5h0M264.2 184.0h0M264.9 182.6h0M269.0 178.6h0M275.4 179.3h0M277.3 177.1h0M273.6 181.2h0M268.0 181.6h0M274.9 174.1h0M273.2 172.3h0M266.6 178.7h0M272.0 179.4h0M269.0 181.0h0M272.1 175.9h0M273.9 174.4h0M268.1 180.9h0M271.6 179.5h0M268.9 179.7h0M271.3 175.0h0M268.0 177.8h0M268.2 178.9h0M269.0 180.9h0M270.0 180.7h0M266.9 181.4h0M273.0 171.9h0M269.2 178.4h0M271.2 175.3h0M271.8 177.1h0M273.7 178.3h0M266.9 181.0h0M272.4 179.0h0M267.9 180.1h0M268.7 175.2h0M269.5 180.1h0M272.8 175.1h0M272.4 176.4h0M268.4 179.1h0M267.9 182.5h0M273.8 177.7h0M272.8 168.6h0M272.3 170.5h0M269.7 171.8h0" stroke="#008000" stroke-width="1.00" stroke-linecap="round" fill="none"/>
<path d="M277.1 181.5h0M265.5 185.6h0M277.3 182.4h0M273.3 183.1h0M263.2 187.3h0M274.5 183.4h0M274.7 182.3h0M289.3 178.5h0M287.9 178.2h0M291.3 177.1h0M280.5 180.8h0M274.7 182.9h0M279.0 182.0h0M260.3 189.0h0M267.7 185.7h0M289.5 178.6h0M262.4 188.2h0M260.8 188.9h0M265.7 186.5h0M285.8 178.6h0M278.4 181.8h0M289.7 178.7h0M289.0 178.0h0M277.3 181.5h0M275.7 182.7h0M264.9 186.9h0M286.2 178.6h0M282.8 179.3h0M260.9 189.3h0M281.8 179.3h0M263.0 187.7h0M270.7 183.8h0M270.8 185.1h0M278.7 182.0h0M262.7 187.6h0M265.2 186.1h0M271.4 184.2h0M279.0 181.3h0M282.6 179.6h0M268.6 185.4h0M260.0 188.5h0M277.9 181.9h0M263.3 187.0h0M274.9 183.3h0M278.8 181.6h0M287.1 178.8h0M285.4 179.0h0M266.0 186.6h0M266.9 186.8h0M288.6 177.6h0M283.5 179.1h0M287.6 178.0h0M277.5 180.9h0M266.5 187.1h0M269.7 184.9h0M291.1 177.6h0M289.2 177.4h0M283.9 179.4h0M283.7 179.4h0M268.9 185.9h0M273.5 183.2h0M268.1 184.7h0M277.6 182.4h0M260.6 188.7h0M285.8 178.6h0M263.5 187.6h0M282.1 180.9h0M277.7 181.5h0M288.1 179.0h0M268.8 184.9h0M272.3 184.7h0M260.8 188.2h0M269.4 184.6h0M265.0 186.9h0M275.5 183.4h0M286.9 178.5h0M265.5 186.5h0M278.7 182.1h0M264.6 186.9h0M263.0 187.1h0M286.1 178.3h0M286.5 178.0h0M287.3 179.1h0M280.0 181.4h0M261.4 188.4h0M276.8 182.4h0M286.0 178.2h0M287.0 179.0h0M274.6 182.4h0M283.4 178.8h0M286.3 178.2h0M277.2 182.3h0M280.7 181.4h0M276.0 183.3h0M276.5 182.0h0M281.0 180.6h0M285.1 178.0h0M282.9 179.5h0M265.9 187.0h0M268.7 184.9h0M281.6 180.3h0M283.0 179.5h0M285.6 178.4h0M289.7 178.6h0M263.8 187.7h0M268.9 184.7h0M270.7 185.5h0M271.7 184.9h0M281.3 181.0h0M287.9 178.9h0M266.2 186.5h0M275.4 183.1h0M279.0 181.9h0M263.0 187.9h0M276.9 182.2h0M265.2 187.7h0M262.0 188.3h0M262.0 188.1h0M273.2 184.6h0M275.5 182.3h0M265.3 186.5h0M283.6 179.4h0M275.5 182.6h0M271.0 184.5h0M279.9 181.1h0M269.3 185.4h0M270.7 185.4h0M262.0 187.9h0M271.1 184.6h0M279.0 181.9h0M289.3 177.7h0M277.4 181.4h0M265.6 187.1h0M281.2 179.6h0M283.9 178.6h0M277.8 181.5h0M284.7 179.0h0M262.2 187.1h0M292.2 177.6h0M290.1 177.5h0M269.9 185.3h0M266.1 186.9h0M275.4 182.6h0M290.9 177.0h0M267.5 186.5h0M290.0 177.9h0M284.0 179.4h0M275.2 183.4h0M261.6 188.4h0M291.2 177.1h0M285.5 178.1h0M268.7 185.2h0M275.0 183.0h0M275.7 182.4h0M290.3 178.2h0M274.7 183.0h0M283.7 179.5h0M274.1 183.2h0M291.0 178.5h0M276.8 182.1h0M264.6 186.9h0M279.3 181.1h0M290.9 177.6h0M290.5 177.1h0M281.4 180.5h0M280.7 181.4h0M280.9 180.0h0M281.5 179.9h0M281.1 180.7h0M283.3 178.9h0M278.8 181.0h0M286.4 179.2h0M284.0 179.5h0M265.3 187.2h0M269.4 184.4h0M285.1 179.8h0M287.9 178.7h0M275.9 182.5h0M279.1 180.8h0M275.8 182.2h0M284.7 178.7h0M280.3 180.5h0M283.5 178.8h0M282.0 179.8h0M289.7 178.0h0M287.5 178.2h0M262.8 187.3h0M281.1 180.2h0M291.7 177.4h0M288.8 178.5h0M271.5 184.4h0M272.2 183.8h0M289.4 178.5h0M287.2 178.7h0M270.9 184.5h0M273.9 183.1h0M264.3 187.0h0M272.7 184.0h0M266.6 186.1h0M268.5 185.7h0M268.1 185.9h0M285.8 179.6h0M282.7 179.8h0M273.0 182.9h0M285.4 179.1h0M274.1 183.6h0M270.0 184.8h0M262.2 187.6h0M266.5 185.1h0M277.9 182.1h0" stroke="#ffa500" stroke-width="1.00" stroke-linecap="round" fill="none"/>
<path d="M256.2 185.7h0M256.7 184.9h0M255.9 186.5h0M270.4 183.9h0M268.3 185.3h0M264.9 186.1h0M278.3 180.6h0M263.4 187.0h0M275.6 181.1h0M260.5 188.5h0M261.9 188.7h0M274.5 181.5h0M273.2 183.0h0M260.6 189.6h0M260.6 188.5h0M281.1 179.6h0M275.4 182.1h0M273.8 182.3h0M267.3 185.5h0M276.9 180.8h0M262.8 187.6h0M271.2 183.3h0M274.6 182.6h0M280.4 180.0h0M276.4 181.3h0M263.2 186.0h0M263.1 186.6h0M266.5 185.8h0M276.9 181.6h0M263.1 186.8h0M268.6 185.0h0M262.1 187.5h0M258.6 189.8h0M261.1 187.8h0M272.1 182.4h0M260.6 188.2h0M263.4 187.0h0M259.6 189.5h0M269.3 184.2h0M279.1 179.8h0M268.1 185.0h0M281.6 180.0h0M278.5 180.2h0M275.4 182.2h0M278.3 180.8h0M264.8 186.2h0M272.3 183.2h0M279.9 180.6h0M262.8 187.2h0M280.8 180.6h0M275.2 181.5h0M279.5 180.6h0M258.5 191.1h0M282.3 181.1h0M261.2 188.9h0M261.3 188.2h0M279.4 180.6h0M272.9 183.0h0M263.0 187.3h0M275.6 181.4h0M260.4 189.1h0M272.3 183.5h0M276.0 180.9h0M260.2 189.1h0M269.9 183.8h0M267.1 185.5h0M272.1 183.0h0M280.1 179.9h0M258.5 190.9h0M268.2 184.8h0M269.7 184.2h0M258.0 191.4h0M268.0 184.1h0M260.3 189.5h0M267.9 184.7h0M262.8 187.7h0M266.3 185.7h0M282.2 180.1h0M264.1 186.9h0M272.0 183.2h0M274.4 183.2h0M263.6 187.3h0M277.4 180.8h0M269.7 183.4h0M281.3 180.1h0M264.1 187.0h0M269.0 184.1h0M258.0 190.7h0M273.9 182.8h0M268.2 185.1h0M270.5 184.3h0M261.2 187.9h0M281.0 180.7h0M267.9 185.5h0M269.6 184.1h0M263.4 186.6h0M258.0 191.2h0M280.0 180.1h0M276.7 181.8h0M265.0 185.9h0M273.6 182.4h0M273.9 182.4h0M272.2 184.0h0M262.7 187.1h0M265.7 185.9h0M263.4 187.0h0M263.3 187.6h0M264.5 185.8h0M277.9 181.0h0M267.6 184.9h0M282.3 180.0h0M270.2 184.0h0M260.8 188.4h0M282.1 179.7h0M265.9 185.2h0M260.4 189.2h0M276.8 180.8h0M265.2 186.5h0M271.5 183.3h0M277.6 181.6h0M267.0 185.3h0M260.7 188.9h0M277.3 181.2h0M264.6 186.7h0M263.3 187.2h0M265.5 185.4h0M269.9 184.1h0M264.1 186.5h0M260.7 188.6h0M269.5 183.6h0M269.2 183.8h0M259.8 189.1h0M265.2 186.8h0M272.2 182.8h0M272.0 183.4h0M270.2 183.7h0M269.5 184.6h0M272.6 182.6h0M279.3 180.7h0M281.3 180.3h0M260.6 188.7h0M274.1 182.9h0M274.7 181.5h0M282.3 179.9h0M265.8 185.8h0M279.7 180.8h0M268.8 184.2h0M262.4 188.1h0M269.7 183.7h0M279.0 180.9h0M271.0 183.5h0M265.5 186.3h0M279.4 180.4h0M273.9 182.0h0M274.2 182.5h0M267.8 185.4h0M272.3 183.1h0M264.9 186.6h0M263.1 187.1h0M267.2 185.7h0M269.3 184.5h0M277.8 180.5h0M266.3 185.6h0M262.3 188.2h0M259.3 189.8h0M273.2 182.5h0M269.1 184.1h0M260.9 189.0h0M280.7 180.1h0M268.0 185.3h0M282.9 180.5h0M273.3 182.1h0M261.7 187.8h0" stroke="#ff0000" stroke-width="1.00" stroke-linecap="round" fill="none"/>
<path d="M277.1 178.2h0M275.2 179.5h0M277.2 178.1h0M268.7 183.5h0M265.0 184.6h0M275.9 179.9h0M280.3 177.5h0M277.1 178.5h0M265.8 183.7h0M269.1 182.4h0M271.4 181.4h0M267.3 183.2h0M263.4 185.5h0M274.4 179.6h0M271.8 181.1h0M260.1 188.1h0M266.8 184.3h0M260.7 187.9h0M263.5 186.2h0M280.6 177.0h0M268.7 183.0h0M280.0 177.0h0M263.0 185.4h0M260.1 188.3h0M272.2 181.4h0M265.3 184.5h0M277.5 178.6h0M276.7 178.7h0M264.5 184.9h0M260.8 187.6h0M266.0 184.1h0M268.1 183.8h0M277.9 178.3h0M272.6 180.9h0M280.4 177.3h0M279.7 179.0h0M261.7 187.7h0M261.9 187.3h0M270.3 182.4h0M270.7 181.3h0M277.5 178.1h0M266.6 183.6h0M277.0 178.8h0M260.6 188.3h0M279.8 177.1h0M280.3 177.9h0M277.1 177.8h0M274.0 179.6h0M265.4 184.8h0M280.2 176.9h0M267.4 182.8h0M267.3 184.4h0M267.5 183.3h0M271.4 181.2h0M265.9 184.4h0M268.9 181.6h0M275.4 178.7h0M280.8 176.2h0M260.6 187.5h0M273.0 180.4h0M280.7 177.7h0M280.6 177.1h0M269.2 182.0h0M276.3 179.0h0M271.8 181.1h0M277.0 178.2h0M266.3 184.0h0M260.2 187.3h0M260.9 188.0h0M277.9 178.0h0M265.0 184.7h0M269.0 181.2h0M263.7 185.8h0M276.0 179.3h0M270.1 181.6h0M275.3 179.5h0M277.5 177.7h0M275.9 178.7h0M270.0 181.6h0M268.7 182.6h0M279.9 178.8h0M273.4 180.8h0M277.0 178.9h0M260.3 188.7h0M276.6 178.4h0M270.0 180.9h0M275.1 179.7h0M275.4 179.8h0M267.4 183.3h0M273.3 179.4h0M268.9 182.6h0M278.6 178.5h0M273.0 180.2h0M265.7 185.1h0M279.0 178.5h0M261.1 187.5h0M273.3 180.8h0M274.5 179.8h0M265.6 184.6h0M278.2 178.8h0M271.6 180.7h0M273.9 179.0h0M263.2 185.8h0M268.0 183.4h0M265.3 184.9h0M270.3 181.3h0M275.1 179.6h0M274.8 179.8h0M261.7 187.5h0M279.9 177.6h0M264.8 184.9h0M269.4 182.3h0M274.5 179.4h0M268.9 182.1h0M272.3 180.0h0M275.0 179.4h0M272.7 180.3h0M274.0 179.7h0M263.1 186.3h0M265.6 184.0h0M276.5 179.7h0M261.7 186.9h0M276.0 179.3h0M273.8 179.9h0M270.5 180.8h0M267.1 183.0h0M267.4 182.5h0M268.8 183.9h0M260.5 187.6h0M278.4 178.2h0M264.0 184.9h0M261.7 187.5h0M271.4 180.8h0M261.1 187.9h0M275.5 179.5h0M279.3 178.5h0M260.4 188.1h0M274.7 179.9h0M279.0 178.2h0M262.1 186.0h0M260.7 188.3h0M262.4 186.1h0M265.9 184.4h0M278.4 178.3h0M272.8 180.4h0M269.2 182.5h0M269.4 180.9h0M272.4 181.1h0M266.2 184.3h0M267.1 183.6h0M269.1 181.8h0M280.8 177.0h0M272.2 180.5h0M261.9 187.2h0M279.0 177.9h0M275.0 178.9h0M260.6 187.3h0M269.7 182.4h0M279.4 178.9h0M279.3 177.3h0M266.6 183.7h0M270.6 181.2h0M260.3 188.7h0M273.3 180.0h0M266.0 184.0h0M269.8 181.2h0M272.0 179.6h0M280.8 177.2h0M279.1 177.8h0M275.1 179.4h0M260.3 188.1h0M269.2 183.4h0M264.3 185.4h0M279.0 178.1h0M278.9 177.1h0M261.2 187.1h0M271.9 181.1h0M272.5 180.9h0M271.2 181.5h0M277.6 179.0h0M271.3 177.2h0M267.1 181.0h0M269.1 180.5h0M262.9 182.5h0M272.8 179.1h0M276.1 176.8h0M264.2 183.7h0M273.6 176.8h0M264.2 181.9h0M276.6 177.3h0M268.6 179.1h0M275.2 176.8h0M266.6 180.9h0M275.8 177.1h0M271.9 176.4h0M276.3 176.1h0M271.8 176.5h0M266.2 181.4h0M264.9 183.5h0M263.2 181.5h0" stroke="#800080" stroke-width="1.00" stroke-linecap="round" fill="none"/>
<rect x="234.30" y="167.30" width="63.30" height="62.40" fill="none" stroke="#b0b0b0" stroke-width="0.80"/>
<path d="M241.95 229.70v1.30M255.86 229.70v1.30M269.78 229.70v1.30M283.69 229.70v1.30M297.60 229.70v1.30M234.30 229.70h-1.30M234.30 220.79h-1.30M234.30 211.87h-1.30M234.30 202.96h-1.30M234.30 194.04h-1.30M234.30 185.13h-1.30M234.30 176.21h-1.30M234.30 167.30h-1.30" stroke="#b0b0b0" stroke-width="0.80" fill="none"/>
<text x="241.95" y="235.00" font-size="5.18" text-anchor="middle" fill="#1a1a1a" font-weight="normal" stroke="#1a1a1a" stroke-width="0.10" textLength="8.98" lengthAdjust="spacingAndGlyphs" >−0.2</text>
<text x="255.86" y="235.00" font-size="5.18" text-anchor="middle" fill="#1a1a1a" font-weight="normal" stroke="#1a1a1a" stroke-width="0.10" textLength="5.88" lengthAdjust="spacingAndGlyphs" >0.0</text>
<text x="269.78" y="235.00" font-size="5.18" text-anchor="middle" fill="#1a1a1a" font-weight="normal" stroke="#1a1a1a" stroke-width="0.10" textLength="5.88" lengthAdjust="spacingAndGlyphs" >0.2</text>
<text x="283.69" y="235.00" font-size="5.18" text-anchor="middle" fill="#1a1a1a" font-weight="normal" stroke="#1a1a1a" stroke-width="0.10" textLength="5.88" lengthAdjust="spacingAndGlyphs" >0.4</text>
<text x="297.60" y="235.00" font-size="5.18" text-anchor="middle" fill="#1a1a1a" font-weight="normal" stroke="#1a1a1a" stroke-width="0.10" textLength="5.88" lengthAdjust="spacingAndGlyphs" >0.6</text>
<text x="232.80" y="231.48" font-size="5.18" text-anchor="end" fill="#1a1a1a" font-weight="normal" stroke="#1a1a1a" stroke-width="0.10" textLength="2.35" lengthAdjust="spacingAndGlyphs" >0</text>
<text x="232.80" y="222.56" font-size="5.18" text-anchor="end" fill="#1a1a1a" font-weight="normal" stroke="#1a1a1a" stroke-width="0.10" textLength="4.71" lengthAdjust="spacingAndGlyphs" >20</text>
<text x="232.80" y="213.65" font-size="5.18" text-anchor="end" fill="#1a1a1a" font-weight="normal" stroke="#1a1a1a" stroke-width="0.10" textLength="4.71" lengthAdjust="spacingAndGlyphs" >40</text>
<text x="232.80" y="204.73" font-size="5.18" text-anchor="end" fill="#1a1a1a" font-weight="normal" stroke="#1a1a1a" stroke-width="0.10" textLength="4.71" lengthAdjust="spacingAndGlyphs" >60</text>
<text x="232.80" y="195.82" font-size="5.18" text-anchor="end" fill="#1a1a1a" font-weight="normal" stroke="#1a1a1a" stroke-width="0.10" textLength="4.71" lengthAdjust="spacingAndGlyphs" >80</text>
<text x="232.80" y="186.90" font-size="5.18" text-anchor="end" fill="#1a1a1a" font-weight="normal" stroke="#1a1a1a" stroke-width="0.10" textLength="7.06" lengthAdjust="spacingAndGlyphs" >100</text>
<text x="232.80" y="177.99" font-size="5.18" text-anchor="end" fill="#1a1a1a" font-weight="normal" stroke="#1a1a1a" stroke-width="0.10" textLength="7.06" lengthAdjust="spacingAndGlyphs" >120</text>
<text x="232.80" y="169.08" font-size="5.18" text-anchor="end" fill="#1a1a1a" font-weight="normal" stroke="#1a1a1a" stroke-width="0.10" textLength="7.06" lengthAdjust="spacingAndGlyphs" >140</text>
<text x="266.45" y="239.90" font-size="4.94" text-anchor="middle" fill="#1a1a1a" font-weight="normal" stroke="#1a1a1a" stroke-width="0.04" textLength="7.27" lengthAdjust="spacingAndGlyphs" >CCI</text>
<text x="224.00" y="198.50" font-size="4.41" text-anchor="middle" fill="#1a1a1a" font-weight="normal" stroke="#1a1a1a" stroke-width="0.04" textLength="24.38" lengthAdjust="spacingAndGlyphs" transform="rotate(-90 224.00 198.50)">Hue (VN06)</text>
<text x="238.20" y="175.10" font-size="5.10" text-anchor="start" fill="#000" font-weight="bold" stroke="#000" stroke-width="0.18" textLength="26.59" lengthAdjust="spacingAndGlyphs" >Green Leaf</text>
<path d="M324.15 167.30V229.70M338.06 167.30V229.70M351.98 167.30V229.70M365.89 167.30V229.70M379.80 167.30V229.70M316.50 229.70H379.80M316.50 220.79H379.80M316.50 211.87H379.80M316.50 202.96H379.80M316.50 194.04H379.80M316.50 185.13H379.80M316.50 176.21H379.80M316.50 167.30H379.80" stroke="#ececec" stroke-width="0.6" fill="none"/>
<path d="M334.2 199.9h0M338.7 195.4h0M334.0 198.6h0M340.6 192.8h0M327.2 204.6h0M331.1 198.5h0M333.7 199.1h0M341.5 192.1h0M343.7 190.3h0M342.7 193.2h0M339.8 193.2h0M330.4 203.3h0M343.4 191.5h0M327.4 204.5h0M341.1 193.2h0M326.9 203.5h0M332.9 197.5h0M331.1 200.4h0M325.3 204.5h0M340.6 193.6h0M342.4 192.7h0M329.5 201.8h0M338.0 196.1h0M343.6 190.5h0M340.3 192.0h0M332.1 198.2h0M327.2 202.2h0M327.7 204.6h0M324.2 205.8h0M336.7 195.6h0M337.1 195.8h0M330.1 202.5h0M339.3 193.7h0M338.2 193.3h0M339.9 193.3h0M331.7 200.1h0M330.9 198.9h0M335.3 197.2h0M325.3 205.3h0M337.3 193.4h0M328.0 200.8h0M338.3 194.5h0M332.9 199.1h0M328.3 203.4h0M334.2 198.8h0M336.8 196.2h0M328.4 201.8h0M330.3 199.3h0M332.4 200.3h0M330.8 200.9h0M341.8 191.5h0M326.0 204.6h0M327.9 204.0h0M326.6 205.7h0M329.5 203.8h0M337.0 195.5h0M326.4 204.1h0M343.1 190.9h0M329.5 201.1h0M327.5 203.9h0M332.1 200.0h0M344.0 192.9h0M326.1 202.9h0M327.2 205.1h0M344.7 188.9h0M343.2 189.2h0M338.3 194.4h0M333.7 197.7h0M336.4 195.9h0M339.6 193.0h0M334.5 197.8h0M326.1 206.3h0M333.5 198.7h0M333.4 200.6h0M333.0 198.5h0M326.4 204.3h0M327.3 202.5h0M340.9 193.5h0M327.6 205.0h0M325.7 204.8h0M333.8 198.8h0M329.0 202.8h0M343.5 191.9h0M330.8 201.7h0M338.7 193.6h0M341.5 192.4h0M337.0 195.5h0M340.8 190.6h0M342.8 190.0h0M334.7 197.5h0M329.5 200.7h0M335.7 197.6h0M339.8 194.6h0M341.1 192.3h0M339.0 193.7h0M329.5 201.8h0M336.8 193.7h0M333.3 200.3h0M335.0 196.4h0M332.0 199.3h0M330.4 200.3h0M326.8 204.7h0M340.7 193.8h0M340.2 193.5h0M339.4 194.0h0M338.0 196.5h0M333.1 198.2h0M327.0 205.0h0M336.1 198.2h0M324.5 205.8h0M327.4 203.7h0M342.8 192.8h0M335.8 197.3h0M332.3 200.4h0M341.7 193.2h0M338.9 195.6h0M327.3 203.9h0M339.2 193.5h0M330.2 202.1h0M328.6 201.8h0" stroke="#0000ff" stroke-width="1.00" stroke-linecap="round" fill="none"/>
<path d="M329.5 206.5h0M320.7 212.8h0M323.2 212.0h0M331.6 204.6h0M331.0 204.8h0M321.1 213.6h0M328.0 206.5h0M324.6 210.5h0M324.1 211.5h0M325.6 210.1h0M334.1 200.8h0M320.0 211.6h0M320.5 213.7h0M320.6 212.5h0M320.8 213.5h0M326.7 210.1h0M324.5 210.8h0M323.7 210.8h0M334.1 200.0h0M324.9 211.4h0M326.4 210.4h0M323.5 213.7h0M324.7 212.1h0M321.0 212.1h0M329.5 206.0h0M333.4 200.9h0M323.4 210.4h0M329.9 206.4h0M334.3 201.2h0M325.9 208.0h0M333.8 204.2h0M322.3 214.2h0M330.8 205.1h0M334.1 201.6h0M322.0 214.3h0M323.0 212.1h0M325.0 211.7h0M324.9 210.1h0M325.4 208.4h0M329.6 205.5h0M330.5 205.8h0M332.8 209.1h0M332.7 210.1h0M330.0 208.1h0M331.4 211.3h0M328.6 207.4h0M329.5 211.2h0M332.0 209.9h0M330.2 205.3h0M333.9 209.1h0M331.4 207.0h0M330.6 210.5h0M344.2 190.2h0M357.8 181.9h0M347.9 188.5h0M358.2 181.3h0M344.2 190.2h0M341.7 191.0h0M358.7 180.6h0M351.8 185.3h0M357.3 182.3h0M342.9 190.1h0M350.3 186.7h0M354.0 184.2h0M341.1 191.5h0M341.8 191.9h0M345.8 188.8h0M341.0 191.8h0M347.9 187.1h0M351.9 185.2h0M355.7 183.1h0M357.3 182.8h0M344.1 189.9h0M339.0 193.1h0M340.3 191.9h0M355.0 184.0h0M346.2 188.8h0M353.8 183.7h0M345.1 189.4h0M358.8 181.8h0M347.4 187.7h0M344.6 189.4h0M340.3 192.3h0M338.5 193.2h0M354.7 183.9h0M346.8 188.8h0M358.1 181.6h0M352.9 185.3h0M347.7 187.0h0M344.4 189.5h0M341.8 191.3h0M345.8 189.8h0M346.7 188.5h0M357.2 181.7h0M353.9 184.1h0M343.5 190.3h0M345.0 188.9h0M341.3 191.5h0M352.9 184.1h0M350.5 185.6h0M351.1 186.3h0M338.5 193.2h0M352.1 184.7h0M343.3 190.2h0M356.9 182.2h0M343.5 190.2h0M350.2 186.5h0M339.3 193.3h0M355.1 183.5h0M353.3 184.6h0M350.9 186.3h0M347.2 188.0h0M350.0 182.1h0M350.3 184.0h0M351.7 184.8h0M348.5 182.0h0M347.4 181.6h0M349.9 184.6h0M350.3 186.1h0M346.0 180.5h0M347.5 183.8h0M341.8 184.2h0M343.7 186.3h0M349.8 186.2h0M350.2 181.1h0M349.3 182.0h0M349.9 184.4h0M342.5 183.9h0M345.8 186.0h0M348.0 186.3h0" stroke="#008000" stroke-width="1.00" stroke-linecap="round" fill="none"/>
<path d="M363.8 180.4h0M364.9 179.4h0M348.6 187.9h0M348.5 188.4h0M363.0 180.4h0M364.3 180.2h0M358.9 181.8h0M358.3 182.1h0M346.9 188.4h0M362.4 181.1h0M352.4 185.1h0M359.4 181.8h0M361.9 180.2h0M352.2 185.2h0M365.5 179.4h0M354.9 183.3h0M360.6 181.5h0M356.2 183.5h0M347.3 188.4h0M356.7 183.0h0M358.2 181.7h0M358.1 182.1h0M364.8 180.4h0M359.2 181.6h0M361.9 180.8h0M359.0 182.2h0M360.4 181.9h0M348.9 188.2h0M348.8 187.6h0M354.2 184.7h0M358.2 181.6h0M362.3 181.1h0M348.8 187.4h0M354.1 184.9h0M350.1 187.0h0M359.5 182.1h0M361.6 180.2h0M363.2 180.0h0M363.7 180.5h0M353.4 185.2h0M360.8 181.3h0M362.8 180.6h0M346.9 188.9h0M354.5 184.5h0M361.7 180.5h0M353.9 184.9h0M363.6 179.7h0M358.3 182.1h0M362.4 179.6h0M350.9 185.6h0M348.1 187.9h0M350.7 186.3h0M347.8 188.7h0M364.7 179.4h0M364.8 179.6h0M359.8 181.3h0M356.9 183.3h0M361.8 180.6h0M353.2 185.4h0M362.6 180.7h0M361.5 180.2h0M360.8 181.8h0M359.9 181.1h0M346.7 189.2h0M358.3 182.2h0M362.8 180.0h0M353.1 185.4h0M358.9 182.3h0M359.1 181.1h0M359.8 180.9h0M364.1 179.7h0M352.6 185.6h0M365.7 179.7h0M363.2 179.9h0M351.6 185.7h0M347.5 188.4h0M353.0 185.3h0M350.0 186.7h0M353.0 184.5h0M358.7 181.6h0M365.0 179.4h0M355.9 183.5h0M361.9 181.4h0M363.3 180.3h0M348.9 187.9h0M356.4 183.4h0M357.6 183.2h0M362.3 180.6h0M348.3 187.6h0M363.7 180.4h0" stroke="#ffa500" stroke-width="1.00" stroke-linecap="round" fill="none"/>
<path d="M318.7 214.6h0M319.6 214.7h0M319.2 214.3h0M317.5 216.0h0M317.4 216.5h0M318.4 216.1h0M318.7 215.5h0M318.3 216.3h0M319.1 215.5h0M319.9 214.8h0M328.1 196.4h0M320.3 211.7h0M324.4 203.1h0M323.8 205.7h0M326.8 199.6h0M324.0 204.2h0M324.7 203.2h0M326.8 199.3h0M328.0 196.7h0M325.8 201.1h0M325.3 201.5h0M326.6 198.8h0M325.1 202.7h0M321.0 210.5h0M322.2 207.9h0M325.4 201.3h0M327.7 198.0h0M322.8 206.2h0M326.7 199.0h0M327.5 196.6h0M321.4 209.9h0M328.2 196.2h0M324.5 203.2h0M324.5 203.9h0M325.0 202.3h0M324.1 204.3h0M335.4 189.7h0M337.6 188.8h0M335.7 190.1h0M335.1 190.9h0M334.6 190.9h0M335.9 189.3h0M335.8 190.0h0M334.8 190.9h0M336.3 189.6h0" stroke="#ff0000" stroke-width="1.00" stroke-linecap="round" fill="none"/>
<path d="M318.7 214.4h0M320.9 212.9h0M320.2 212.8h0M318.1 215.1h0M319.3 213.9h0M319.6 213.8h0M320.3 214.1h0M318.0 215.1h0M322.6 210.9h0M322.3 211.5h0M318.3 215.6h0M317.4 215.5h0M321.5 212.8h0M318.0 216.5h0M321.3 211.3h0M321.9 213.1h0M320.1 214.6h0M321.7 211.7h0M319.5 213.8h0M321.8 212.0h0M320.8 212.4h0M321.3 213.2h0M318.8 216.5h0M317.5 217.0h0M320.2 214.6h0M342.1 192.4h0M337.2 195.5h0M329.1 202.1h0M339.4 194.7h0M339.1 194.0h0M344.4 191.0h0M333.8 199.1h0M332.5 199.7h0M330.4 202.1h0M340.1 190.9h0M332.1 200.8h0M338.4 194.1h0M328.2 202.9h0M337.7 195.8h0M333.4 199.6h0M331.2 202.1h0M339.5 193.3h0M335.0 197.5h0M343.5 191.2h0M331.0 201.2h0M343.9 191.0h0M331.9 200.9h0M332.6 200.1h0M342.8 193.1h0M336.3 195.8h0M341.0 193.9h0M343.3 192.7h0M334.2 197.0h0M331.2 200.7h0M343.1 192.0h0M333.1 198.7h0M329.7 201.7h0M331.1 201.2h0M333.5 198.9h0M331.0 200.2h0" stroke="#800080" stroke-width="1.00" stroke-linecap="round" fill="none"/>
<rect x="316.50" y="167.30" width="63.30" height="62.40" fill="none" stroke="#b0b0b0" stroke-width="0.80"/>
<path d="M324.15 229.70v1.30M338.06 229.70v1.30M351.98 229.70v1.30M365.89 229.70v1.30M379.80 229.70v1.30M316.50 229.70h-1.30M316.50 220.79h-1.30M316.50 211.87h-1.30M316.50 202.96h-1.30M316.50 194.04h-1.30M316.50 185.13h-1.30M316.50 176.21h-1.30M316.50 167.30h-1.30" stroke="#b0b0b0" stroke-width="0.80" fill="none"/>
<text x="324.15" y="235.00" font-size="5.18" text-anchor="middle" fill="#1a1a1a" font-weight="normal" stroke="#1a1a1a" stroke-width="0.10" textLength="8.98" lengthAdjust="spacingAndGlyphs" >−0.2</text>
<text x="338.06" y="235.00" font-size="5.18" text-anchor="middle" fill="#1a1a1a" font-weight="normal" stroke="#1a1a1a" stroke-width="0.10" textLength="5.88" lengthAdjust="spacingAndGlyphs" >0.0</text>
<text x="351.98" y="235.00" font-size="5.18" text-anchor="middle" fill="#1a1a1a" font-weight="normal" stroke="#1a1a1a" stroke-width="0.10" textLength="5.88" lengthAdjust="spacingAndGlyphs" >0.2</text>
<text x="365.89" y="235.00" font-size="5.18" text-anchor="middle" fill="#1a1a1a" font-weight="normal" stroke="#1a1a1a" stroke-width="0.10" textLength="5.88" lengthAdjust="spacingAndGlyphs" >0.4</text>
<text x="379.80" y="235.00" font-size="5.18" text-anchor="middle" fill="#1a1a1a" font-weight="normal" stroke="#1a1a1a" stroke-width="0.10" textLength="5.88" lengthAdjust="spacingAndGlyphs" >0.6</text>
<text x="315.00" y="231.48" font-size="5.18" text-anchor="end" fill="#1a1a1a" font-weight="normal" stroke="#1a1a1a" stroke-width="0.10" textLength="2.35" lengthAdjust="spacingAndGlyphs" >0</text>
<text x="315.00" y="222.56" font-size="5.18" text-anchor="end" fill="#1a1a1a" font-weight="normal" stroke="#1a1a1a" stroke-width="0.10" textLength="4.71" lengthAdjust="spacingAndGlyphs" >20</text>
<text x="315.00" y="213.65" font-size="5.18" text-anchor="end" fill="#1a1a1a" font-weight="normal" stroke="#1a1a1a" stroke-width="0.10" textLength="4.71" lengthAdjust="spacingAndGlyphs" >40</text>
<text x="315.00" y="204.73" font-size="5.18" text-anchor="end" fill="#1a1a1a" font-weight="normal" stroke="#1a1a1a" stroke-width="0.10" textLength="4.71" lengthAdjust="spacingAndGlyphs" >60</text>
<text x="315.00" y="195.82" font-size="5.18" text-anchor="end" fill="#1a1a1a" font-weight="normal" stroke="#1a1a1a" stroke-width="0.10" textLength="4.71" lengthAdjust="spacingAndGlyphs" >80</text>
<text x="315.00" y="186.90" font-size="5.18" text-anchor="end" fill="#1a1a1a" font-weight="normal" stroke="#1a1a1a" stroke-width="0.10" textLength="7.06" lengthAdjust="spacingAndGlyphs" >100</text>
<text x="315.00" y="177.99" font-size="5.18" text-anchor="end" fill="#1a1a1a" font-weight="normal" stroke="#1a1a1a" stroke-width="0.10" textLength="7.06" lengthAdjust="spacingAndGlyphs" >120</text>
<text x="315.00" y="169.08" font-size="5.18" text-anchor="end" fill="#1a1a1a" font-weight="normal" stroke="#1a1a1a" stroke-width="0.10" textLength="7.06" lengthAdjust="spacingAndGlyphs" >140</text>
<text x="348.65" y="239.90" font-size="4.94" text-anchor="middle" fill="#1a1a1a" font-weight="normal" stroke="#1a1a1a" stroke-width="0.04" textLength="7.27" lengthAdjust="spacingAndGlyphs" >CCI</text>
<text x="306.20" y="198.50" font-size="4.41" text-anchor="middle" fill="#1a1a1a" font-weight="normal" stroke="#1a1a1a" stroke-width="0.04" textLength="24.38" lengthAdjust="spacingAndGlyphs" transform="rotate(-90 306.20 198.50)">Hue (VN06)</text>
<text x="320.40" y="175.10" font-size="5.10" text-anchor="start" fill="#000" font-weight="bold" stroke="#000" stroke-width="0.18" textLength="45.86" lengthAdjust="spacingAndGlyphs" >Autumn Coloration</text>
<path d="M406.35 167.30V229.70M420.26 167.30V229.70M434.18 167.30V229.70M448.09 167.30V229.70M462.00 167.30V229.70M398.70 229.70H462.00M398.70 220.79H462.00M398.70 211.87H462.00M398.70 202.96H462.00M398.70 194.04H462.00M398.70 185.13H462.00M398.70 176.21H462.00M398.70 167.30H462.00" stroke="#ececec" stroke-width="0.6" fill="none"/>
<path d="M416.1 197.6h0M416.8 196.3h0M417.1 195.4h0" stroke="#0000ff" stroke-width="1.00" stroke-linecap="round" fill="none"/>
<path d="M420.6 197.2h0M402.4 213.9h0M428.8 187.8h0M411.6 207.4h0M408.0 211.8h0M411.3 208.2h0M415.9 200.8h0M420.1 195.6h0M417.0 199.8h0M407.8 210.7h0M407.9 212.3h0M403.0 214.3h0M420.8 195.3h0M415.9 200.5h0M405.2 213.1h0M407.3 211.0h0M406.9 211.3h0M420.7 195.9h0M429.4 188.3h0M425.9 191.5h0M420.1 196.5h0M427.0 189.2h0M423.2 193.1h0M429.9 189.0h0M416.7 201.0h0M414.2 203.8h0M424.9 191.0h0M405.3 211.6h0M420.1 195.5h0M428.0 188.8h0M432.0 186.8h0M413.9 204.8h0M401.5 214.7h0M409.5 209.7h0M428.5 188.8h0M420.4 196.7h0M420.2 194.8h0M420.4 195.7h0M418.1 199.3h0M410.9 208.7h0M413.9 204.7h0M405.1 212.1h0M411.0 208.1h0M411.0 207.6h0M405.6 211.1h0M425.5 192.3h0M420.8 194.5h0M402.2 214.9h0M407.4 211.4h0M428.7 188.4h0M413.5 203.5h0M431.8 187.2h0M418.7 197.3h0M417.1 199.8h0M425.9 191.0h0M424.2 191.1h0M429.1 187.9h0M424.8 191.4h0M409.7 209.8h0M416.8 200.3h0M420.4 196.7h0M422.4 192.9h0M420.8 194.4h0M426.3 189.9h0M427.6 189.2h0M405.4 211.7h0M415.0 203.3h0M428.6 188.5h0M411.0 208.9h0M409.3 210.2h0M424.9 190.4h0M413.7 205.7h0M419.9 197.6h0M420.1 196.3h0M404.8 213.0h0M430.5 188.9h0M427.7 189.2h0M413.6 205.1h0M404.8 212.9h0M406.9 212.8h0M437.2 183.2h0M436.4 183.5h0M436.1 183.6h0M435.3 183.8h0M445.5 181.0h0M434.9 184.7h0M441.8 181.3h0M438.3 182.6h0M437.3 183.0h0M442.0 181.4h0M440.1 181.9h0M441.2 181.9h0M443.2 181.2h0M440.0 182.0h0M435.3 184.2h0M446.0 179.9h0M439.3 182.3h0M445.6 180.3h0M436.4 183.0h0M438.2 182.6h0M434.3 184.2h0M443.3 181.1h0M437.4 182.7h0M438.7 182.8h0M438.4 182.2h0M433.7 183.9h0M445.7 180.1h0M433.1 184.7h0M442.0 180.6h0M439.9 181.9h0M442.6 181.2h0M433.1 184.7h0M438.9 182.5h0M445.4 180.0h0M441.6 181.9h0M432.5 183.0h0M427.3 182.7h0M429.0 184.8h0M433.4 182.7h0M427.3 182.8h0M425.4 185.5h0M427.1 185.6h0M427.0 184.9h0M432.1 184.8h0M432.6 185.9h0M429.7 184.7h0M433.2 182.9h0" stroke="#008000" stroke-width="1.00" stroke-linecap="round" fill="none"/>
<path d="M419.9 193.6h0M407.8 207.8h0M420.7 194.1h0M427.2 185.2h0M411.7 207.5h0M420.7 192.0h0M424.8 188.3h0M423.7 191.6h0M412.2 203.3h0M425.2 188.1h0M416.2 198.7h0M424.5 189.6h0M422.1 191.4h0M408.4 208.8h0M411.5 206.2h0M423.1 190.2h0M408.4 210.0h0M406.5 210.6h0M423.6 187.5h0M418.8 196.2h0M415.8 198.7h0M425.1 188.7h0M425.4 190.3h0M414.2 201.4h0M413.5 203.0h0M421.8 190.6h0M411.3 205.1h0M411.4 205.9h0M411.6 205.9h0M425.4 187.5h0M407.3 208.5h0M411.6 205.4h0M423.6 186.8h0M411.1 206.9h0M427.0 187.9h0M407.8 210.4h0M425.2 188.8h0M416.7 197.0h0M416.9 197.3h0M407.2 210.1h0M422.9 190.3h0M423.0 188.2h0M417.4 193.8h0M423.4 190.6h0M424.6 187.9h0M421.3 192.3h0M415.1 199.3h0M424.1 189.8h0M414.5 203.1h0M406.5 211.5h0M419.4 191.9h0M418.2 195.2h0M419.8 192.2h0M418.6 194.7h0M410.7 206.7h0M417.2 198.1h0M407.2 210.5h0M421.1 191.9h0M419.4 193.8h0M417.2 197.9h0M425.5 189.3h0M410.3 208.2h0M423.7 188.8h0M413.5 205.0h0M427.4 185.8h0M424.7 189.8h0M408.4 209.2h0M422.3 190.6h0M422.4 189.2h0M420.7 192.6h0M427.7 187.5h0M424.4 188.1h0M416.4 197.7h0M422.9 189.8h0M421.8 191.5h0M426.1 188.4h0M413.1 202.3h0M426.3 190.1h0M419.2 194.8h0M418.2 195.6h0M419.4 195.8h0M412.7 203.7h0M419.3 192.8h0M412.0 204.7h0M416.1 200.2h0M428.0 187.6h0M424.0 188.9h0M424.7 189.6h0M414.1 203.3h0M417.4 196.4h0M422.6 189.5h0M419.2 193.6h0M415.0 199.0h0M409.0 207.6h0M407.4 211.9h0M415.7 200.1h0M425.8 189.2h0M419.0 193.0h0M414.9 199.7h0M427.9 187.2h0M413.9 200.5h0M426.3 188.3h0M425.9 187.7h0M416.1 199.8h0M414.0 202.0h0M414.7 199.4h0M421.9 191.8h0M415.7 199.3h0M427.3 186.5h0M427.2 188.8h0M419.5 193.6h0M419.3 196.6h0M408.2 212.9h0M406.8 212.2h0M421.2 190.2h0M407.9 208.1h0M418.7 194.5h0M410.5 206.7h0M425.6 189.0h0M420.7 192.8h0M415.0 200.2h0M415.2 199.2h0M426.3 186.4h0M411.7 206.6h0M419.4 193.7h0M427.5 186.6h0M413.0 204.0h0M410.2 206.8h0M420.2 191.8h0M428.6 188.0h0M412.0 204.3h0M427.4 185.9h0M413.1 203.4h0M420.4 193.4h0M415.9 197.4h0M407.3 209.2h0M426.7 187.0h0M413.0 202.7h0M416.3 199.8h0M424.3 188.5h0" stroke="#ffa500" stroke-width="1.00" stroke-linecap="round" fill="none"/>
<path d="M414.0 202.6h0M414.5 201.0h0M412.1 206.2h0M418.5 196.3h0M420.5 193.0h0M413.9 202.4h0M406.7 210.8h0M408.3 209.3h0M416.1 199.5h0M412.9 203.2h0M406.8 210.1h0M419.6 194.6h0M408.2 210.8h0M420.8 193.2h0M411.9 207.3h0M407.2 210.7h0M416.7 197.1h0M420.2 194.4h0M409.1 209.2h0M410.1 208.1h0M411.2 208.3h0M420.2 195.3h0M407.4 210.5h0M407.6 210.5h0M408.3 210.0h0M410.7 207.6h0M410.0 207.3h0M414.4 202.5h0M416.7 198.2h0M417.8 196.9h0M413.5 203.7h0M412.9 203.6h0M417.6 197.6h0M406.4 210.8h0M419.3 194.4h0M412.6 205.2h0M415.0 201.5h0M420.5 194.9h0M418.6 196.5h0M412.3 203.9h0" stroke="#ff0000" stroke-width="1.00" stroke-linecap="round" fill="none"/>
<path d="M416.5 199.4h0M413.6 203.2h0M412.4 205.4h0M409.9 209.5h0M412.5 204.8h0M412.7 204.4h0M407.3 209.7h0M409.7 209.2h0" stroke="#800080" stroke-width="1.00" stroke-linecap="round" fill="none"/>
<rect x="398.70" y="167.30" width="63.30" height="62.40" fill="none" stroke="#b0b0b0" stroke-width="0.80"/>
<path d="M406.35 229.70v1.30M420.26 229.70v1.30M434.18 229.70v1.30M448.09 229.70v1.30M462.00 229.70v1.30M398.70 229.70h-1.30M398.70 220.79h-1.30M398.70 211.87h-1.30M398.70 202.96h-1.30M398.70 194.04h-1.30M398.70 185.13h-1.30M398.70 176.21h-1.30M398.70 167.30h-1.30" stroke="#b0b0b0" stroke-width="0.80" fill="none"/>
<text x="406.35" y="235.00" font-size="5.18" text-anchor="middle" fill="#1a1a1a" font-weight="normal" stroke="#1a1a1a" stroke-width="0.10" textLength="8.98" lengthAdjust="spacingAndGlyphs" >−0.2</text>
<text x="420.26" y="235.00" font-size="5.18" text-anchor="middle" fill="#1a1a1a" font-weight="normal" stroke="#1a1a1a" stroke-width="0.10" textLength="5.88" lengthAdjust="spacingAndGlyphs" >0.0</text>
<text x="434.18" y="235.00" font-size="5.18" text-anchor="middle" fill="#1a1a1a" font-weight="normal" stroke="#1a1a1a" stroke-width="0.10" textLength="5.88" lengthAdjust="spacingAndGlyphs" >0.2</text>
<text x="448.09" y="235.00" font-size="5.18" text-anchor="middle" fill="#1a1a1a" font-weight="normal" stroke="#1a1a1a" stroke-width="0.10" textLength="5.88" lengthAdjust="spacingAndGlyphs" >0.4</text>
<text x="462.00" y="235.00" font-size="5.18" text-anchor="middle" fill="#1a1a1a" font-weight="normal" stroke="#1a1a1a" stroke-width="0.10" textLength="5.88" lengthAdjust="spacingAndGlyphs" >0.6</text>
<text x="397.20" y="231.48" font-size="5.18" text-anchor="end" fill="#1a1a1a" font-weight="normal" stroke="#1a1a1a" stroke-width="0.10" textLength="2.35" lengthAdjust="spacingAndGlyphs" >0</text>
<text x="397.20" y="222.56" font-size="5.18" text-anchor="end" fill="#1a1a1a" font-weight="normal" stroke="#1a1a1a" stroke-width="0.10" textLength="4.71" lengthAdjust="spacingAndGlyphs" >20</text>
<text x="397.20" y="213.65" font-size="5.18" text-anchor="end" fill="#1a1a1a" font-weight="normal" stroke="#1a1a1a" stroke-width="0.10" textLength="4.71" lengthAdjust="spacingAndGlyphs" >40</text>
<text x="397.20" y="204.73" font-size="5.18" text-anchor="end" fill="#1a1a1a" font-weight="normal" stroke="#1a1a1a" stroke-width="0.10" textLength="4.71" lengthAdjust="spacingAndGlyphs" >60</text>
<text x="397.20" y="195.82" font-size="5.18" text-anchor="end" fill="#1a1a1a" font-weight="normal" stroke="#1a1a1a" stroke-width="0.10" textLength="4.71" lengthAdjust="spacingAndGlyphs" >80</text>
<text x="397.20" y="186.90" font-size="5.18" text-anchor="end" fill="#1a1a1a" font-weight="normal" stroke="#1a1a1a" stroke-width="0.10" textLength="7.06" lengthAdjust="spacingAndGlyphs" >100</text>
<text x="397.20" y="177.99" font-size="5.18" text-anchor="end" fill="#1a1a1a" font-weight="normal" stroke="#1a1a1a" stroke-width="0.10" textLength="7.06" lengthAdjust="spacingAndGlyphs" >120</text>
<text x="397.20" y="169.08" font-size="5.18" text-anchor="end" fill="#1a1a1a" font-weight="normal" stroke="#1a1a1a" stroke-width="0.10" textLength="7.06" lengthAdjust="spacingAndGlyphs" >140</text>
<text x="430.85" y="239.90" font-size="4.94" text-anchor="middle" fill="#1a1a1a" font-weight="normal" stroke="#1a1a1a" stroke-width="0.04" textLength="7.27" lengthAdjust="spacingAndGlyphs" >CCI</text>
<text x="388.40" y="198.50" font-size="4.41" text-anchor="middle" fill="#1a1a1a" font-weight="normal" stroke="#1a1a1a" stroke-width="0.04" textLength="24.38" lengthAdjust="spacingAndGlyphs" transform="rotate(-90 388.40 198.50)">Hue (VN06)</text>
<text x="402.60" y="175.10" font-size="5.10" text-anchor="start" fill="#000" font-weight="bold" stroke="#000" stroke-width="0.18" textLength="25.14" lengthAdjust="spacingAndGlyphs" >Leaf Flush</text>
<path d="M488.55 167.30V229.70M502.46 167.30V229.70M516.38 167.30V229.70M530.29 167.30V229.70M544.20 167.30V229.70M480.90 229.70H544.20M480.90 220.79H544.20M480.90 211.87H544.20M480.90 202.96H544.20M480.90 194.04H544.20M480.90 185.13H544.20M480.90 176.21H544.20M480.90 167.30H544.20" stroke="#ececec" stroke-width="0.6" fill="none"/>
<path d="M499.5 194.9h0M499.6 194.7h0M497.7 200.0h0M499.3 195.8h0M499.9 194.7h0M496.5 203.0h0M499.7 195.1h0M499.8 195.3h0M499.0 196.8h0" stroke="#0000ff" stroke-width="1.00" stroke-linecap="round" fill="none"/>
<path d="M489.4 215.6h0M491.8 212.8h0M489.5 213.7h0M491.2 212.1h0M491.9 213.6h0M492.1 212.3h0M488.1 214.2h0M489.7 212.5h0M490.7 214.6h0M490.2 215.6h0M489.6 214.3h0M492.4 214.1h0M489.3 212.0h0M488.3 213.5h0M489.6 212.7h0M489.0 212.7h0M490.0 215.3h0M489.5 212.5h0M489.4 213.7h0M488.2 212.8h0M492.9 212.9h0M490.0 213.7h0M488.9 212.6h0M489.4 214.4h0M489.0 214.6h0M491.1 212.3h0M489.4 213.9h0M488.8 213.3h0M490.9 212.8h0M490.1 212.3h0M493.0 214.0h0M488.3 213.9h0M494.8 213.2h0M496.2 213.4h0M497.2 213.2h0" stroke="#ff0000" stroke-width="1.00" stroke-linecap="round" fill="none"/>
<path d="M487.9 215.9h0M489.2 215.0h0" stroke="#800080" stroke-width="1.00" stroke-linecap="round" fill="none"/>
<rect x="480.90" y="167.30" width="63.30" height="62.40" fill="none" stroke="#b0b0b0" stroke-width="0.80"/>
<path d="M488.55 229.70v1.30M502.46 229.70v1.30M516.38 229.70v1.30M530.29 229.70v1.30M544.20 229.70v1.30M480.90 229.70h-1.30M480.90 220.79h-1.30M480.90 211.87h-1.30M480.90 202.96h-1.30M480.90 194.04h-1.30M480.90 185.13h-1.30M480.90 176.21h-1.30M480.90 167.30h-1.30" stroke="#b0b0b0" stroke-width="0.80" fill="none"/>
<text x="488.55" y="235.00" font-size="5.18" text-anchor="middle" fill="#1a1a1a" font-weight="normal" stroke="#1a1a1a" stroke-width="0.10" textLength="8.98" lengthAdjust="spacingAndGlyphs" >−0.2</text>
<text x="502.46" y="235.00" font-size="5.18" text-anchor="middle" fill="#1a1a1a" font-weight="normal" stroke="#1a1a1a" stroke-width="0.10" textLength="5.88" lengthAdjust="spacingAndGlyphs" >0.0</text>
<text x="516.38" y="235.00" font-size="5.18" text-anchor="middle" fill="#1a1a1a" font-weight="normal" stroke="#1a1a1a" stroke-width="0.10" textLength="5.88" lengthAdjust="spacingAndGlyphs" >0.2</text>
<text x="530.29" y="235.00" font-size="5.18" text-anchor="middle" fill="#1a1a1a" font-weight="normal" stroke="#1a1a1a" stroke-width="0.10" textLength="5.88" lengthAdjust="spacingAndGlyphs" >0.4</text>
<text x="544.20" y="235.00" font-size="5.18" text-anchor="middle" fill="#1a1a1a" font-weight="normal" stroke="#1a1a1a" stroke-width="0.10" textLength="5.88" lengthAdjust="spacingAndGlyphs" >0.6</text>
<text x="479.40" y="231.48" font-size="5.18" text-anchor="end" fill="#1a1a1a" font-weight="normal" stroke="#1a1a1a" stroke-width="0.10" textLength="2.35" lengthAdjust="spacingAndGlyphs" >0</text>
<text x="479.40" y="222.56" font-size="5.18" text-anchor="end" fill="#1a1a1a" font-weight="normal" stroke="#1a1a1a" stroke-width="0.10" textLength="4.71" lengthAdjust="spacingAndGlyphs" >20</text>
<text x="479.40" y="213.65" font-size="5.18" text-anchor="end" fill="#1a1a1a" font-weight="normal" stroke="#1a1a1a" stroke-width="0.10" textLength="4.71" lengthAdjust="spacingAndGlyphs" >40</text>
<text x="479.40" y="204.73" font-size="5.18" text-anchor="end" fill="#1a1a1a" font-weight="normal" stroke="#1a1a1a" stroke-width="0.10" textLength="4.71" lengthAdjust="spacingAndGlyphs" >60</text>
<text x="479.40" y="195.82" font-size="5.18" text-anchor="end" fill="#1a1a1a" font-weight="normal" stroke="#1a1a1a" stroke-width="0.10" textLength="4.71" lengthAdjust="spacingAndGlyphs" >80</text>
<text x="479.40" y="186.90" font-size="5.18" text-anchor="end" fill="#1a1a1a" font-weight="normal" stroke="#1a1a1a" stroke-width="0.10" textLength="7.06" lengthAdjust="spacingAndGlyphs" >100</text>
<text x="479.40" y="177.99" font-size="5.18" text-anchor="end" fill="#1a1a1a" font-weight="normal" stroke="#1a1a1a" stroke-width="0.10" textLength="7.06" lengthAdjust="spacingAndGlyphs" >120</text>
<text x="479.40" y="169.08" font-size="5.18" text-anchor="end" fill="#1a1a1a" font-weight="normal" stroke="#1a1a1a" stroke-width="0.10" textLength="7.06" lengthAdjust="spacingAndGlyphs" >140</text>
<text x="513.05" y="239.90" font-size="4.94" text-anchor="middle" fill="#1a1a1a" font-weight="normal" stroke="#1a1a1a" stroke-width="0.04" textLength="7.27" lengthAdjust="spacingAndGlyphs" >CCI</text>
<text x="470.60" y="198.50" font-size="4.41" text-anchor="middle" fill="#1a1a1a" font-weight="normal" stroke="#1a1a1a" stroke-width="0.04" textLength="24.38" lengthAdjust="spacingAndGlyphs" transform="rotate(-90 470.60 198.50)">Hue (VN06)</text>
<text x="484.80" y="175.10" font-size="5.10" text-anchor="start" fill="#000" font-weight="bold" stroke="#000" stroke-width="0.18" textLength="27.29" lengthAdjust="spacingAndGlyphs" >Understory</text>
<path d="M241.95 243.20V305.60M255.86 243.20V305.60M269.78 243.20V305.60M283.69 243.20V305.60M297.60 243.20V305.60M234.30 305.60H297.60M234.30 296.69H297.60M234.30 287.77H297.60M234.30 278.86H297.60M234.30 269.94H297.60M234.30 261.03H297.60M234.30 252.11H297.60M234.30 243.20H297.60" stroke="#ececec" stroke-width="0.6" fill="none"/>
<path d="M238.4 291.8h0M240.3 291.2h0M235.8 292.6h0M242.0 290.8h0M244.0 290.2h0M244.3 290.3h0M239.2 291.8h0M241.4 290.9h0M240.1 291.5h0M239.3 291.4h0M244.7 290.1h0M240.1 291.5h0M244.5 289.6h0M236.0 292.7h0M242.5 291.0h0M241.3 290.4h0M238.4 291.6h0M244.3 290.1h0M235.7 292.7h0M238.8 292.2h0M238.1 292.0h0M242.4 291.7h0M241.4 290.4h0M244.0 290.2h0M236.4 292.7h0M248.9 290.4h0M249.6 290.9h0" stroke="#008000" stroke-width="1.00" stroke-linecap="round" fill="none"/>
<path d="M243.5 288.0h0M240.4 290.7h0M244.1 289.6h0M241.4 289.6h0M242.8 290.7h0M245.3 289.5h0M243.0 289.3h0M243.7 290.4h0M240.1 287.9h0M238.9 290.4h0M239.8 290.0h0M243.2 291.1h0M242.2 291.0h0M242.9 289.3h0M243.0 290.4h0M239.3 288.2h0M244.2 290.5h0M239.2 290.7h0M244.1 289.7h0M244.9 288.3h0M238.9 290.8h0M238.9 288.7h0M244.9 290.7h0M243.5 290.0h0M242.6 289.7h0M244.2 287.8h0M243.1 291.0h0M244.7 288.4h0M244.5 290.7h0M242.7 288.0h0M244.6 285.1h0M243.5 285.9h0M245.1 284.8h0M243.0 286.4h0M243.3 287.3h0M252.7 290.0h0M251.7 289.6h0" stroke="#ffa500" stroke-width="1.00" stroke-linecap="round" fill="none"/>
<rect x="234.30" y="243.20" width="63.30" height="62.40" fill="none" stroke="#b0b0b0" stroke-width="0.80"/>
<path d="M241.95 305.60v1.30M255.86 305.60v1.30M269.78 305.60v1.30M283.69 305.60v1.30M297.60 305.60v1.30M234.30 305.60h-1.30M234.30 296.69h-1.30M234.30 287.77h-1.30M234.30 278.86h-1.30M234.30 269.94h-1.30M234.30 261.03h-1.30M234.30 252.11h-1.30M234.30 243.20h-1.30" stroke="#b0b0b0" stroke-width="0.80" fill="none"/>
<text x="241.95" y="310.90" font-size="5.18" text-anchor="middle" fill="#1a1a1a" font-weight="normal" stroke="#1a1a1a" stroke-width="0.10" textLength="8.98" lengthAdjust="spacingAndGlyphs" >−0.2</text>
<text x="255.86" y="310.90" font-size="5.18" text-anchor="middle" fill="#1a1a1a" font-weight="normal" stroke="#1a1a1a" stroke-width="0.10" textLength="5.88" lengthAdjust="spacingAndGlyphs" >0.0</text>
<text x="269.78" y="310.90" font-size="5.18" text-anchor="middle" fill="#1a1a1a" font-weight="normal" stroke="#1a1a1a" stroke-width="0.10" textLength="5.88" lengthAdjust="spacingAndGlyphs" >0.2</text>
<text x="283.69" y="310.90" font-size="5.18" text-anchor="middle" fill="#1a1a1a" font-weight="normal" stroke="#1a1a1a" stroke-width="0.10" textLength="5.88" lengthAdjust="spacingAndGlyphs" >0.4</text>
<text x="297.60" y="310.90" font-size="5.18" text-anchor="middle" fill="#1a1a1a" font-weight="normal" stroke="#1a1a1a" stroke-width="0.10" textLength="5.88" lengthAdjust="spacingAndGlyphs" >0.6</text>
<text x="232.80" y="307.38" font-size="5.18" text-anchor="end" fill="#1a1a1a" font-weight="normal" stroke="#1a1a1a" stroke-width="0.10" textLength="2.35" lengthAdjust="spacingAndGlyphs" >0</text>
<text x="232.80" y="298.46" font-size="5.18" text-anchor="end" fill="#1a1a1a" font-weight="normal" stroke="#1a1a1a" stroke-width="0.10" textLength="4.71" lengthAdjust="spacingAndGlyphs" >20</text>
<text x="232.80" y="289.55" font-size="5.18" text-anchor="end" fill="#1a1a1a" font-weight="normal" stroke="#1a1a1a" stroke-width="0.10" textLength="4.71" lengthAdjust="spacingAndGlyphs" >40</text>
<text x="232.80" y="280.63" font-size="5.18" text-anchor="end" fill="#1a1a1a" font-weight="normal" stroke="#1a1a1a" stroke-width="0.10" textLength="4.71" lengthAdjust="spacingAndGlyphs" >60</text>
<text x="232.80" y="271.72" font-size="5.18" text-anchor="end" fill="#1a1a1a" font-weight="normal" stroke="#1a1a1a" stroke-width="0.10" textLength="4.71" lengthAdjust="spacingAndGlyphs" >80</text>
<text x="232.80" y="262.80" font-size="5.18" text-anchor="end" fill="#1a1a1a" font-weight="normal" stroke="#1a1a1a" stroke-width="0.10" textLength="7.06" lengthAdjust="spacingAndGlyphs" >100</text>
<text x="232.80" y="253.89" font-size="5.18" text-anchor="end" fill="#1a1a1a" font-weight="normal" stroke="#1a1a1a" stroke-width="0.10" textLength="7.06" lengthAdjust="spacingAndGlyphs" >120</text>
<text x="232.80" y="244.98" font-size="5.18" text-anchor="end" fill="#1a1a1a" font-weight="normal" stroke="#1a1a1a" stroke-width="0.10" textLength="7.06" lengthAdjust="spacingAndGlyphs" >140</text>
<text x="266.45" y="315.80" font-size="4.94" text-anchor="middle" fill="#1a1a1a" font-weight="normal" stroke="#1a1a1a" stroke-width="0.04" textLength="7.27" lengthAdjust="spacingAndGlyphs" >CCI</text>
<text x="224.00" y="274.40" font-size="4.41" text-anchor="middle" fill="#1a1a1a" font-weight="normal" stroke="#1a1a1a" stroke-width="0.04" textLength="24.38" lengthAdjust="spacingAndGlyphs" transform="rotate(-90 224.00 274.40)">Hue (VN06)</text>
<text x="238.20" y="251.00" font-size="5.10" text-anchor="start" fill="#000" font-weight="bold" stroke="#000" stroke-width="0.18" textLength="21.81" lengthAdjust="spacingAndGlyphs" >Bare Soil</text>
<path d="M324.15 243.20V305.60M338.06 243.20V305.60M351.98 243.20V305.60M365.89 243.20V305.60M379.80 243.20V305.60M316.50 305.60H379.80M316.50 296.69H379.80M316.50 287.77H379.80M316.50 278.86H379.80M316.50 269.94H379.80M316.50 261.03H379.80M316.50 252.11H379.80M316.50 243.20H379.80" stroke="#ececec" stroke-width="0.6" fill="none"/>
<path d="M336.4 280.8h0M336.4 284.1h0" stroke="#0000ff" stroke-width="1.00" stroke-linecap="round" fill="none"/>
<path d="M334.9 291.0h0M333.4 290.3h0M333.3 291.1h0M333.9 289.5h0M336.9 290.8h0M334.6 289.1h0M333.8 287.6h0M334.0 289.3h0M333.8 290.4h0M334.2 291.7h0M334.1 287.3h0M333.0 289.7h0M336.7 288.6h0M335.1 288.8h0M334.6 289.8h0M333.2 292.2h0M333.5 288.5h0M334.9 290.3h0M334.2 290.1h0M335.5 288.9h0M336.6 290.4h0M335.1 289.7h0M334.7 288.1h0M336.3 289.2h0M335.1 287.8h0M334.9 290.7h0M336.0 289.1h0M336.8 289.2h0M335.9 290.2h0M334.9 289.8h0M334.1 291.0h0M334.5 290.7h0M335.0 288.7h0M335.5 288.3h0M333.3 290.1h0M334.5 290.9h0M333.4 291.1h0M333.3 289.7h0M334.8 288.5h0M335.2 289.2h0M335.4 289.1h0M333.9 288.6h0M335.4 292.1h0M334.2 291.0h0M333.2 288.8h0" stroke="#ff0000" stroke-width="1.00" stroke-linecap="round" fill="none"/>
<rect x="316.50" y="243.20" width="63.30" height="62.40" fill="none" stroke="#b0b0b0" stroke-width="0.80"/>
<path d="M324.15 305.60v1.30M338.06 305.60v1.30M351.98 305.60v1.30M365.89 305.60v1.30M379.80 305.60v1.30M316.50 305.60h-1.30M316.50 296.69h-1.30M316.50 287.77h-1.30M316.50 278.86h-1.30M316.50 269.94h-1.30M316.50 261.03h-1.30M316.50 252.11h-1.30M316.50 243.20h-1.30" stroke="#b0b0b0" stroke-width="0.80" fill="none"/>
<text x="324.15" y="310.90" font-size="5.18" text-anchor="middle" fill="#1a1a1a" font-weight="normal" stroke="#1a1a1a" stroke-width="0.10" textLength="8.98" lengthAdjust="spacingAndGlyphs" >−0.2</text>
<text x="338.06" y="310.90" font-size="5.18" text-anchor="middle" fill="#1a1a1a" font-weight="normal" stroke="#1a1a1a" stroke-width="0.10" textLength="5.88" lengthAdjust="spacingAndGlyphs" >0.0</text>
<text x="351.98" y="310.90" font-size="5.18" text-anchor="middle" fill="#1a1a1a" font-weight="normal" stroke="#1a1a1a" stroke-width="0.10" textLength="5.88" lengthAdjust="spacingAndGlyphs" >0.2</text>
<text x="365.89" y="310.90" font-size="5.18" text-anchor="middle" fill="#1a1a1a" font-weight="normal" stroke="#1a1a1a" stroke-width="0.10" textLength="5.88" lengthAdjust="spacingAndGlyphs" >0.4</text>
<text x="379.80" y="310.90" font-size="5.18" text-anchor="middle" fill="#1a1a1a" font-weight="normal" stroke="#1a1a1a" stroke-width="0.10" textLength="5.88" lengthAdjust="spacingAndGlyphs" >0.6</text>
<text x="315.00" y="307.38" font-size="5.18" text-anchor="end" fill="#1a1a1a" font-weight="normal" stroke="#1a1a1a" stroke-width="0.10" textLength="2.35" lengthAdjust="spacingAndGlyphs" >0</text>
<text x="315.00" y="298.46" font-size="5.18" text-anchor="end" fill="#1a1a1a" font-weight="normal" stroke="#1a1a1a" stroke-width="0.10" textLength="4.71" lengthAdjust="spacingAndGlyphs" >20</text>
<text x="315.00" y="289.55" font-size="5.18" text-anchor="end" fill="#1a1a1a" font-weight="normal" stroke="#1a1a1a" stroke-width="0.10" textLength="4.71" lengthAdjust="spacingAndGlyphs" >40</text>
<text x="315.00" y="280.63" font-size="5.18" text-anchor="end" fill="#1a1a1a" font-weight="normal" stroke="#1a1a1a" stroke-width="0.10" textLength="4.71" lengthAdjust="spacingAndGlyphs" >60</text>
<text x="315.00" y="271.72" font-size="5.18" text-anchor="end" fill="#1a1a1a" font-weight="normal" stroke="#1a1a1a" stroke-width="0.10" textLength="4.71" lengthAdjust="spacingAndGlyphs" >80</text>
<text x="315.00" y="262.80" font-size="5.18" text-anchor="end" fill="#1a1a1a" font-weight="normal" stroke="#1a1a1a" stroke-width="0.10" textLength="7.06" lengthAdjust="spacingAndGlyphs" >100</text>
<text x="315.00" y="253.89" font-size="5.18" text-anchor="end" fill="#1a1a1a" font-weight="normal" stroke="#1a1a1a" stroke-width="0.10" textLength="7.06" lengthAdjust="spacingAndGlyphs" >120</text>
<text x="315.00" y="244.98" font-size="5.18" text-anchor="end" fill="#1a1a1a" font-weight="normal" stroke="#1a1a1a" stroke-width="0.10" textLength="7.06" lengthAdjust="spacingAndGlyphs" >140</text>
<text x="348.65" y="315.80" font-size="4.94" text-anchor="middle" fill="#1a1a1a" font-weight="normal" stroke="#1a1a1a" stroke-width="0.04" textLength="7.27" lengthAdjust="spacingAndGlyphs" >CCI</text>
<text x="306.20" y="274.40" font-size="4.41" text-anchor="middle" fill="#1a1a1a" font-weight="normal" stroke="#1a1a1a" stroke-width="0.04" textLength="24.38" lengthAdjust="spacingAndGlyphs" transform="rotate(-90 306.20 274.40)">Hue (VN06)</text>
<text x="320.40" y="251.00" font-size="5.10" text-anchor="start" fill="#000" font-weight="bold" stroke="#000" stroke-width="0.18" textLength="23.42" lengthAdjust="spacingAndGlyphs" >Full Snow</text>
<path d="M406.35 243.20V305.60M420.26 243.20V305.60M434.18 243.20V305.60M448.09 243.20V305.60M462.00 243.20V305.60M398.70 305.60H462.00M398.70 296.69H462.00M398.70 287.77H462.00M398.70 278.86H462.00M398.70 269.94H462.00M398.70 261.03H462.00M398.70 252.11H462.00M398.70 243.20H462.00" stroke="#ececec" stroke-width="0.6" fill="none"/>
<path d="M415.0 281.3h0M415.8 282.9h0M414.8 281.1h0M416.7 283.0h0M414.3 279.3h0M414.6 281.1h0M417.0 284.1h0M415.5 281.7h0M417.5 277.2h0M417.6 275.8h0M417.3 279.0h0M417.3 278.4h0" stroke="#0000ff" stroke-width="1.00" stroke-linecap="round" fill="none"/>
<path d="M417.8 289.6h0" stroke="#008000" stroke-width="1.00" stroke-linecap="round" fill="none"/>
<path d="M418.2 286.0h0M418.5 287.8h0" stroke="#ffa500" stroke-width="1.00" stroke-linecap="round" fill="none"/>
<path d="M410.6 290.7h0M416.6 290.6h0M412.7 288.8h0M409.8 288.4h0M413.9 290.3h0M413.5 289.3h0M409.2 289.1h0M417.1 288.9h0M410.8 288.7h0M414.7 288.3h0M415.1 289.8h0M413.9 288.5h0M416.6 289.3h0M414.5 289.4h0M412.1 289.1h0M408.1 289.6h0M416.3 288.6h0M415.7 289.0h0M413.9 289.1h0M412.8 290.0h0M414.6 290.5h0M408.7 290.0h0M415.8 290.2h0M411.8 290.4h0M408.8 290.5h0M417.1 288.9h0M415.1 289.1h0M412.0 288.3h0M413.8 289.7h0M416.5 288.2h0M414.5 289.8h0M415.4 288.1h0M417.4 290.0h0M415.2 290.5h0M412.5 289.0h0M413.5 289.6h0M414.8 290.0h0M414.5 289.8h0M413.6 288.5h0M413.6 289.4h0M414.6 290.5h0M413.5 289.2h0M414.1 288.7h0M412.7 289.4h0M415.6 289.7h0" stroke="#ff0000" stroke-width="1.00" stroke-linecap="round" fill="none"/>
<path d="M412.2 293.0h0M417.5 298.0h0" stroke="#800080" stroke-width="1.00" stroke-linecap="round" fill="none"/>
<rect x="398.70" y="243.20" width="63.30" height="62.40" fill="none" stroke="#b0b0b0" stroke-width="0.80"/>
<path d="M406.35 305.60v1.30M420.26 305.60v1.30M434.18 305.60v1.30M448.09 305.60v1.30M462.00 305.60v1.30M398.70 305.60h-1.30M398.70 296.69h-1.30M398.70 287.77h-1.30M398.70 278.86h-1.30M398.70 269.94h-1.30M398.70 261.03h-1.30M398.70 252.11h-1.30M398.70 243.20h-1.30" stroke="#b0b0b0" stroke-width="0.80" fill="none"/>
<text x="406.35" y="310.90" font-size="5.18" text-anchor="middle" fill="#1a1a1a" font-weight="normal" stroke="#1a1a1a" stroke-width="0.10" textLength="8.98" lengthAdjust="spacingAndGlyphs" >−0.2</text>
<text x="420.26" y="310.90" font-size="5.18" text-anchor="middle" fill="#1a1a1a" font-weight="normal" stroke="#1a1a1a" stroke-width="0.10" textLength="5.88" lengthAdjust="spacingAndGlyphs" >0.0</text>
<text x="434.18" y="310.90" font-size="5.18" text-anchor="middle" fill="#1a1a1a" font-weight="normal" stroke="#1a1a1a" stroke-width="0.10" textLength="5.88" lengthAdjust="spacingAndGlyphs" >0.2</text>
<text x="448.09" y="310.90" font-size="5.18" text-anchor="middle" fill="#1a1a1a" font-weight="normal" stroke="#1a1a1a" stroke-width="0.10" textLength="5.88" lengthAdjust="spacingAndGlyphs" >0.4</text>
<text x="462.00" y="310.90" font-size="5.18" text-anchor="middle" fill="#1a1a1a" font-weight="normal" stroke="#1a1a1a" stroke-width="0.10" textLength="5.88" lengthAdjust="spacingAndGlyphs" >0.6</text>
<text x="397.20" y="307.38" font-size="5.18" text-anchor="end" fill="#1a1a1a" font-weight="normal" stroke="#1a1a1a" stroke-width="0.10" textLength="2.35" lengthAdjust="spacingAndGlyphs" >0</text>
<text x="397.20" y="298.46" font-size="5.18" text-anchor="end" fill="#1a1a1a" font-weight="normal" stroke="#1a1a1a" stroke-width="0.10" textLength="4.71" lengthAdjust="spacingAndGlyphs" >20</text>
<text x="397.20" y="289.55" font-size="5.18" text-anchor="end" fill="#1a1a1a" font-weight="normal" stroke="#1a1a1a" stroke-width="0.10" textLength="4.71" lengthAdjust="spacingAndGlyphs" >40</text>
<text x="397.20" y="280.63" font-size="5.18" text-anchor="end" fill="#1a1a1a" font-weight="normal" stroke="#1a1a1a" stroke-width="0.10" textLength="4.71" lengthAdjust="spacingAndGlyphs" >60</text>
<text x="397.20" y="271.72" font-size="5.18" text-anchor="end" fill="#1a1a1a" font-weight="normal" stroke="#1a1a1a" stroke-width="0.10" textLength="4.71" lengthAdjust="spacingAndGlyphs" >80</text>
<text x="397.20" y="262.80" font-size="5.18" text-anchor="end" fill="#1a1a1a" font-weight="normal" stroke="#1a1a1a" stroke-width="0.10" textLength="7.06" lengthAdjust="spacingAndGlyphs" >100</text>
<text x="397.20" y="253.89" font-size="5.18" text-anchor="end" fill="#1a1a1a" font-weight="normal" stroke="#1a1a1a" stroke-width="0.10" textLength="7.06" lengthAdjust="spacingAndGlyphs" >120</text>
<text x="397.20" y="244.98" font-size="5.18" text-anchor="end" fill="#1a1a1a" font-weight="normal" stroke="#1a1a1a" stroke-width="0.10" textLength="7.06" lengthAdjust="spacingAndGlyphs" >140</text>
<text x="430.85" y="315.80" font-size="4.94" text-anchor="middle" fill="#1a1a1a" font-weight="normal" stroke="#1a1a1a" stroke-width="0.04" textLength="7.27" lengthAdjust="spacingAndGlyphs" >CCI</text>
<text x="388.40" y="274.40" font-size="4.41" text-anchor="middle" fill="#1a1a1a" font-weight="normal" stroke="#1a1a1a" stroke-width="0.04" textLength="24.38" lengthAdjust="spacingAndGlyphs" transform="rotate(-90 388.40 274.40)">Hue (VN06)</text>
<text x="402.60" y="251.00" font-size="5.10" text-anchor="start" fill="#000" font-weight="bold" stroke="#000" stroke-width="0.18" textLength="30.69" lengthAdjust="spacingAndGlyphs" >Partial Snow</text>
<path d="M488.55 243.20V305.60M502.46 243.20V305.60M516.38 243.20V305.60M530.29 243.20V305.60M544.20 243.20V305.60M480.90 305.60H544.20M480.90 296.69H544.20M480.90 287.77H544.20M480.90 278.86H544.20M480.90 269.94H544.20M480.90 261.03H544.20M480.90 252.11H544.20M480.90 243.20H544.20" stroke="#ececec" stroke-width="0.6" fill="none"/>
<path d="M491.2 287.2h0M492.3 289.4h0M493.3 288.6h0M492.9 289.2h0M493.3 288.6h0M493.1 289.6h0M492.5 287.8h0M492.9 288.0h0M493.6 289.0h0M493.9 289.9h0M492.2 288.9h0M492.5 289.6h0M493.1 288.5h0M494.8 287.6h0M494.4 288.9h0M494.8 287.5h0M495.9 286.2h0M495.6 285.9h0M497.6 284.3h0M495.7 286.2h0" stroke="#ffa500" stroke-width="1.00" stroke-linecap="round" fill="none"/>
<rect x="480.90" y="243.20" width="63.30" height="62.40" fill="none" stroke="#b0b0b0" stroke-width="0.80"/>
<path d="M488.55 305.60v1.30M502.46 305.60v1.30M516.38 305.60v1.30M530.29 305.60v1.30M544.20 305.60v1.30M480.90 305.60h-1.30M480.90 296.69h-1.30M480.90 287.77h-1.30M480.90 278.86h-1.30M480.90 269.94h-1.30M480.90 261.03h-1.30M480.90 252.11h-1.30M480.90 243.20h-1.30" stroke="#b0b0b0" stroke-width="0.80" fill="none"/>
<text x="488.55" y="310.90" font-size="5.18" text-anchor="middle" fill="#1a1a1a" font-weight="normal" stroke="#1a1a1a" stroke-width="0.10" textLength="8.98" lengthAdjust="spacingAndGlyphs" >−0.2</text>
<text x="502.46" y="310.90" font-size="5.18" text-anchor="middle" fill="#1a1a1a" font-weight="normal" stroke="#1a1a1a" stroke-width="0.10" textLength="5.88" lengthAdjust="spacingAndGlyphs" >0.0</text>
<text x="516.38" y="310.90" font-size="5.18" text-anchor="middle" fill="#1a1a1a" font-weight="normal" stroke="#1a1a1a" stroke-width="0.10" textLength="5.88" lengthAdjust="spacingAndGlyphs" >0.2</text>
<text x="530.29" y="310.90" font-size="5.18" text-anchor="middle" fill="#1a1a1a" font-weight="normal" stroke="#1a1a1a" stroke-width="0.10" textLength="5.88" lengthAdjust="spacingAndGlyphs" >0.4</text>
<text x="544.20" y="310.90" font-size="5.18" text-anchor="middle" fill="#1a1a1a" font-weight="normal" stroke="#1a1a1a" stroke-width="0.10" textLength="5.88" lengthAdjust="spacingAndGlyphs" >0.6</text>
<text x="479.40" y="307.38" font-size="5.18" text-anchor="end" fill="#1a1a1a" font-weight="normal" stroke="#1a1a1a" stroke-width="0.10" textLength="2.35" lengthAdjust="spacingAndGlyphs" >0</text>
<text x="479.40" y="298.46" font-size="5.18" text-anchor="end" fill="#1a1a1a" font-weight="normal" stroke="#1a1a1a" stroke-width="0.10" textLength="4.71" lengthAdjust="spacingAndGlyphs" >20</text>
<text x="479.40" y="289.55" font-size="5.18" text-anchor="end" fill="#1a1a1a" font-weight="normal" stroke="#1a1a1a" stroke-width="0.10" textLength="4.71" lengthAdjust="spacingAndGlyphs" >40</text>
<text x="479.40" y="280.63" font-size="5.18" text-anchor="end" fill="#1a1a1a" font-weight="normal" stroke="#1a1a1a" stroke-width="0.10" textLength="4.71" lengthAdjust="spacingAndGlyphs" >60</text>
<text x="479.40" y="271.72" font-size="5.18" text-anchor="end" fill="#1a1a1a" font-weight="normal" stroke="#1a1a1a" stroke-width="0.10" textLength="4.71" lengthAdjust="spacingAndGlyphs" >80</text>
<text x="479.40" y="262.80" font-size="5.18" text-anchor="end" fill="#1a1a1a" font-weight="normal" stroke="#1a1a1a" stroke-width="0.10" textLength="7.06" lengthAdjust="spacingAndGlyphs" >100</text>
<text x="479.40" y="253.89" font-size="5.18" text-anchor="end" fill="#1a1a1a" font-weight="normal" stroke="#1a1a1a" stroke-width="0.10" textLength="7.06" lengthAdjust="spacingAndGlyphs" >120</text>
<text x="479.40" y="244.98" font-size="5.18" text-anchor="end" fill="#1a1a1a" font-weight="normal" stroke="#1a1a1a" stroke-width="0.10" textLength="7.06" lengthAdjust="spacingAndGlyphs" >140</text>
<text x="513.05" y="315.80" font-size="4.94" text-anchor="middle" fill="#1a1a1a" font-weight="normal" stroke="#1a1a1a" stroke-width="0.04" textLength="7.27" lengthAdjust="spacingAndGlyphs" >CCI</text>
<text x="470.60" y="274.40" font-size="4.41" text-anchor="middle" fill="#1a1a1a" font-weight="normal" stroke="#1a1a1a" stroke-width="0.04" textLength="24.38" lengthAdjust="spacingAndGlyphs" transform="rotate(-90 470.60 274.40)">Hue (VN06)</text>
<text x="484.80" y="251.00" font-size="5.10" text-anchor="start" fill="#000" font-weight="bold" stroke="#000" stroke-width="0.18" textLength="19.48" lengthAdjust="spacingAndGlyphs" >Flooded</text>
<path d="M3.3 160.5H547.6" stroke="#111" stroke-width="1.2"/>
</svg></body></html>
